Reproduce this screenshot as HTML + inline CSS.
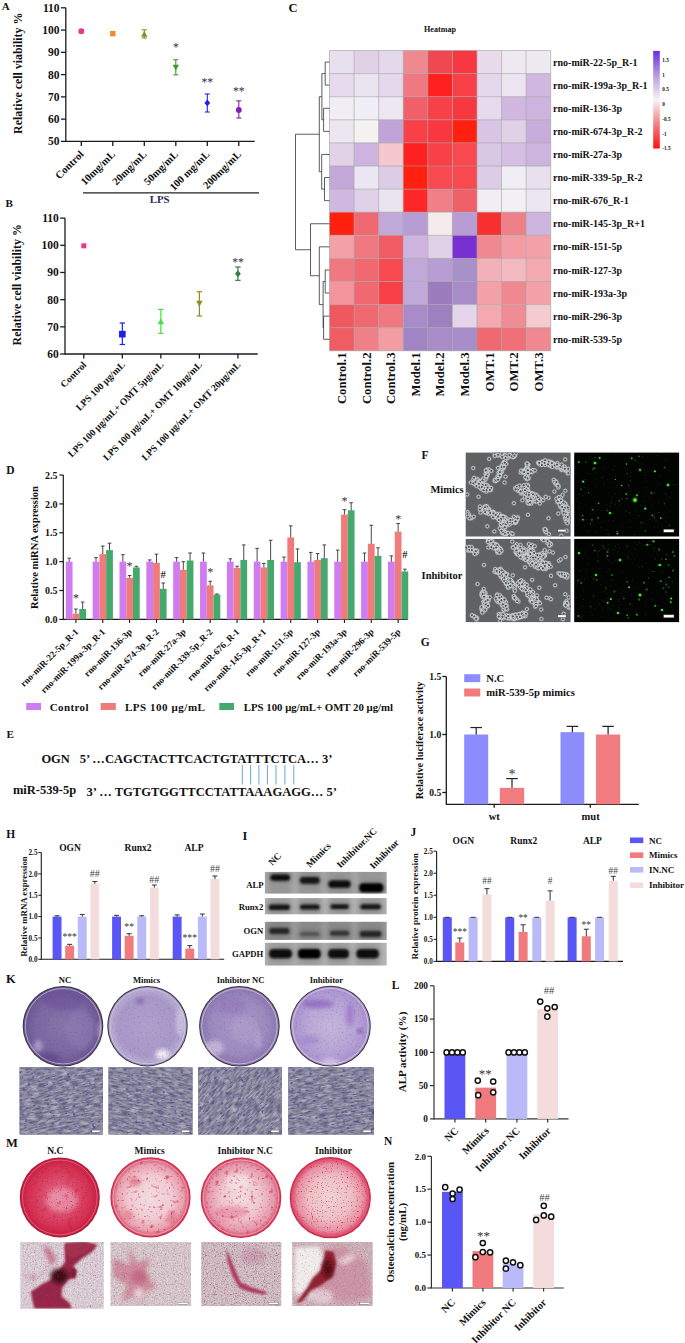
<!DOCTYPE html>
<html><head><meta charset="utf-8"><style>
html,body{margin:0;padding:0;background:#fff;}
body{width:685px;height:1343px;overflow:hidden;position:relative;font-family:"Liberation Serif", serif;}
svg{position:absolute;left:0;top:0;}
</style></head><body>
<svg width="685" height="1343" viewBox="0 0 685 1343" font-family='"Liberation Serif", serif'>
<text x="1.80" y="10.40" font-size="11" text-anchor="start" font-weight="bold" fill="#111" >A</text>
<line x1="65.80" y1="7.80" x2="65.80" y2="142.00" stroke="#1a1a1a" stroke-width="1.3"/>
<line x1="61.00" y1="141.40" x2="65.80" y2="141.40" stroke="#1a1a1a" stroke-width="1.3"/>
<text x="59.60" y="145.40" font-size="11.5" text-anchor="end" font-weight="bold" fill="#111" >50</text>
<line x1="61.00" y1="119.13" x2="65.80" y2="119.13" stroke="#1a1a1a" stroke-width="1.3"/>
<text x="59.60" y="123.13" font-size="11.5" text-anchor="end" font-weight="bold" fill="#111" >60</text>
<line x1="61.00" y1="96.87" x2="65.80" y2="96.87" stroke="#1a1a1a" stroke-width="1.3"/>
<text x="59.60" y="100.87" font-size="11.5" text-anchor="end" font-weight="bold" fill="#111" >70</text>
<line x1="61.00" y1="74.60" x2="65.80" y2="74.60" stroke="#1a1a1a" stroke-width="1.3"/>
<text x="59.60" y="78.60" font-size="11.5" text-anchor="end" font-weight="bold" fill="#111" >80</text>
<line x1="61.00" y1="52.33" x2="65.80" y2="52.33" stroke="#1a1a1a" stroke-width="1.3"/>
<text x="59.60" y="56.33" font-size="11.5" text-anchor="end" font-weight="bold" fill="#111" >90</text>
<line x1="61.00" y1="30.07" x2="65.80" y2="30.07" stroke="#1a1a1a" stroke-width="1.3"/>
<text x="59.60" y="34.07" font-size="11.5" text-anchor="end" font-weight="bold" fill="#111" >100</text>
<line x1="61.00" y1="7.80" x2="65.80" y2="7.80" stroke="#1a1a1a" stroke-width="1.3"/>
<text x="59.60" y="11.80" font-size="11.5" text-anchor="end" font-weight="bold" fill="#111" >110</text>
<line x1="65.80" y1="141.40" x2="254.70" y2="141.40" stroke="#1a1a1a" stroke-width="1.3"/>
<line x1="81.30" y1="141.40" x2="81.30" y2="145.90" stroke="#1a1a1a" stroke-width="1.3"/>
<line x1="112.80" y1="141.40" x2="112.80" y2="145.90" stroke="#1a1a1a" stroke-width="1.3"/>
<line x1="144.30" y1="141.40" x2="144.30" y2="145.90" stroke="#1a1a1a" stroke-width="1.3"/>
<line x1="175.80" y1="141.40" x2="175.80" y2="145.90" stroke="#1a1a1a" stroke-width="1.3"/>
<line x1="207.30" y1="141.40" x2="207.30" y2="145.90" stroke="#1a1a1a" stroke-width="1.3"/>
<line x1="238.80" y1="141.40" x2="238.80" y2="145.90" stroke="#1a1a1a" stroke-width="1.3"/>
<text x="84.30" y="154.90" font-size="10.6" text-anchor="end" font-weight="bold" fill="#111" transform="rotate(-45 84.30 154.90)" >Control</text>
<text x="115.80" y="154.90" font-size="10.6" text-anchor="end" font-weight="bold" fill="#111" transform="rotate(-45 115.80 154.90)" >10mg/mL</text>
<text x="147.30" y="154.90" font-size="10.6" text-anchor="end" font-weight="bold" fill="#111" transform="rotate(-45 147.30 154.90)" >20mg/mL</text>
<text x="178.80" y="154.90" font-size="10.6" text-anchor="end" font-weight="bold" fill="#111" transform="rotate(-45 178.80 154.90)" >50mg/mL</text>
<text x="210.30" y="154.90" font-size="10.6" text-anchor="end" font-weight="bold" fill="#111" transform="rotate(-45 210.30 154.90)" >100 mg/mL</text>
<text x="241.80" y="154.90" font-size="10.6" text-anchor="end" font-weight="bold" fill="#111" transform="rotate(-45 241.80 154.90)" >200mg/mL</text>
<text x="21.80" y="73.30" font-size="11.9" text-anchor="middle" font-weight="bold" fill="#111" transform="rotate(-90 21.80 73.30)" >Relative cell viability %</text>
<line x1="83.00" y1="192.80" x2="259.00" y2="192.80" stroke="#222" stroke-width="1.2"/>
<text x="159.60" y="203.20" font-size="10.8" text-anchor="middle" font-weight="bold" fill="#2b2b55" >LPS</text>
<line x1="81.30" y1="32.74" x2="81.30" y2="29.62" stroke="#e8378c" stroke-width="1.1"/>
<line x1="78.80" y1="32.74" x2="83.80" y2="32.74" stroke="#e8378c" stroke-width="1.1"/>
<line x1="78.80" y1="29.62" x2="83.80" y2="29.62" stroke="#e8378c" stroke-width="1.1"/>
<circle cx="81.3" cy="31.2" r="2.90" fill="#e8378c" />
<rect x="110.10" y="30.93" width="5.40" height="5.40" fill="#f08a2a" />
<line x1="144.30" y1="38.08" x2="144.30" y2="29.84" stroke="#8c8c26" stroke-width="1.1"/>
<line x1="141.80" y1="38.08" x2="146.80" y2="38.08" stroke="#8c8c26" stroke-width="1.1"/>
<line x1="141.80" y1="29.84" x2="146.80" y2="29.84" stroke="#8c8c26" stroke-width="1.1"/>
<path d="M141.11,36.68 L147.49,36.68 L144.30,30.88 Z" fill="#8c8c26" stroke="none" stroke-width="1" />
<line x1="175.80" y1="74.82" x2="175.80" y2="59.68" stroke="#3e9a2a" stroke-width="1.1"/>
<line x1="173.30" y1="74.82" x2="178.30" y2="74.82" stroke="#3e9a2a" stroke-width="1.1"/>
<line x1="173.30" y1="59.68" x2="178.30" y2="59.68" stroke="#3e9a2a" stroke-width="1.1"/>
<path d="M172.61,64.64 L178.99,64.64 L175.80,70.44 Z" fill="#3e9a2a" stroke="none" stroke-width="1" />
<line x1="207.30" y1="112.01" x2="207.30" y2="93.97" stroke="#2222f0" stroke-width="1.1"/>
<line x1="204.80" y1="112.01" x2="209.80" y2="112.01" stroke="#2222f0" stroke-width="1.1"/>
<line x1="204.80" y1="93.97" x2="209.80" y2="93.97" stroke="#2222f0" stroke-width="1.1"/>
<path d="M207.30,99.40 L210.20,102.88 L207.30,106.36 L204.40,102.88 Z" fill="#2222f0" stroke="none" stroke-width="1" />
<line x1="238.80" y1="118.02" x2="238.80" y2="100.87" stroke="#7d22b4" stroke-width="1.1"/>
<line x1="236.30" y1="118.02" x2="241.30" y2="118.02" stroke="#7d22b4" stroke-width="1.1"/>
<line x1="236.30" y1="100.87" x2="241.30" y2="100.87" stroke="#7d22b4" stroke-width="1.1"/>
<circle cx="238.8" cy="110.0" r="2.90" fill="#7d22b4" />
<text x="175.80" y="51.00" font-size="11.5" text-anchor="middle" font-weight="normal" fill="#2a2a50" >*</text>
<text x="207.30" y="86.00" font-size="11.5" text-anchor="middle" font-weight="normal" fill="#2a2a50" >**</text>
<text x="238.80" y="95.00" font-size="11.5" text-anchor="middle" font-weight="normal" fill="#2a2a50" >**</text>
<text x="5.50" y="206.80" font-size="11" text-anchor="start" font-weight="bold" fill="#111" >B</text>
<line x1="65.00" y1="218.10" x2="65.00" y2="354.60" stroke="#1a1a1a" stroke-width="1.3"/>
<line x1="60.20" y1="354.00" x2="65.00" y2="354.00" stroke="#1a1a1a" stroke-width="1.3"/>
<text x="58.80" y="358.00" font-size="11.5" text-anchor="end" font-weight="bold" fill="#111" >60</text>
<line x1="60.20" y1="326.82" x2="65.00" y2="326.82" stroke="#1a1a1a" stroke-width="1.3"/>
<text x="58.80" y="330.82" font-size="11.5" text-anchor="end" font-weight="bold" fill="#111" >70</text>
<line x1="60.20" y1="299.64" x2="65.00" y2="299.64" stroke="#1a1a1a" stroke-width="1.3"/>
<text x="58.80" y="303.64" font-size="11.5" text-anchor="end" font-weight="bold" fill="#111" >80</text>
<line x1="60.20" y1="272.46" x2="65.00" y2="272.46" stroke="#1a1a1a" stroke-width="1.3"/>
<text x="58.80" y="276.46" font-size="11.5" text-anchor="end" font-weight="bold" fill="#111" >90</text>
<line x1="60.20" y1="245.28" x2="65.00" y2="245.28" stroke="#1a1a1a" stroke-width="1.3"/>
<text x="58.80" y="249.28" font-size="11.5" text-anchor="end" font-weight="bold" fill="#111" >100</text>
<line x1="60.20" y1="218.10" x2="65.00" y2="218.10" stroke="#1a1a1a" stroke-width="1.3"/>
<text x="58.80" y="222.10" font-size="11.5" text-anchor="end" font-weight="bold" fill="#111" >110</text>
<line x1="65.00" y1="354.00" x2="257.70" y2="354.00" stroke="#1a1a1a" stroke-width="1.3"/>
<line x1="83.80" y1="354.00" x2="83.80" y2="358.50" stroke="#1a1a1a" stroke-width="1.3"/>
<line x1="122.33" y1="354.00" x2="122.33" y2="358.50" stroke="#1a1a1a" stroke-width="1.3"/>
<line x1="160.86" y1="354.00" x2="160.86" y2="358.50" stroke="#1a1a1a" stroke-width="1.3"/>
<line x1="199.39" y1="354.00" x2="199.39" y2="358.50" stroke="#1a1a1a" stroke-width="1.3"/>
<line x1="237.92" y1="354.00" x2="237.92" y2="358.50" stroke="#1a1a1a" stroke-width="1.3"/>
<text x="87.00" y="365.50" font-size="9.7" text-anchor="end" font-weight="bold" fill="#111" transform="rotate(-45 87.00 365.50)" >Control</text>
<text x="125.53" y="365.50" font-size="9.7" text-anchor="end" font-weight="bold" fill="#111" transform="rotate(-45 125.53 365.50)" >LPS 100 μg/mL</text>
<text x="164.06" y="365.50" font-size="9.7" text-anchor="end" font-weight="bold" fill="#111" transform="rotate(-45 164.06 365.50)" >LPS 100 μg/mL+ OMT 5μg/mL</text>
<text x="202.59" y="365.50" font-size="9.7" text-anchor="end" font-weight="bold" fill="#111" transform="rotate(-45 202.59 365.50)" >LPS 100 μg/mL+ OMT 10μg/mL</text>
<text x="241.12" y="365.50" font-size="9.7" text-anchor="end" font-weight="bold" fill="#111" transform="rotate(-45 241.12 365.50)" >LPS 100 μg/mL+ OMT 20μg/mL</text>
<text x="20.80" y="284.80" font-size="11.9" text-anchor="middle" font-weight="bold" fill="#111" transform="rotate(-90 20.80 284.80)" >Relative cell viability %</text>
<rect x="81.30" y="243.32" width="5.00" height="5.00" fill="#e8378c" />
<line x1="122.33" y1="344.49" x2="122.33" y2="323.01" stroke="#1e1ef0" stroke-width="1.2"/>
<line x1="119.63" y1="344.49" x2="125.03" y2="344.49" stroke="#1e1ef0" stroke-width="1.2"/>
<line x1="119.63" y1="323.01" x2="125.03" y2="323.01" stroke="#1e1ef0" stroke-width="1.2"/>
<rect x="119.03" y="330.86" width="6.60" height="6.60" fill="#1e1ef0" />
<line x1="160.86" y1="333.34" x2="160.86" y2="309.42" stroke="#40e040" stroke-width="1.2"/>
<line x1="158.16" y1="333.34" x2="163.56" y2="333.34" stroke="#40e040" stroke-width="1.2"/>
<line x1="158.16" y1="309.42" x2="163.56" y2="309.42" stroke="#40e040" stroke-width="1.2"/>
<path d="M157.67,324.27 L164.05,324.27 L160.86,318.47 Z" fill="#40e040" stroke="none" stroke-width="1" />
<line x1="199.39" y1="315.95" x2="199.39" y2="291.76" stroke="#8c8c26" stroke-width="1.2"/>
<line x1="196.69" y1="315.95" x2="202.09" y2="315.95" stroke="#8c8c26" stroke-width="1.2"/>
<line x1="196.69" y1="291.76" x2="202.09" y2="291.76" stroke="#8c8c26" stroke-width="1.2"/>
<path d="M196.20,300.84 L202.58,300.84 L199.39,306.64 Z" fill="#8c8c26" stroke="none" stroke-width="1" />
<line x1="237.92" y1="280.34" x2="237.92" y2="267.02" stroke="#2e7d4a" stroke-width="1.2"/>
<line x1="235.22" y1="280.34" x2="240.62" y2="280.34" stroke="#2e7d4a" stroke-width="1.2"/>
<line x1="235.22" y1="267.02" x2="240.62" y2="267.02" stroke="#2e7d4a" stroke-width="1.2"/>
<path d="M237.92,270.34 L240.82,273.82 L237.92,277.30 L235.02,273.82 Z" fill="#2e7d4a" stroke="none" stroke-width="1" />
<text x="237.92" y="266.00" font-size="11.5" text-anchor="middle" font-weight="normal" fill="#2a2a50" >**</text>
<text x="288.60" y="12.40" font-size="12.5" text-anchor="start" font-weight="bold" fill="#111" >C</text>
<text x="440.00" y="31.80" font-size="8.1" text-anchor="middle" font-weight="bold" fill="#111" >Heatmap</text>
<rect x="329.50" y="50.50" width="24.58" height="23.10" fill="#E8E0EE" />
<rect x="354.08" y="50.50" width="24.58" height="23.10" fill="#E0D0E8" />
<rect x="378.66" y="50.50" width="24.58" height="23.10" fill="#E4D8EC" />
<rect x="403.23" y="50.50" width="24.58" height="23.10" fill="#F08890" />
<rect x="427.81" y="50.50" width="24.58" height="23.10" fill="#F04850" />
<rect x="452.39" y="50.50" width="24.58" height="23.10" fill="#F83840" />
<rect x="476.97" y="50.50" width="24.58" height="23.10" fill="#E8DCEC" />
<rect x="501.54" y="50.50" width="24.58" height="23.10" fill="#EEE8F0" />
<rect x="526.12" y="50.50" width="24.58" height="23.10" fill="#EEEAF2" />
<rect x="329.50" y="73.60" width="24.58" height="23.10" fill="#E6DAEC" />
<rect x="354.08" y="73.60" width="24.58" height="23.10" fill="#EAE4F0" />
<rect x="378.66" y="73.60" width="24.58" height="23.10" fill="#E4D8EC" />
<rect x="403.23" y="73.60" width="24.58" height="23.10" fill="#F07880" />
<rect x="427.81" y="73.60" width="24.58" height="23.10" fill="#FF2020" />
<rect x="452.39" y="73.60" width="24.58" height="23.10" fill="#F84048" />
<rect x="476.97" y="73.60" width="24.58" height="23.10" fill="#E4D8EC" />
<rect x="501.54" y="73.60" width="24.58" height="23.10" fill="#ECE4F0" />
<rect x="526.12" y="73.60" width="24.58" height="23.10" fill="#D0B8E0" />
<rect x="329.50" y="96.70" width="24.58" height="23.10" fill="#F0EEF4" />
<rect x="354.08" y="96.70" width="24.58" height="23.10" fill="#F0EEF6" />
<rect x="378.66" y="96.70" width="24.58" height="23.10" fill="#ECE8F2" />
<rect x="403.23" y="96.70" width="24.58" height="23.10" fill="#F06068" />
<rect x="427.81" y="96.70" width="24.58" height="23.10" fill="#F84048" />
<rect x="452.39" y="96.70" width="24.58" height="23.10" fill="#F83840" />
<rect x="476.97" y="96.70" width="24.58" height="23.10" fill="#E6DAEC" />
<rect x="501.54" y="96.70" width="24.58" height="23.10" fill="#D0B8E0" />
<rect x="526.12" y="96.70" width="24.58" height="23.10" fill="#CCB4DE" />
<rect x="329.50" y="119.80" width="24.58" height="23.10" fill="#ECE6F0" />
<rect x="354.08" y="119.80" width="24.58" height="23.10" fill="#F4F2F0" />
<rect x="378.66" y="119.80" width="24.58" height="23.10" fill="#C0A4D8" />
<rect x="403.23" y="119.80" width="24.58" height="23.10" fill="#F84048" />
<rect x="427.81" y="119.80" width="24.58" height="23.10" fill="#F83840" />
<rect x="452.39" y="119.80" width="24.58" height="23.10" fill="#FF2010" />
<rect x="476.97" y="119.80" width="24.58" height="23.10" fill="#D8C4E4" />
<rect x="501.54" y="119.80" width="24.58" height="23.10" fill="#E0D0E8" />
<rect x="526.12" y="119.80" width="24.58" height="23.10" fill="#C8ACDC" />
<rect x="329.50" y="142.90" width="24.58" height="23.10" fill="#E2D2E8" />
<rect x="354.08" y="142.90" width="24.58" height="23.10" fill="#CCB4DE" />
<rect x="378.66" y="142.90" width="24.58" height="23.10" fill="#F4C8CC" />
<rect x="403.23" y="142.90" width="24.58" height="23.10" fill="#FF2020" />
<rect x="427.81" y="142.90" width="24.58" height="23.10" fill="#F84048" />
<rect x="452.39" y="142.90" width="24.58" height="23.10" fill="#F84850" />
<rect x="476.97" y="142.90" width="24.58" height="23.10" fill="#D8C8E4" />
<rect x="501.54" y="142.90" width="24.58" height="23.10" fill="#D4C0E2" />
<rect x="526.12" y="142.90" width="24.58" height="23.10" fill="#CCB4DE" />
<rect x="329.50" y="166.00" width="24.58" height="23.10" fill="#C4A8DA" />
<rect x="354.08" y="166.00" width="24.58" height="23.10" fill="#ECE6F2" />
<rect x="378.66" y="166.00" width="24.58" height="23.10" fill="#DCCCE6" />
<rect x="403.23" y="166.00" width="24.58" height="23.10" fill="#FF2010" />
<rect x="427.81" y="166.00" width="24.58" height="23.10" fill="#F84850" />
<rect x="452.39" y="166.00" width="24.58" height="23.10" fill="#F84850" />
<rect x="476.97" y="166.00" width="24.58" height="23.10" fill="#DCCCE6" />
<rect x="501.54" y="166.00" width="24.58" height="23.10" fill="#F0EEF4" />
<rect x="526.12" y="166.00" width="24.58" height="23.10" fill="#E8E0EE" />
<rect x="329.50" y="189.10" width="24.58" height="23.10" fill="#D0B8E0" />
<rect x="354.08" y="189.10" width="24.58" height="23.10" fill="#E0D0E8" />
<rect x="378.66" y="189.10" width="24.58" height="23.10" fill="#EAE4F0" />
<rect x="403.23" y="189.10" width="24.58" height="23.10" fill="#FF2828" />
<rect x="427.81" y="189.10" width="24.58" height="23.10" fill="#F08088" />
<rect x="452.39" y="189.10" width="24.58" height="23.10" fill="#F06068" />
<rect x="476.97" y="189.10" width="24.58" height="23.10" fill="#F0EEF4" />
<rect x="501.54" y="189.10" width="24.58" height="23.10" fill="#F2F0F4" />
<rect x="526.12" y="189.10" width="24.58" height="23.10" fill="#ECE6F2" />
<rect x="329.50" y="212.20" width="24.58" height="23.10" fill="#FF2010" />
<rect x="354.08" y="212.20" width="24.58" height="23.10" fill="#F06870" />
<rect x="378.66" y="212.20" width="24.58" height="23.10" fill="#C0A8D8" />
<rect x="403.23" y="212.20" width="24.58" height="23.10" fill="#B89CD4" />
<rect x="427.81" y="212.20" width="24.58" height="23.10" fill="#F4ECEC" />
<rect x="452.39" y="212.20" width="24.58" height="23.10" fill="#B89CD4" />
<rect x="476.97" y="212.20" width="24.58" height="23.10" fill="#F83030" />
<rect x="501.54" y="212.20" width="24.58" height="23.10" fill="#F08088" />
<rect x="526.12" y="212.20" width="24.58" height="23.10" fill="#CCB4DE" />
<rect x="329.50" y="235.30" width="24.58" height="23.10" fill="#F4A0A8" />
<rect x="354.08" y="235.30" width="24.58" height="23.10" fill="#F07880" />
<rect x="378.66" y="235.30" width="24.58" height="23.10" fill="#F05C64" />
<rect x="403.23" y="235.30" width="24.58" height="23.10" fill="#CCB4DE" />
<rect x="427.81" y="235.30" width="24.58" height="23.10" fill="#E0D0E8" />
<rect x="452.39" y="235.30" width="24.58" height="23.10" fill="#7830D0" />
<rect x="476.97" y="235.30" width="24.58" height="23.10" fill="#F08890" />
<rect x="501.54" y="235.30" width="24.58" height="23.10" fill="#F49CA4" />
<rect x="526.12" y="235.30" width="24.58" height="23.10" fill="#F4A0A8" />
<rect x="329.50" y="258.40" width="24.58" height="23.10" fill="#F07880" />
<rect x="354.08" y="258.40" width="24.58" height="23.10" fill="#F06870" />
<rect x="378.66" y="258.40" width="24.58" height="23.10" fill="#F84850" />
<rect x="403.23" y="258.40" width="24.58" height="23.10" fill="#C0A8D8" />
<rect x="427.81" y="258.40" width="24.58" height="23.10" fill="#B89CD4" />
<rect x="452.39" y="258.40" width="24.58" height="23.10" fill="#A890C8" />
<rect x="476.97" y="258.40" width="24.58" height="23.10" fill="#F4B0B8" />
<rect x="501.54" y="258.40" width="24.58" height="23.10" fill="#F4B8C0" />
<rect x="526.12" y="258.40" width="24.58" height="23.10" fill="#F4A8B0" />
<rect x="329.50" y="281.50" width="24.58" height="23.10" fill="#F4949C" />
<rect x="354.08" y="281.50" width="24.58" height="23.10" fill="#F06870" />
<rect x="378.66" y="281.50" width="24.58" height="23.10" fill="#F84048" />
<rect x="403.23" y="281.50" width="24.58" height="23.10" fill="#C0A8D8" />
<rect x="427.81" y="281.50" width="24.58" height="23.10" fill="#9C7CBC" />
<rect x="452.39" y="281.50" width="24.58" height="23.10" fill="#A88CC8" />
<rect x="476.97" y="281.50" width="24.58" height="23.10" fill="#F4A0A8" />
<rect x="501.54" y="281.50" width="24.58" height="23.10" fill="#F08890" />
<rect x="526.12" y="281.50" width="24.58" height="23.10" fill="#F4A0A8" />
<rect x="329.50" y="304.60" width="24.58" height="23.10" fill="#F05860" />
<rect x="354.08" y="304.60" width="24.58" height="23.10" fill="#F06870" />
<rect x="378.66" y="304.60" width="24.58" height="23.10" fill="#F07880" />
<rect x="403.23" y="304.60" width="24.58" height="23.10" fill="#A88CC8" />
<rect x="427.81" y="304.60" width="24.58" height="23.10" fill="#9C80C0" />
<rect x="452.39" y="304.60" width="24.58" height="23.10" fill="#E4D4EC" />
<rect x="476.97" y="304.60" width="24.58" height="23.10" fill="#F4A8B0" />
<rect x="501.54" y="304.60" width="24.58" height="23.10" fill="#F08C94" />
<rect x="526.12" y="304.60" width="24.58" height="23.10" fill="#F4CCD0" />
<rect x="329.50" y="327.70" width="24.58" height="23.10" fill="#F05C64" />
<rect x="354.08" y="327.70" width="24.58" height="23.10" fill="#F08088" />
<rect x="378.66" y="327.70" width="24.58" height="23.10" fill="#F49CA4" />
<rect x="403.23" y="327.70" width="24.58" height="23.10" fill="#A084C4" />
<rect x="427.81" y="327.70" width="24.58" height="23.10" fill="#A88CC8" />
<rect x="452.39" y="327.70" width="24.58" height="23.10" fill="#A88CC8" />
<rect x="476.97" y="327.70" width="24.58" height="23.10" fill="#F06870" />
<rect x="501.54" y="327.70" width="24.58" height="23.10" fill="#F07078" />
<rect x="526.12" y="327.70" width="24.58" height="23.10" fill="#F08890" />
<line x1="329.50" y1="50.50" x2="329.50" y2="350.80" stroke="#a0a0a0" stroke-width="0.6"/>
<line x1="354.08" y1="50.50" x2="354.08" y2="350.80" stroke="#a0a0a0" stroke-width="0.6"/>
<line x1="378.66" y1="50.50" x2="378.66" y2="350.80" stroke="#a0a0a0" stroke-width="0.6"/>
<line x1="403.23" y1="50.50" x2="403.23" y2="350.80" stroke="#a0a0a0" stroke-width="0.6"/>
<line x1="427.81" y1="50.50" x2="427.81" y2="350.80" stroke="#a0a0a0" stroke-width="0.6"/>
<line x1="452.39" y1="50.50" x2="452.39" y2="350.80" stroke="#a0a0a0" stroke-width="0.6"/>
<line x1="476.97" y1="50.50" x2="476.97" y2="350.80" stroke="#a0a0a0" stroke-width="0.6"/>
<line x1="501.54" y1="50.50" x2="501.54" y2="350.80" stroke="#a0a0a0" stroke-width="0.6"/>
<line x1="526.12" y1="50.50" x2="526.12" y2="350.80" stroke="#a0a0a0" stroke-width="0.6"/>
<line x1="550.70" y1="50.50" x2="550.70" y2="350.80" stroke="#a0a0a0" stroke-width="0.6"/>
<line x1="329.50" y1="50.50" x2="550.70" y2="50.50" stroke="#a0a0a0" stroke-width="0.6"/>
<line x1="329.50" y1="73.60" x2="550.70" y2="73.60" stroke="#a0a0a0" stroke-width="0.6"/>
<line x1="329.50" y1="96.70" x2="550.70" y2="96.70" stroke="#a0a0a0" stroke-width="0.6"/>
<line x1="329.50" y1="119.80" x2="550.70" y2="119.80" stroke="#a0a0a0" stroke-width="0.6"/>
<line x1="329.50" y1="142.90" x2="550.70" y2="142.90" stroke="#a0a0a0" stroke-width="0.6"/>
<line x1="329.50" y1="166.00" x2="550.70" y2="166.00" stroke="#a0a0a0" stroke-width="0.6"/>
<line x1="329.50" y1="189.10" x2="550.70" y2="189.10" stroke="#a0a0a0" stroke-width="0.6"/>
<line x1="329.50" y1="212.20" x2="550.70" y2="212.20" stroke="#a0a0a0" stroke-width="0.6"/>
<line x1="329.50" y1="235.30" x2="550.70" y2="235.30" stroke="#a0a0a0" stroke-width="0.6"/>
<line x1="329.50" y1="258.40" x2="550.70" y2="258.40" stroke="#a0a0a0" stroke-width="0.6"/>
<line x1="329.50" y1="281.50" x2="550.70" y2="281.50" stroke="#a0a0a0" stroke-width="0.6"/>
<line x1="329.50" y1="304.60" x2="550.70" y2="304.60" stroke="#a0a0a0" stroke-width="0.6"/>
<line x1="329.50" y1="327.70" x2="550.70" y2="327.70" stroke="#a0a0a0" stroke-width="0.6"/>
<line x1="329.50" y1="350.80" x2="550.70" y2="350.80" stroke="#a0a0a0" stroke-width="0.6"/>
<text x="553.10" y="65.65" font-size="10" text-anchor="start" font-weight="bold" fill="#111" >rno-miR-22-5p_R-1</text>
<text x="553.10" y="88.75" font-size="10" text-anchor="start" font-weight="bold" fill="#111" >rno-miR-199a-3p_R-1</text>
<text x="553.10" y="111.85" font-size="10" text-anchor="start" font-weight="bold" fill="#111" >rno-miR-136-3p</text>
<text x="553.10" y="134.95" font-size="10" text-anchor="start" font-weight="bold" fill="#111" >rno-miR-674-3p_R-2</text>
<text x="553.10" y="158.05" font-size="10" text-anchor="start" font-weight="bold" fill="#111" >rno-miR-27a-3p</text>
<text x="553.10" y="181.15" font-size="10" text-anchor="start" font-weight="bold" fill="#111" >rno-miR-339-5p_R-2</text>
<text x="553.10" y="204.25" font-size="10" text-anchor="start" font-weight="bold" fill="#111" >rno-miR-676_R-1</text>
<text x="553.10" y="227.35" font-size="10" text-anchor="start" font-weight="bold" fill="#111" >rno-miR-145-3p_R+1</text>
<text x="553.10" y="250.45" font-size="10" text-anchor="start" font-weight="bold" fill="#111" >rno-miR-151-5p</text>
<text x="553.10" y="273.55" font-size="10" text-anchor="start" font-weight="bold" fill="#111" >rno-miR-127-3p</text>
<text x="553.10" y="296.65" font-size="10" text-anchor="start" font-weight="bold" fill="#111" >rno-miR-193a-3p</text>
<text x="553.10" y="319.75" font-size="10" text-anchor="start" font-weight="bold" fill="#111" >rno-miR-296-3p</text>
<text x="553.10" y="342.85" font-size="10" text-anchor="start" font-weight="bold" fill="#111" >rno-miR-539-5p</text>
<text x="346.09" y="352.50" font-size="12.7" text-anchor="end" font-weight="bold" fill="#111" transform="rotate(-90 346.09 352.50)" >Control.1</text>
<text x="370.67" y="352.50" font-size="12.7" text-anchor="end" font-weight="bold" fill="#111" transform="rotate(-90 370.67 352.50)" >Control.2</text>
<text x="395.24" y="352.50" font-size="12.7" text-anchor="end" font-weight="bold" fill="#111" transform="rotate(-90 395.24 352.50)" >Control.3</text>
<text x="419.82" y="352.50" font-size="12.7" text-anchor="end" font-weight="bold" fill="#111" transform="rotate(-90 419.82 352.50)" >Model.1</text>
<text x="444.40" y="352.50" font-size="12.7" text-anchor="end" font-weight="bold" fill="#111" transform="rotate(-90 444.40 352.50)" >Model.2</text>
<text x="468.98" y="352.50" font-size="12.7" text-anchor="end" font-weight="bold" fill="#111" transform="rotate(-90 468.98 352.50)" >Model.3</text>
<text x="493.56" y="352.50" font-size="12.7" text-anchor="end" font-weight="bold" fill="#111" transform="rotate(-90 493.56 352.50)" >OMT.1</text>
<text x="518.13" y="352.50" font-size="12.7" text-anchor="end" font-weight="bold" fill="#111" transform="rotate(-90 518.13 352.50)" >OMT.2</text>
<text x="542.71" y="352.50" font-size="12.7" text-anchor="end" font-weight="bold" fill="#111" transform="rotate(-90 542.71 352.50)" >OMT.3</text>
<path d="M329.50,62.05 L325.20,62.05 L325.20,85.15 L329.50,85.15" fill="none" stroke="#333" stroke-width="0.8" />
<path d="M329.50,108.25 L323.60,108.25 L323.60,131.35 L329.50,131.35" fill="none" stroke="#333" stroke-width="0.8" />
<path d="M325.20,73.60 L321.90,73.60 L321.90,119.80 L323.60,119.80" fill="none" stroke="#333" stroke-width="0.8" />
<path d="M329.50,177.55 L324.50,177.55 L324.50,200.65 L329.50,200.65" fill="none" stroke="#333" stroke-width="0.8" />
<path d="M329.50,154.45 L321.70,154.45 L321.70,189.10 L324.50,189.10" fill="none" stroke="#333" stroke-width="0.8" />
<path d="M321.90,96.70 L319.30,96.70 L319.30,171.78 L321.70,171.78" fill="none" stroke="#333" stroke-width="0.8" />
<path d="M329.50,269.95 L325.20,269.95 L325.20,293.05 L329.50,293.05" fill="none" stroke="#333" stroke-width="0.8" />
<path d="M329.50,316.15 L323.60,316.15 L323.60,339.25 L329.50,339.25" fill="none" stroke="#333" stroke-width="0.8" />
<path d="M325.20,281.50 L323.10,281.50 L323.10,327.70 L323.60,327.70" fill="none" stroke="#333" stroke-width="0.8" />
<path d="M329.50,246.85 L319.30,246.85 L319.30,304.60 L323.10,304.60" fill="none" stroke="#333" stroke-width="0.8" />
<path d="M329.50,223.75 L310.50,223.75 L310.50,275.73 L319.30,275.73" fill="none" stroke="#333" stroke-width="0.8" />
<path d="M319.30,134.24 L295.50,134.24 L295.50,249.74 L310.50,249.74" fill="none" stroke="#333" stroke-width="0.8" />
<defs><linearGradient id="cb" x1="0" y1="0" x2="0" y2="1"><stop offset="0" stop-color="#6a2ee0"/><stop offset="0.25" stop-color="#b89ce0"/><stop offset="0.5" stop-color="#f6f4f6"/><stop offset="0.75" stop-color="#f48080"/><stop offset="1" stop-color="#ff1010"/></linearGradient></defs>
<rect x="653.20" y="50.90" width="6.60" height="97.60" fill="url(#cb)" />
<text x="662.30" y="61.80" font-size="5.2" text-anchor="start" font-weight="bold" fill="#111" >1.5</text>
<text x="662.30" y="76.58" font-size="5.2" text-anchor="start" font-weight="bold" fill="#111" >1</text>
<text x="662.30" y="91.36" font-size="5.2" text-anchor="start" font-weight="bold" fill="#111" >0.5</text>
<text x="662.30" y="106.14" font-size="5.2" text-anchor="start" font-weight="bold" fill="#111" >0</text>
<text x="662.30" y="120.92" font-size="5.2" text-anchor="start" font-weight="bold" fill="#111" >-0.5</text>
<text x="662.30" y="135.70" font-size="5.2" text-anchor="start" font-weight="bold" fill="#111" >-1</text>
<text x="662.30" y="150.48" font-size="5.2" text-anchor="start" font-weight="bold" fill="#111" >-1.5</text>
<text x="6.20" y="473.80" font-size="11.5" text-anchor="start" font-weight="bold" fill="#111" >D</text>
<line x1="63.30" y1="475.02" x2="63.30" y2="620.00" stroke="#1a1a1a" stroke-width="1.2"/>
<line x1="59.30" y1="619.40" x2="63.30" y2="619.40" stroke="#1a1a1a" stroke-width="1.2"/>
<text x="57.60" y="623.00" font-size="10" text-anchor="end" font-weight="bold" fill="#111" >0.0</text>
<line x1="59.30" y1="590.52" x2="63.30" y2="590.52" stroke="#1a1a1a" stroke-width="1.2"/>
<text x="57.60" y="594.12" font-size="10" text-anchor="end" font-weight="bold" fill="#111" >0.5</text>
<line x1="59.30" y1="561.65" x2="63.30" y2="561.65" stroke="#1a1a1a" stroke-width="1.2"/>
<text x="57.60" y="565.25" font-size="10" text-anchor="end" font-weight="bold" fill="#111" >1.0</text>
<line x1="59.30" y1="532.77" x2="63.30" y2="532.77" stroke="#1a1a1a" stroke-width="1.2"/>
<text x="57.60" y="536.38" font-size="10" text-anchor="end" font-weight="bold" fill="#111" >1.5</text>
<line x1="59.30" y1="503.90" x2="63.30" y2="503.90" stroke="#1a1a1a" stroke-width="1.2"/>
<text x="57.60" y="507.50" font-size="10" text-anchor="end" font-weight="bold" fill="#111" >2.0</text>
<line x1="59.30" y1="475.02" x2="63.30" y2="475.02" stroke="#1a1a1a" stroke-width="1.2"/>
<text x="57.60" y="478.62" font-size="10" text-anchor="end" font-weight="bold" fill="#111" >2.5</text>
<text x="38.30" y="547.50" font-size="10.5" text-anchor="middle" font-weight="bold" fill="#111" transform="rotate(-90 38.30 547.50)" >Relative miRNA expression</text>
<line x1="63.30" y1="619.40" x2="407.80" y2="619.40" stroke="#1a1a1a" stroke-width="1.2"/>
<rect x="65.80" y="561.65" width="6.75" height="57.75" fill="#cf7bf2" />
<line x1="69.17" y1="561.65" x2="69.17" y2="558.18" stroke="#333" stroke-width="0.9"/>
<line x1="67.38" y1="558.18" x2="70.97" y2="558.18" stroke="#333" stroke-width="0.9"/>
<rect x="72.55" y="613.62" width="6.75" height="5.77" fill="#f07b7b" />
<line x1="75.92" y1="613.62" x2="75.92" y2="609.00" stroke="#333" stroke-width="0.9"/>
<line x1="74.12" y1="609.00" x2="77.72" y2="609.00" stroke="#333" stroke-width="0.9"/>
<rect x="79.30" y="609.00" width="6.75" height="10.39" fill="#45a86c" />
<line x1="82.67" y1="609.00" x2="82.67" y2="602.07" stroke="#333" stroke-width="0.9"/>
<line x1="80.88" y1="602.07" x2="84.47" y2="602.07" stroke="#333" stroke-width="0.9"/>
<line x1="75.92" y1="619.40" x2="75.92" y2="622.90" stroke="#1a1a1a" stroke-width="1.1"/>
<rect x="92.65" y="561.65" width="6.75" height="57.75" fill="#cf7bf2" />
<line x1="96.03" y1="561.65" x2="96.03" y2="557.61" stroke="#333" stroke-width="0.9"/>
<line x1="94.23" y1="557.61" x2="97.83" y2="557.61" stroke="#333" stroke-width="0.9"/>
<rect x="99.40" y="554.14" width="6.75" height="65.26" fill="#f07b7b" />
<line x1="102.78" y1="554.14" x2="102.78" y2="546.06" stroke="#333" stroke-width="0.9"/>
<line x1="100.98" y1="546.06" x2="104.58" y2="546.06" stroke="#333" stroke-width="0.9"/>
<rect x="106.15" y="550.10" width="6.75" height="69.30" fill="#45a86c" />
<line x1="109.53" y1="550.10" x2="109.53" y2="543.17" stroke="#333" stroke-width="0.9"/>
<line x1="107.73" y1="543.17" x2="111.33" y2="543.17" stroke="#333" stroke-width="0.9"/>
<line x1="102.78" y1="619.40" x2="102.78" y2="622.90" stroke="#1a1a1a" stroke-width="1.1"/>
<rect x="119.50" y="561.65" width="6.75" height="57.75" fill="#cf7bf2" />
<line x1="122.88" y1="561.65" x2="122.88" y2="554.72" stroke="#333" stroke-width="0.9"/>
<line x1="121.08" y1="554.72" x2="124.67" y2="554.72" stroke="#333" stroke-width="0.9"/>
<rect x="126.25" y="577.82" width="6.75" height="41.58" fill="#f07b7b" />
<line x1="129.62" y1="577.82" x2="129.62" y2="575.51" stroke="#333" stroke-width="0.9"/>
<line x1="127.83" y1="575.51" x2="131.43" y2="575.51" stroke="#333" stroke-width="0.9"/>
<rect x="133.00" y="567.42" width="6.75" height="51.98" fill="#45a86c" />
<line x1="136.38" y1="567.42" x2="136.38" y2="566.27" stroke="#333" stroke-width="0.9"/>
<line x1="134.57" y1="566.27" x2="138.18" y2="566.27" stroke="#333" stroke-width="0.9"/>
<line x1="129.62" y1="619.40" x2="129.62" y2="622.90" stroke="#1a1a1a" stroke-width="1.1"/>
<rect x="146.35" y="561.65" width="6.75" height="57.75" fill="#cf7bf2" />
<line x1="149.73" y1="561.65" x2="149.73" y2="559.92" stroke="#333" stroke-width="0.9"/>
<line x1="147.93" y1="559.92" x2="151.53" y2="559.92" stroke="#333" stroke-width="0.9"/>
<rect x="153.10" y="562.80" width="6.75" height="56.60" fill="#f07b7b" />
<line x1="156.48" y1="562.80" x2="156.48" y2="554.14" stroke="#333" stroke-width="0.9"/>
<line x1="154.68" y1="554.14" x2="158.28" y2="554.14" stroke="#333" stroke-width="0.9"/>
<rect x="159.85" y="588.79" width="6.75" height="30.61" fill="#45a86c" />
<line x1="163.23" y1="588.79" x2="163.23" y2="583.02" stroke="#333" stroke-width="0.9"/>
<line x1="161.43" y1="583.02" x2="165.03" y2="583.02" stroke="#333" stroke-width="0.9"/>
<line x1="156.48" y1="619.40" x2="156.48" y2="622.90" stroke="#1a1a1a" stroke-width="1.1"/>
<rect x="173.20" y="561.65" width="6.75" height="57.75" fill="#cf7bf2" />
<line x1="176.57" y1="561.65" x2="176.57" y2="557.61" stroke="#333" stroke-width="0.9"/>
<line x1="174.77" y1="557.61" x2="178.38" y2="557.61" stroke="#333" stroke-width="0.9"/>
<rect x="179.95" y="569.74" width="6.75" height="49.66" fill="#f07b7b" />
<line x1="183.32" y1="569.74" x2="183.32" y2="561.65" stroke="#333" stroke-width="0.9"/>
<line x1="181.52" y1="561.65" x2="185.12" y2="561.65" stroke="#333" stroke-width="0.9"/>
<rect x="186.70" y="560.50" width="6.75" height="58.90" fill="#45a86c" />
<line x1="190.07" y1="560.50" x2="190.07" y2="552.99" stroke="#333" stroke-width="0.9"/>
<line x1="188.27" y1="552.99" x2="191.88" y2="552.99" stroke="#333" stroke-width="0.9"/>
<line x1="183.32" y1="619.40" x2="183.32" y2="622.90" stroke="#1a1a1a" stroke-width="1.1"/>
<rect x="200.05" y="561.65" width="6.75" height="57.75" fill="#cf7bf2" />
<line x1="203.43" y1="561.65" x2="203.43" y2="552.99" stroke="#333" stroke-width="0.9"/>
<line x1="201.62" y1="552.99" x2="205.23" y2="552.99" stroke="#333" stroke-width="0.9"/>
<rect x="206.80" y="585.33" width="6.75" height="34.07" fill="#f07b7b" />
<line x1="210.18" y1="585.33" x2="210.18" y2="581.28" stroke="#333" stroke-width="0.9"/>
<line x1="208.38" y1="581.28" x2="211.98" y2="581.28" stroke="#333" stroke-width="0.9"/>
<rect x="213.55" y="594.57" width="6.75" height="24.83" fill="#45a86c" />
<line x1="216.93" y1="594.57" x2="216.93" y2="593.99" stroke="#333" stroke-width="0.9"/>
<line x1="215.12" y1="593.99" x2="218.73" y2="593.99" stroke="#333" stroke-width="0.9"/>
<line x1="210.18" y1="619.40" x2="210.18" y2="622.90" stroke="#1a1a1a" stroke-width="1.1"/>
<rect x="226.90" y="561.65" width="6.75" height="57.75" fill="#cf7bf2" />
<line x1="230.28" y1="561.65" x2="230.28" y2="558.76" stroke="#333" stroke-width="0.9"/>
<line x1="228.48" y1="558.76" x2="232.08" y2="558.76" stroke="#333" stroke-width="0.9"/>
<rect x="233.65" y="568.00" width="6.75" height="51.40" fill="#f07b7b" />
<line x1="237.03" y1="568.00" x2="237.03" y2="566.27" stroke="#333" stroke-width="0.9"/>
<line x1="235.23" y1="566.27" x2="238.83" y2="566.27" stroke="#333" stroke-width="0.9"/>
<rect x="240.40" y="559.92" width="6.75" height="59.48" fill="#45a86c" />
<line x1="243.78" y1="559.92" x2="243.78" y2="544.90" stroke="#333" stroke-width="0.9"/>
<line x1="241.98" y1="544.90" x2="245.58" y2="544.90" stroke="#333" stroke-width="0.9"/>
<line x1="237.03" y1="619.40" x2="237.03" y2="622.90" stroke="#1a1a1a" stroke-width="1.1"/>
<rect x="253.75" y="561.65" width="6.75" height="57.75" fill="#cf7bf2" />
<line x1="257.12" y1="561.65" x2="257.12" y2="548.37" stroke="#333" stroke-width="0.9"/>
<line x1="255.32" y1="548.37" x2="258.93" y2="548.37" stroke="#333" stroke-width="0.9"/>
<rect x="260.50" y="567.42" width="6.75" height="51.98" fill="#f07b7b" />
<line x1="263.88" y1="567.42" x2="263.88" y2="563.38" stroke="#333" stroke-width="0.9"/>
<line x1="262.07" y1="563.38" x2="265.68" y2="563.38" stroke="#333" stroke-width="0.9"/>
<rect x="267.25" y="559.92" width="6.75" height="59.48" fill="#45a86c" />
<line x1="270.62" y1="559.92" x2="270.62" y2="540.28" stroke="#333" stroke-width="0.9"/>
<line x1="268.82" y1="540.28" x2="272.43" y2="540.28" stroke="#333" stroke-width="0.9"/>
<line x1="263.88" y1="619.40" x2="263.88" y2="622.90" stroke="#1a1a1a" stroke-width="1.1"/>
<rect x="280.60" y="561.65" width="6.75" height="57.75" fill="#cf7bf2" />
<line x1="283.98" y1="561.65" x2="283.98" y2="557.03" stroke="#333" stroke-width="0.9"/>
<line x1="282.18" y1="557.03" x2="285.78" y2="557.03" stroke="#333" stroke-width="0.9"/>
<rect x="287.35" y="537.39" width="6.75" height="82.00" fill="#f07b7b" />
<line x1="290.73" y1="537.39" x2="290.73" y2="525.85" stroke="#333" stroke-width="0.9"/>
<line x1="288.93" y1="525.85" x2="292.53" y2="525.85" stroke="#333" stroke-width="0.9"/>
<rect x="294.10" y="562.23" width="6.75" height="57.17" fill="#45a86c" />
<line x1="297.48" y1="562.23" x2="297.48" y2="548.94" stroke="#333" stroke-width="0.9"/>
<line x1="295.68" y1="548.94" x2="299.28" y2="548.94" stroke="#333" stroke-width="0.9"/>
<line x1="290.73" y1="619.40" x2="290.73" y2="622.90" stroke="#1a1a1a" stroke-width="1.1"/>
<rect x="307.45" y="561.65" width="6.75" height="57.75" fill="#cf7bf2" />
<line x1="310.82" y1="561.65" x2="310.82" y2="552.41" stroke="#333" stroke-width="0.9"/>
<line x1="309.02" y1="552.41" x2="312.62" y2="552.41" stroke="#333" stroke-width="0.9"/>
<rect x="314.20" y="559.92" width="6.75" height="59.48" fill="#f07b7b" />
<line x1="317.57" y1="559.92" x2="317.57" y2="553.56" stroke="#333" stroke-width="0.9"/>
<line x1="315.77" y1="553.56" x2="319.38" y2="553.56" stroke="#333" stroke-width="0.9"/>
<rect x="320.95" y="558.18" width="6.75" height="61.22" fill="#45a86c" />
<line x1="324.32" y1="558.18" x2="324.32" y2="544.90" stroke="#333" stroke-width="0.9"/>
<line x1="322.52" y1="544.90" x2="326.12" y2="544.90" stroke="#333" stroke-width="0.9"/>
<line x1="317.57" y1="619.40" x2="317.57" y2="622.90" stroke="#1a1a1a" stroke-width="1.1"/>
<rect x="334.30" y="561.65" width="6.75" height="57.75" fill="#cf7bf2" />
<line x1="337.68" y1="561.65" x2="337.68" y2="550.10" stroke="#333" stroke-width="0.9"/>
<line x1="335.88" y1="550.10" x2="339.48" y2="550.10" stroke="#333" stroke-width="0.9"/>
<rect x="341.05" y="514.58" width="6.75" height="104.82" fill="#f07b7b" />
<line x1="344.43" y1="514.58" x2="344.43" y2="509.67" stroke="#333" stroke-width="0.9"/>
<line x1="342.62" y1="509.67" x2="346.23" y2="509.67" stroke="#333" stroke-width="0.9"/>
<rect x="347.80" y="510.25" width="6.75" height="109.15" fill="#45a86c" />
<line x1="351.18" y1="510.25" x2="351.18" y2="502.75" stroke="#333" stroke-width="0.9"/>
<line x1="349.38" y1="502.75" x2="352.98" y2="502.75" stroke="#333" stroke-width="0.9"/>
<line x1="344.43" y1="619.40" x2="344.43" y2="622.90" stroke="#1a1a1a" stroke-width="1.1"/>
<rect x="361.15" y="561.65" width="6.75" height="57.75" fill="#cf7bf2" />
<line x1="364.53" y1="561.65" x2="364.53" y2="552.99" stroke="#333" stroke-width="0.9"/>
<line x1="362.73" y1="552.99" x2="366.33" y2="552.99" stroke="#333" stroke-width="0.9"/>
<rect x="367.90" y="543.75" width="6.75" height="75.65" fill="#f07b7b" />
<line x1="371.28" y1="543.75" x2="371.28" y2="525.27" stroke="#333" stroke-width="0.9"/>
<line x1="369.48" y1="525.27" x2="373.08" y2="525.27" stroke="#333" stroke-width="0.9"/>
<rect x="374.65" y="555.88" width="6.75" height="63.52" fill="#45a86c" />
<line x1="378.03" y1="555.88" x2="378.03" y2="547.79" stroke="#333" stroke-width="0.9"/>
<line x1="376.23" y1="547.79" x2="379.83" y2="547.79" stroke="#333" stroke-width="0.9"/>
<line x1="371.28" y1="619.40" x2="371.28" y2="622.90" stroke="#1a1a1a" stroke-width="1.1"/>
<rect x="388.00" y="561.65" width="6.75" height="57.75" fill="#cf7bf2" />
<line x1="391.38" y1="561.65" x2="391.38" y2="555.88" stroke="#333" stroke-width="0.9"/>
<line x1="389.58" y1="555.88" x2="393.18" y2="555.88" stroke="#333" stroke-width="0.9"/>
<rect x="394.75" y="531.62" width="6.75" height="87.78" fill="#f07b7b" />
<line x1="398.13" y1="531.62" x2="398.13" y2="523.53" stroke="#333" stroke-width="0.9"/>
<line x1="396.33" y1="523.53" x2="399.93" y2="523.53" stroke="#333" stroke-width="0.9"/>
<rect x="401.50" y="571.47" width="6.75" height="47.93" fill="#45a86c" />
<line x1="404.88" y1="571.47" x2="404.88" y2="569.16" stroke="#333" stroke-width="0.9"/>
<line x1="403.08" y1="569.16" x2="406.68" y2="569.16" stroke="#333" stroke-width="0.9"/>
<line x1="398.13" y1="619.40" x2="398.13" y2="622.90" stroke="#1a1a1a" stroke-width="1.1"/>
<text x="78.92" y="632.40" font-size="9.2" text-anchor="end" font-weight="bold" fill="#111" transform="rotate(-45 78.92 632.40)" >rno-miR-22-5p_R-1</text>
<text x="105.78" y="632.40" font-size="9.2" text-anchor="end" font-weight="bold" fill="#111" transform="rotate(-45 105.78 632.40)" >rno-miR-199a-3p_R-1</text>
<text x="132.62" y="632.40" font-size="9.2" text-anchor="end" font-weight="bold" fill="#111" transform="rotate(-45 132.62 632.40)" >rno-miR-136-3p</text>
<text x="159.48" y="632.40" font-size="9.2" text-anchor="end" font-weight="bold" fill="#111" transform="rotate(-45 159.48 632.40)" >rno-miR-674-3p_R-2</text>
<text x="186.32" y="632.40" font-size="9.2" text-anchor="end" font-weight="bold" fill="#111" transform="rotate(-45 186.32 632.40)" >rno-miR-27a-3p</text>
<text x="213.18" y="632.40" font-size="9.2" text-anchor="end" font-weight="bold" fill="#111" transform="rotate(-45 213.18 632.40)" >rno-miR-339-5p_R-2</text>
<text x="240.03" y="632.40" font-size="9.2" text-anchor="end" font-weight="bold" fill="#111" transform="rotate(-45 240.03 632.40)" >rno-miR-676_R-1</text>
<text x="266.88" y="632.40" font-size="9.2" text-anchor="end" font-weight="bold" fill="#111" transform="rotate(-45 266.88 632.40)" >rno-miR-145-3p_R+1</text>
<text x="293.73" y="632.40" font-size="9.2" text-anchor="end" font-weight="bold" fill="#111" transform="rotate(-45 293.73 632.40)" >rno-miR-151-5p</text>
<text x="320.57" y="632.40" font-size="9.2" text-anchor="end" font-weight="bold" fill="#111" transform="rotate(-45 320.57 632.40)" >rno-miR-127-3p</text>
<text x="347.43" y="632.40" font-size="9.2" text-anchor="end" font-weight="bold" fill="#111" transform="rotate(-45 347.43 632.40)" >rno-miR-193a-3p</text>
<text x="374.28" y="632.40" font-size="9.2" text-anchor="end" font-weight="bold" fill="#111" transform="rotate(-45 374.28 632.40)" >rno-miR-296-3p</text>
<text x="401.13" y="632.40" font-size="9.2" text-anchor="end" font-weight="bold" fill="#111" transform="rotate(-45 401.13 632.40)" >rno-miR-539-5p</text>
<text x="75.92" y="601.50" font-size="12" text-anchor="middle" font-weight="normal" fill="#333" >*</text>
<text x="129.62" y="569.50" font-size="12" text-anchor="middle" font-weight="normal" fill="#333" >*</text>
<text x="163.23" y="577.50" font-size="10.5" text-anchor="middle" font-weight="bold" fill="#333" >#</text>
<text x="210.18" y="575.50" font-size="12" text-anchor="middle" font-weight="normal" fill="#333" >*</text>
<text x="344.43" y="505.00" font-size="12" text-anchor="middle" font-weight="normal" fill="#333" >*</text>
<text x="398.13" y="522.50" font-size="12" text-anchor="middle" font-weight="normal" fill="#333" >*</text>
<text x="404.88" y="557.50" font-size="10.5" text-anchor="middle" font-weight="bold" fill="#333" >#</text>
<rect x="26.20" y="703.00" width="14.80" height="7.00" fill="#cf7bf2" />
<text x="49.70" y="710.80" font-size="11" text-anchor="start" font-weight="bold" fill="#111" letter-spacing="0.4">Control</text>
<rect x="100.70" y="703.00" width="15.10" height="7.00" fill="#f07b7b" />
<text x="124.90" y="710.80" font-size="11" text-anchor="start" font-weight="bold" fill="#111" letter-spacing="0.55">LPS 100 μg/mL</text>
<rect x="219.30" y="703.00" width="14.70" height="7.00" fill="#45a86c" />
<text x="243.80" y="710.80" font-size="10.8" text-anchor="start" font-weight="bold" fill="#111" >LPS 100 μg/mL+ OMT 20 μg/ml</text>
<text x="6.50" y="738.00" font-size="11" text-anchor="start" font-weight="bold" fill="#111" >E</text>
<text x="41.40" y="762.80" font-size="12.5" text-anchor="start" font-weight="bold" fill="#111" >OGN</text>
<text x="79.70" y="762.80" font-size="12.5" text-anchor="start" font-weight="bold" fill="#111" textLength="252.7" lengthAdjust="spacingAndGlyphs">5’ …CAGCTACTTCACTGTATTTCTCA… 3’</text>
<text x="12.90" y="793.60" font-size="12.5" text-anchor="start" font-weight="bold" fill="#111" >miR-539-5p</text>
<text x="86.50" y="796.20" font-size="12.5" text-anchor="start" font-weight="bold" fill="#111" textLength="250.5" lengthAdjust="spacingAndGlyphs">3’ … TGTGTGGTTCCTATTAAAGAGG… 5’</text>
<line x1="242.30" y1="765.10" x2="242.30" y2="784.50" stroke="#5b9bd5" stroke-width="0.9"/>
<line x1="250.60" y1="765.10" x2="250.60" y2="784.50" stroke="#5b9bd5" stroke-width="0.9"/>
<line x1="258.90" y1="765.10" x2="258.90" y2="784.50" stroke="#5b9bd5" stroke-width="0.9"/>
<line x1="267.40" y1="765.10" x2="267.40" y2="784.50" stroke="#5b9bd5" stroke-width="0.9"/>
<line x1="276.00" y1="765.10" x2="276.00" y2="784.50" stroke="#5b9bd5" stroke-width="0.9"/>
<line x1="284.90" y1="765.10" x2="284.90" y2="784.50" stroke="#5b9bd5" stroke-width="0.9"/>
<line x1="293.80" y1="765.10" x2="293.80" y2="784.50" stroke="#5b9bd5" stroke-width="0.9"/>
<text x="421.60" y="458.70" font-size="11.5" text-anchor="start" font-weight="bold" fill="#111" >F</text>
<text x="430.40" y="492.60" font-size="10.5" text-anchor="start" font-weight="bold" fill="#111" >Mimics</text>
<text x="421.60" y="578.80" font-size="10.5" text-anchor="start" font-weight="bold" fill="#111" >Inhibitor</text>
<g><clipPath id="cp11"><rect x="465.7" y="452.6" width="104.9" height="83.9"/></clipPath>
<rect x="465.70" y="452.60" width="104.90" height="83.90" fill="#5f6162" />
<g clip-path="url(#cp11)">
<g fill="#7a8486"><circle cx="497.6" cy="453.8" r="2.5"/><circle cx="498.1" cy="454.6" r="2.5"/><circle cx="495.0" cy="454.0" r="2.5"/><circle cx="504.5" cy="456.2" r="2.5"/><circle cx="496.7" cy="452.0" r="2.5"/><circle cx="497.9" cy="453.6" r="2.5"/><circle cx="501.2" cy="454.5" r="2.5"/><circle cx="494.6" cy="453.7" r="2.5"/><circle cx="497.1" cy="454.6" r="2.5"/><circle cx="497.8" cy="455.6" r="2.5"/><circle cx="499.4" cy="453.5" r="2.5"/><circle cx="500.8" cy="455.5" r="2.5"/><circle cx="507.8" cy="455.8" r="2.5"/><circle cx="502.0" cy="456.3" r="2.5"/><circle cx="500.0" cy="455.3" r="2.5"/><circle cx="500.1" cy="453.3" r="2.5"/><circle cx="505.1" cy="455.7" r="2.5"/><circle cx="498.7" cy="453.3" r="2.5"/><circle cx="504.8" cy="456.2" r="2.5"/><circle cx="501.9" cy="453.8" r="2.5"/><circle cx="494.8" cy="456.0" r="2.5"/><circle cx="503.9" cy="456.2" r="2.5"/><circle cx="498.1" cy="454.8" r="2.5"/><circle cx="505.9" cy="455.0" r="2.5"/><circle cx="507.5" cy="454.7" r="2.5"/><circle cx="513.5" cy="456.1" r="2.5"/><circle cx="507.5" cy="458.0" r="2.5"/><circle cx="513.2" cy="457.1" r="2.5"/><circle cx="506.0" cy="457.0" r="2.5"/><circle cx="514.3" cy="456.5" r="2.5"/><circle cx="507.7" cy="457.8" r="2.5"/><circle cx="508.8" cy="456.1" r="2.5"/><circle cx="505.4" cy="455.2" r="2.5"/><circle cx="510.7" cy="456.3" r="2.5"/><circle cx="513.8" cy="454.9" r="2.5"/><circle cx="515.1" cy="455.7" r="2.5"/><circle cx="515.6" cy="453.6" r="2.5"/><circle cx="507.4" cy="453.3" r="2.5"/><circle cx="509.8" cy="454.9" r="2.5"/><circle cx="511.2" cy="455.5" r="2.5"/><circle cx="507.1" cy="455.5" r="2.5"/><circle cx="512.9" cy="457.2" r="2.5"/><circle cx="511.5" cy="456.1" r="2.5"/><circle cx="514.2" cy="455.5" r="2.5"/><circle cx="512.6" cy="453.6" r="2.5"/><circle cx="509.5" cy="455.0" r="2.5"/><circle cx="503.6" cy="462.1" r="2.5"/><circle cx="504.2" cy="462.2" r="2.5"/><circle cx="503.5" cy="466.6" r="2.5"/><circle cx="503.6" cy="468.4" r="2.5"/><circle cx="502.0" cy="466.5" r="2.5"/><circle cx="505.4" cy="461.3" r="2.5"/><circle cx="502.8" cy="466.8" r="2.5"/><circle cx="501.2" cy="466.5" r="2.5"/><circle cx="503.7" cy="463.6" r="2.5"/><circle cx="502.7" cy="463.9" r="2.5"/><circle cx="502.1" cy="465.7" r="2.5"/><circle cx="501.3" cy="469.9" r="2.5"/><circle cx="503.0" cy="467.8" r="2.5"/><circle cx="503.3" cy="466.7" r="2.5"/><circle cx="501.7" cy="467.1" r="2.5"/><circle cx="504.0" cy="466.8" r="2.5"/><circle cx="498.8" cy="477.2" r="2.5"/><circle cx="500.2" cy="471.6" r="2.5"/><circle cx="500.4" cy="473.0" r="2.5"/><circle cx="500.1" cy="476.4" r="2.5"/><circle cx="500.1" cy="475.2" r="2.5"/><circle cx="498.6" cy="472.8" r="2.5"/><circle cx="501.9" cy="471.8" r="2.5"/><circle cx="499.3" cy="476.2" r="2.5"/><circle cx="497.5" cy="476.5" r="2.5"/><circle cx="497.5" cy="478.6" r="2.5"/><circle cx="499.7" cy="471.9" r="2.5"/><circle cx="498.8" cy="476.8" r="2.5"/><circle cx="499.2" cy="475.2" r="2.5"/><circle cx="500.7" cy="472.5" r="2.5"/><circle cx="499.8" cy="475.5" r="2.5"/><circle cx="500.4" cy="471.3" r="2.5"/><circle cx="499.9" cy="472.1" r="2.5"/><circle cx="495.7" cy="481.1" r="2.5"/><circle cx="494.6" cy="481.0" r="2.5"/><circle cx="497.8" cy="478.1" r="2.5"/><circle cx="494.9" cy="479.7" r="2.5"/><circle cx="496.2" cy="480.4" r="2.5"/><circle cx="498.0" cy="479.7" r="2.5"/><circle cx="487.9" cy="470.1" r="2.5"/><circle cx="485.6" cy="473.7" r="2.5"/><circle cx="487.5" cy="471.9" r="2.5"/><circle cx="487.2" cy="474.9" r="2.5"/><circle cx="488.9" cy="469.4" r="2.5"/><circle cx="487.2" cy="474.9" r="2.5"/><circle cx="487.0" cy="469.6" r="2.5"/><circle cx="487.0" cy="472.1" r="2.5"/><circle cx="487.1" cy="474.4" r="2.5"/><circle cx="486.3" cy="475.3" r="2.5"/><circle cx="486.1" cy="470.6" r="2.5"/><circle cx="485.9" cy="470.4" r="2.5"/><circle cx="487.8" cy="474.3" r="2.5"/><circle cx="487.3" cy="474.9" r="2.5"/><circle cx="481.0" cy="481.1" r="2.5"/><circle cx="486.6" cy="477.0" r="2.5"/><circle cx="479.6" cy="483.0" r="2.5"/><circle cx="486.0" cy="477.9" r="2.5"/><circle cx="485.5" cy="479.6" r="2.5"/><circle cx="483.5" cy="479.2" r="2.5"/><circle cx="486.3" cy="476.3" r="2.5"/><circle cx="482.5" cy="483.0" r="2.5"/><circle cx="482.6" cy="482.6" r="2.5"/><circle cx="483.3" cy="478.6" r="2.5"/><circle cx="483.8" cy="481.0" r="2.5"/><circle cx="482.0" cy="483.6" r="2.5"/><circle cx="483.1" cy="481.7" r="2.5"/><circle cx="481.3" cy="480.8" r="2.5"/><circle cx="476.3" cy="485.2" r="2.5"/><circle cx="481.1" cy="483.5" r="2.5"/><circle cx="482.5" cy="484.0" r="2.5"/><circle cx="478.1" cy="485.7" r="2.5"/><circle cx="476.2" cy="482.3" r="2.5"/><circle cx="478.3" cy="484.9" r="2.5"/><circle cx="476.8" cy="483.2" r="2.5"/><circle cx="480.9" cy="484.8" r="2.5"/><circle cx="479.5" cy="481.2" r="2.5"/><circle cx="473.3" cy="481.7" r="2.5"/><circle cx="477.5" cy="479.0" r="2.5"/><circle cx="475.7" cy="484.1" r="2.5"/><circle cx="478.9" cy="482.7" r="2.5"/><circle cx="480.8" cy="484.4" r="2.5"/><circle cx="473.4" cy="479.2" r="2.5"/><circle cx="474.5" cy="481.1" r="2.5"/><circle cx="480.6" cy="485.8" r="2.5"/><circle cx="475.4" cy="484.0" r="2.5"/><circle cx="474.3" cy="484.1" r="2.5"/><circle cx="477.8" cy="484.3" r="2.5"/><circle cx="476.0" cy="481.2" r="2.5"/><circle cx="477.0" cy="482.2" r="2.5"/><circle cx="474.1" cy="477.8" r="2.5"/><circle cx="479.3" cy="486.8" r="2.5"/><circle cx="481.1" cy="488.7" r="2.5"/><circle cx="481.3" cy="486.1" r="2.5"/><circle cx="478.6" cy="485.1" r="2.5"/><circle cx="476.5" cy="486.0" r="2.5"/><circle cx="470.8" cy="482.5" r="2.5"/><circle cx="473.4" cy="483.2" r="2.5"/><circle cx="481.5" cy="484.6" r="2.5"/><circle cx="476.8" cy="480.0" r="2.5"/><circle cx="478.7" cy="484.6" r="2.5"/><circle cx="476.0" cy="481.3" r="2.5"/><circle cx="475.4" cy="482.1" r="2.5"/><circle cx="483.6" cy="489.7" r="2.5"/><circle cx="490.8" cy="490.0" r="2.5"/><circle cx="484.1" cy="484.8" r="2.5"/><circle cx="486.5" cy="491.6" r="2.5"/><circle cx="482.8" cy="489.3" r="2.5"/><circle cx="480.1" cy="482.0" r="2.5"/><circle cx="479.4" cy="487.2" r="2.5"/><circle cx="485.1" cy="488.9" r="2.5"/><circle cx="489.1" cy="488.3" r="2.5"/><circle cx="487.0" cy="486.1" r="2.5"/><circle cx="484.1" cy="490.3" r="2.5"/><circle cx="488.9" cy="487.6" r="2.5"/><circle cx="486.1" cy="484.9" r="2.5"/><circle cx="488.8" cy="487.1" r="2.5"/><circle cx="491.2" cy="487.8" r="2.5"/><circle cx="488.0" cy="486.9" r="2.5"/><circle cx="489.4" cy="490.1" r="2.5"/><circle cx="487.4" cy="487.9" r="2.5"/><circle cx="485.3" cy="487.3" r="2.5"/><circle cx="488.2" cy="488.3" r="2.5"/><circle cx="484.3" cy="487.6" r="2.5"/><circle cx="487.5" cy="487.3" r="2.5"/><circle cx="487.4" cy="485.2" r="2.5"/><circle cx="478.7" cy="483.2" r="2.5"/><circle cx="482.6" cy="487.1" r="2.5"/><circle cx="481.9" cy="487.2" r="2.5"/><circle cx="485.6" cy="485.0" r="2.5"/><circle cx="488.3" cy="487.4" r="2.5"/><circle cx="487.5" cy="487.9" r="2.5"/><circle cx="478.9" cy="483.8" r="2.5"/><circle cx="482.8" cy="484.9" r="2.5"/><circle cx="486.5" cy="490.1" r="2.5"/><circle cx="489.9" cy="489.9" r="2.5"/><circle cx="481.8" cy="487.0" r="2.5"/><circle cx="483.5" cy="490.3" r="2.5"/><circle cx="523.2" cy="472.7" r="2.5"/><circle cx="522.5" cy="471.4" r="2.5"/><circle cx="520.7" cy="472.5" r="2.5"/><circle cx="523.5" cy="470.4" r="2.5"/><circle cx="521.6" cy="471.2" r="2.5"/><circle cx="521.0" cy="470.6" r="2.5"/><circle cx="523.8" cy="471.1" r="2.5"/><circle cx="524.6" cy="470.7" r="2.5"/><circle cx="524.4" cy="471.1" r="2.5"/><circle cx="524.8" cy="472.2" r="2.5"/><circle cx="522.9" cy="471.7" r="2.5"/><circle cx="524.1" cy="472.1" r="2.5"/><circle cx="530.4" cy="471.5" r="2.5"/><circle cx="529.3" cy="472.0" r="2.5"/><circle cx="532.0" cy="471.3" r="2.5"/><circle cx="531.8" cy="471.9" r="2.5"/><circle cx="533.1" cy="469.9" r="2.5"/><circle cx="528.9" cy="472.7" r="2.5"/><circle cx="529.4" cy="470.5" r="2.5"/><circle cx="532.2" cy="472.1" r="2.5"/><circle cx="534.9" cy="470.4" r="2.5"/><circle cx="527.7" cy="471.6" r="2.5"/><circle cx="529.2" cy="470.9" r="2.5"/><circle cx="530.8" cy="471.5" r="2.5"/><circle cx="526.4" cy="474.0" r="2.5"/><circle cx="526.8" cy="469.1" r="2.5"/><circle cx="527.4" cy="467.3" r="2.5"/><circle cx="528.4" cy="464.7" r="2.5"/><circle cx="527.5" cy="472.8" r="2.5"/><circle cx="527.4" cy="471.2" r="2.5"/><circle cx="526.7" cy="467.8" r="2.5"/><circle cx="526.3" cy="467.9" r="2.5"/><circle cx="526.7" cy="479.0" r="2.5"/><circle cx="527.7" cy="463.9" r="2.5"/><circle cx="526.6" cy="463.6" r="2.5"/><circle cx="527.1" cy="475.7" r="2.5"/><circle cx="527.7" cy="465.0" r="2.5"/><circle cx="527.1" cy="465.1" r="2.5"/><circle cx="527.3" cy="475.2" r="2.5"/><circle cx="527.3" cy="467.9" r="2.5"/><circle cx="527.2" cy="463.6" r="2.5"/><circle cx="528.7" cy="478.1" r="2.5"/><circle cx="527.7" cy="469.5" r="2.5"/><circle cx="526.4" cy="468.9" r="2.5"/><circle cx="527.5" cy="479.0" r="2.5"/><circle cx="526.9" cy="469.6" r="2.5"/><circle cx="527.8" cy="470.3" r="2.5"/><circle cx="526.2" cy="476.2" r="2.5"/><circle cx="528.0" cy="473.5" r="2.5"/><circle cx="527.4" cy="478.2" r="2.5"/><circle cx="520.4" cy="490.7" r="2.5"/><circle cx="526.0" cy="491.1" r="2.5"/><circle cx="515.2" cy="488.1" r="2.5"/><circle cx="521.6" cy="490.9" r="2.5"/><circle cx="529.9" cy="495.1" r="2.5"/><circle cx="519.2" cy="486.5" r="2.5"/><circle cx="521.0" cy="493.4" r="2.5"/><circle cx="523.5" cy="489.1" r="2.5"/><circle cx="524.5" cy="489.9" r="2.5"/><circle cx="519.8" cy="490.6" r="2.5"/><circle cx="527.4" cy="491.3" r="2.5"/><circle cx="524.7" cy="490.1" r="2.5"/><circle cx="528.1" cy="489.9" r="2.5"/><circle cx="526.1" cy="491.7" r="2.5"/><circle cx="526.1" cy="490.2" r="2.5"/><circle cx="524.2" cy="493.6" r="2.5"/><circle cx="527.1" cy="495.1" r="2.5"/><circle cx="518.1" cy="490.8" r="2.5"/><circle cx="530.0" cy="494.7" r="2.5"/><circle cx="517.0" cy="486.7" r="2.5"/><circle cx="522.1" cy="490.7" r="2.5"/><circle cx="524.6" cy="491.5" r="2.5"/><circle cx="519.7" cy="491.0" r="2.5"/><circle cx="519.7" cy="487.1" r="2.5"/><circle cx="521.0" cy="491.9" r="2.5"/><circle cx="519.7" cy="487.6" r="2.5"/><circle cx="524.7" cy="489.2" r="2.5"/><circle cx="523.4" cy="487.8" r="2.5"/><circle cx="517.8" cy="489.5" r="2.5"/><circle cx="523.0" cy="492.2" r="2.5"/><circle cx="528.5" cy="491.5" r="2.5"/><circle cx="521.3" cy="491.4" r="2.5"/><circle cx="527.2" cy="492.4" r="2.5"/><circle cx="515.6" cy="489.3" r="2.5"/><circle cx="525.5" cy="490.1" r="2.5"/><circle cx="520.7" cy="491.4" r="2.5"/><circle cx="522.4" cy="488.1" r="2.5"/><circle cx="526.5" cy="492.1" r="2.5"/><circle cx="525.4" cy="494.4" r="2.5"/><circle cx="519.4" cy="485.6" r="2.5"/><circle cx="528.2" cy="494.1" r="2.5"/><circle cx="527.5" cy="494.1" r="2.5"/><circle cx="525.6" cy="490.4" r="2.5"/><circle cx="525.7" cy="496.5" r="2.5"/><circle cx="523.2" cy="490.4" r="2.5"/><circle cx="527.2" cy="495.9" r="2.5"/><circle cx="525.3" cy="494.5" r="2.5"/><circle cx="531.7" cy="497.2" r="2.5"/><circle cx="528.9" cy="496.9" r="2.5"/><circle cx="532.3" cy="495.4" r="2.5"/><circle cx="529.5" cy="497.7" r="2.5"/><circle cx="538.3" cy="499.5" r="2.5"/><circle cx="532.5" cy="494.9" r="2.5"/><circle cx="534.9" cy="498.1" r="2.5"/><circle cx="541.0" cy="499.3" r="2.5"/><circle cx="535.3" cy="500.7" r="2.5"/><circle cx="534.3" cy="500.0" r="2.5"/><circle cx="532.2" cy="495.1" r="2.5"/><circle cx="530.5" cy="493.3" r="2.5"/><circle cx="536.9" cy="499.4" r="2.5"/><circle cx="532.9" cy="495.3" r="2.5"/><circle cx="532.7" cy="496.8" r="2.5"/><circle cx="538.1" cy="501.2" r="2.5"/><circle cx="537.6" cy="499.3" r="2.5"/><circle cx="531.9" cy="496.8" r="2.5"/><circle cx="536.6" cy="498.5" r="2.5"/><circle cx="530.5" cy="496.8" r="2.5"/><circle cx="538.8" cy="497.3" r="2.5"/><circle cx="532.0" cy="496.6" r="2.5"/><circle cx="532.1" cy="493.2" r="2.5"/><circle cx="536.4" cy="497.0" r="2.5"/><circle cx="527.5" cy="496.2" r="2.5"/><circle cx="538.2" cy="500.1" r="2.5"/><circle cx="535.4" cy="494.2" r="2.5"/><circle cx="537.7" cy="501.2" r="2.5"/><circle cx="537.2" cy="499.7" r="2.5"/><circle cx="536.5" cy="500.1" r="2.5"/><circle cx="537.2" cy="500.6" r="2.5"/><circle cx="539.8" cy="503.5" r="2.5"/><circle cx="536.4" cy="499.5" r="2.5"/><circle cx="528.5" cy="494.3" r="2.5"/><circle cx="534.5" cy="495.4" r="2.5"/><circle cx="536.7" cy="500.0" r="2.5"/><circle cx="532.3" cy="493.4" r="2.5"/><circle cx="533.4" cy="497.2" r="2.5"/><circle cx="543.0" cy="500.3" r="2.5"/><circle cx="538.2" cy="500.7" r="2.5"/><circle cx="533.4" cy="494.9" r="2.5"/><circle cx="536.2" cy="496.6" r="2.5"/><circle cx="535.7" cy="498.2" r="2.5"/><circle cx="534.3" cy="495.0" r="2.5"/><circle cx="535.3" cy="501.6" r="2.5"/><circle cx="535.2" cy="501.2" r="2.5"/><circle cx="539.9" cy="499.9" r="2.5"/><circle cx="535.6" cy="499.2" r="2.5"/><circle cx="536.6" cy="500.5" r="2.5"/><circle cx="529.5" cy="495.0" r="2.5"/><circle cx="539.3" cy="499.3" r="2.5"/><circle cx="533.0" cy="494.3" r="2.5"/><circle cx="531.5" cy="499.0" r="2.5"/><circle cx="536.9" cy="495.5" r="2.5"/><circle cx="537.8" cy="497.3" r="2.5"/><circle cx="536.7" cy="501.4" r="2.5"/><circle cx="529.7" cy="494.9" r="2.5"/><circle cx="524.8" cy="496.7" r="2.5"/><circle cx="529.0" cy="492.4" r="2.5"/><circle cx="529.3" cy="500.2" r="2.5"/><circle cx="528.0" cy="502.1" r="2.5"/><circle cx="526.7" cy="488.1" r="2.5"/><circle cx="526.9" cy="495.4" r="2.5"/><circle cx="527.0" cy="498.4" r="2.5"/><circle cx="525.2" cy="492.1" r="2.5"/><circle cx="527.8" cy="485.0" r="2.5"/><circle cx="529.7" cy="496.6" r="2.5"/><circle cx="529.5" cy="503.5" r="2.5"/><circle cx="528.6" cy="495.7" r="2.5"/><circle cx="530.6" cy="502.2" r="2.5"/><circle cx="531.4" cy="503.6" r="2.5"/><circle cx="526.0" cy="491.8" r="2.5"/><circle cx="530.3" cy="500.7" r="2.5"/><circle cx="526.1" cy="491.8" r="2.5"/><circle cx="526.4" cy="484.9" r="2.5"/><circle cx="530.3" cy="493.6" r="2.5"/><circle cx="527.8" cy="496.1" r="2.5"/><circle cx="530.8" cy="502.2" r="2.5"/><circle cx="527.9" cy="503.2" r="2.5"/><circle cx="528.0" cy="486.4" r="2.5"/><circle cx="525.0" cy="488.2" r="2.5"/><circle cx="530.4" cy="502.6" r="2.5"/><circle cx="527.5" cy="502.0" r="2.5"/><circle cx="529.1" cy="500.9" r="2.5"/><circle cx="530.4" cy="497.9" r="2.5"/><circle cx="525.5" cy="488.5" r="2.5"/><circle cx="529.0" cy="500.3" r="2.5"/><circle cx="524.6" cy="487.4" r="2.5"/><circle cx="525.2" cy="489.9" r="2.5"/><circle cx="528.1" cy="498.4" r="2.5"/><circle cx="528.9" cy="501.7" r="2.5"/><circle cx="530.8" cy="499.3" r="2.5"/><circle cx="524.9" cy="493.4" r="2.5"/><circle cx="523.7" cy="485.2" r="2.5"/><circle cx="526.4" cy="489.3" r="2.5"/><circle cx="526.4" cy="489.2" r="2.5"/><circle cx="525.0" cy="490.3" r="2.5"/><circle cx="530.1" cy="502.5" r="2.5"/><circle cx="527.3" cy="492.2" r="2.5"/><circle cx="528.4" cy="503.2" r="2.5"/><circle cx="526.6" cy="494.5" r="2.5"/><circle cx="528.7" cy="495.8" r="2.5"/><circle cx="529.0" cy="492.9" r="2.5"/><circle cx="528.8" cy="494.9" r="2.5"/><circle cx="530.2" cy="502.4" r="2.5"/><circle cx="539.4" cy="463.2" r="2.5"/><circle cx="548.8" cy="462.4" r="2.5"/><circle cx="545.2" cy="465.0" r="2.5"/><circle cx="547.1" cy="463.4" r="2.5"/><circle cx="545.3" cy="462.4" r="2.5"/><circle cx="541.3" cy="462.4" r="2.5"/><circle cx="543.2" cy="463.7" r="2.5"/><circle cx="542.3" cy="461.6" r="2.5"/><circle cx="548.1" cy="463.2" r="2.5"/><circle cx="548.6" cy="464.8" r="2.5"/><circle cx="544.2" cy="462.9" r="2.5"/><circle cx="545.0" cy="463.0" r="2.5"/><circle cx="548.2" cy="464.5" r="2.5"/><circle cx="540.9" cy="463.2" r="2.5"/><circle cx="548.5" cy="461.3" r="2.5"/><circle cx="538.2" cy="462.7" r="2.5"/><circle cx="542.1" cy="462.1" r="2.5"/><circle cx="545.0" cy="460.2" r="2.5"/><circle cx="538.3" cy="462.7" r="2.5"/><circle cx="539.5" cy="464.4" r="2.5"/><circle cx="539.4" cy="463.0" r="2.5"/><circle cx="544.5" cy="463.0" r="2.5"/><circle cx="551.3" cy="461.9" r="2.5"/><circle cx="541.6" cy="464.3" r="2.5"/><circle cx="539.2" cy="462.9" r="2.5"/><circle cx="541.9" cy="465.0" r="2.5"/><circle cx="548.1" cy="463.7" r="2.5"/><circle cx="548.3" cy="463.9" r="2.5"/><circle cx="548.8" cy="461.8" r="2.5"/><circle cx="548.0" cy="464.4" r="2.5"/><circle cx="556.7" cy="467.4" r="2.5"/><circle cx="552.3" cy="465.6" r="2.5"/><circle cx="556.6" cy="466.3" r="2.5"/><circle cx="551.5" cy="465.0" r="2.5"/><circle cx="557.3" cy="465.0" r="2.5"/><circle cx="559.1" cy="467.4" r="2.5"/><circle cx="551.1" cy="462.8" r="2.5"/><circle cx="554.7" cy="464.9" r="2.5"/><circle cx="551.3" cy="466.4" r="2.5"/><circle cx="557.2" cy="467.2" r="2.5"/><circle cx="554.0" cy="463.9" r="2.5"/><circle cx="557.4" cy="463.0" r="2.5"/><circle cx="550.5" cy="465.9" r="2.5"/><circle cx="553.0" cy="463.3" r="2.5"/><circle cx="557.2" cy="465.5" r="2.5"/><circle cx="554.6" cy="465.5" r="2.5"/><circle cx="552.0" cy="464.3" r="2.5"/><circle cx="552.0" cy="465.8" r="2.5"/><circle cx="551.9" cy="463.1" r="2.5"/><circle cx="556.9" cy="464.6" r="2.5"/><circle cx="552.4" cy="467.0" r="2.5"/><circle cx="561.4" cy="469.9" r="2.5"/><circle cx="561.4" cy="468.8" r="2.5"/><circle cx="562.2" cy="467.3" r="2.5"/><circle cx="563.1" cy="468.3" r="2.5"/><circle cx="567.7" cy="473.3" r="2.5"/><circle cx="568.4" cy="473.1" r="2.5"/><circle cx="568.2" cy="468.8" r="2.5"/><circle cx="561.3" cy="466.6" r="2.5"/><circle cx="563.1" cy="468.7" r="2.5"/><circle cx="562.3" cy="469.8" r="2.5"/><circle cx="563.3" cy="469.0" r="2.5"/><circle cx="565.2" cy="470.5" r="2.5"/><circle cx="563.3" cy="468.2" r="2.5"/><circle cx="564.8" cy="470.0" r="2.5"/><circle cx="563.8" cy="468.9" r="2.5"/><circle cx="558.7" cy="467.2" r="2.5"/><circle cx="559.9" cy="466.7" r="2.5"/><circle cx="562.6" cy="467.6" r="2.5"/><circle cx="562.7" cy="468.2" r="2.5"/><circle cx="564.5" cy="466.5" r="2.5"/><circle cx="561.6" cy="466.3" r="2.5"/><circle cx="561.9" cy="466.7" r="2.5"/><circle cx="560.6" cy="466.7" r="2.5"/><circle cx="565.1" cy="468.5" r="2.5"/><circle cx="555.4" cy="483.3" r="2.5"/><circle cx="558.1" cy="485.3" r="2.5"/><circle cx="558.3" cy="486.5" r="2.5"/><circle cx="556.1" cy="484.4" r="2.5"/><circle cx="558.4" cy="487.4" r="2.5"/><circle cx="555.1" cy="481.0" r="2.5"/><circle cx="553.8" cy="479.8" r="2.5"/><circle cx="554.3" cy="481.8" r="2.5"/><circle cx="555.8" cy="483.1" r="2.5"/><circle cx="558.3" cy="485.7" r="2.5"/><circle cx="556.4" cy="482.0" r="2.5"/><circle cx="489.3" cy="509.1" r="2.5"/><circle cx="493.5" cy="511.9" r="2.5"/><circle cx="486.7" cy="511.5" r="2.5"/><circle cx="486.0" cy="513.0" r="2.5"/><circle cx="488.5" cy="512.6" r="2.5"/><circle cx="487.3" cy="512.0" r="2.5"/><circle cx="484.9" cy="509.1" r="2.5"/><circle cx="483.5" cy="507.5" r="2.5"/><circle cx="487.9" cy="508.0" r="2.5"/><circle cx="486.7" cy="506.5" r="2.5"/><circle cx="483.3" cy="510.8" r="2.5"/><circle cx="488.8" cy="514.1" r="2.5"/><circle cx="485.0" cy="507.4" r="2.5"/><circle cx="486.5" cy="506.6" r="2.5"/><circle cx="489.4" cy="511.5" r="2.5"/><circle cx="487.9" cy="509.6" r="2.5"/><circle cx="492.7" cy="513.8" r="2.5"/><circle cx="490.0" cy="513.1" r="2.5"/><circle cx="480.0" cy="506.4" r="2.5"/><circle cx="494.9" cy="515.3" r="2.5"/><circle cx="485.7" cy="508.7" r="2.5"/><circle cx="493.4" cy="512.9" r="2.5"/><circle cx="490.8" cy="512.3" r="2.5"/><circle cx="485.4" cy="506.1" r="2.5"/><circle cx="483.8" cy="509.2" r="2.5"/><circle cx="486.3" cy="511.1" r="2.5"/><circle cx="487.0" cy="506.6" r="2.5"/><circle cx="483.6" cy="511.3" r="2.5"/><circle cx="493.0" cy="511.8" r="2.5"/><circle cx="487.1" cy="510.8" r="2.5"/><circle cx="484.8" cy="509.9" r="2.5"/><circle cx="492.6" cy="515.4" r="2.5"/><circle cx="483.8" cy="509.1" r="2.5"/><circle cx="490.4" cy="513.2" r="2.5"/><circle cx="486.0" cy="511.9" r="2.5"/><circle cx="486.6" cy="510.8" r="2.5"/><circle cx="485.0" cy="507.2" r="2.5"/><circle cx="484.6" cy="510.7" r="2.5"/><circle cx="494.2" cy="516.4" r="2.5"/><circle cx="485.2" cy="512.2" r="2.5"/><circle cx="489.4" cy="511.1" r="2.5"/><circle cx="498.9" cy="516.6" r="2.5"/><circle cx="505.5" cy="517.3" r="2.5"/><circle cx="499.4" cy="513.9" r="2.5"/><circle cx="496.6" cy="514.8" r="2.5"/><circle cx="496.4" cy="515.1" r="2.5"/><circle cx="500.3" cy="520.9" r="2.5"/><circle cx="494.2" cy="516.7" r="2.5"/><circle cx="490.3" cy="512.9" r="2.5"/><circle cx="501.4" cy="516.7" r="2.5"/><circle cx="503.2" cy="516.2" r="2.5"/><circle cx="506.4" cy="522.3" r="2.5"/><circle cx="497.0" cy="514.5" r="2.5"/><circle cx="505.5" cy="520.1" r="2.5"/><circle cx="494.0" cy="516.3" r="2.5"/><circle cx="501.0" cy="516.0" r="2.5"/><circle cx="498.9" cy="519.3" r="2.5"/><circle cx="502.3" cy="520.6" r="2.5"/><circle cx="496.7" cy="514.1" r="2.5"/><circle cx="498.3" cy="517.7" r="2.5"/><circle cx="496.2" cy="515.4" r="2.5"/><circle cx="496.7" cy="515.9" r="2.5"/><circle cx="496.9" cy="518.0" r="2.5"/><circle cx="500.4" cy="516.6" r="2.5"/><circle cx="501.2" cy="522.2" r="2.5"/><circle cx="496.7" cy="513.9" r="2.5"/><circle cx="503.8" cy="522.3" r="2.5"/><circle cx="501.5" cy="519.9" r="2.5"/><circle cx="502.3" cy="517.4" r="2.5"/><circle cx="493.0" cy="517.3" r="2.5"/><circle cx="493.4" cy="512.7" r="2.5"/><circle cx="500.7" cy="520.5" r="2.5"/><circle cx="504.3" cy="517.4" r="2.5"/><circle cx="497.5" cy="516.4" r="2.5"/><circle cx="501.2" cy="517.0" r="2.5"/><circle cx="498.4" cy="519.0" r="2.5"/><circle cx="493.6" cy="513.4" r="2.5"/><circle cx="501.4" cy="517.5" r="2.5"/><circle cx="495.7" cy="515.0" r="2.5"/><circle cx="504.5" cy="521.8" r="2.5"/><circle cx="503.6" cy="518.3" r="2.5"/><circle cx="503.2" cy="518.3" r="2.5"/><circle cx="504.8" cy="521.9" r="2.5"/><circle cx="498.8" cy="520.0" r="2.5"/><circle cx="503.1" cy="516.7" r="2.5"/><circle cx="504.1" cy="522.9" r="2.5"/><circle cx="502.7" cy="525.1" r="2.5"/><circle cx="503.2" cy="524.0" r="2.5"/><circle cx="505.9" cy="523.5" r="2.5"/><circle cx="502.2" cy="525.2" r="2.5"/><circle cx="505.7" cy="522.3" r="2.5"/><circle cx="503.3" cy="523.3" r="2.5"/><circle cx="504.2" cy="522.4" r="2.5"/><circle cx="508.4" cy="524.7" r="2.5"/><circle cx="503.0" cy="527.2" r="2.5"/><circle cx="508.4" cy="521.9" r="2.5"/><circle cx="499.7" cy="528.3" r="2.5"/><circle cx="506.4" cy="523.6" r="2.5"/><circle cx="509.6" cy="524.6" r="2.5"/><circle cx="507.8" cy="521.3" r="2.5"/><circle cx="505.8" cy="524.0" r="2.5"/><circle cx="502.3" cy="527.9" r="2.5"/><circle cx="500.6" cy="524.3" r="2.5"/><circle cx="503.7" cy="528.3" r="2.5"/><circle cx="505.1" cy="525.7" r="2.5"/><circle cx="507.1" cy="521.2" r="2.5"/><circle cx="504.6" cy="526.2" r="2.5"/><circle cx="505.6" cy="524.8" r="2.5"/><circle cx="505.4" cy="527.2" r="2.5"/><circle cx="504.9" cy="523.3" r="2.5"/><circle cx="501.2" cy="524.8" r="2.5"/><circle cx="502.9" cy="524.1" r="2.5"/><circle cx="504.7" cy="527.2" r="2.5"/><circle cx="504.4" cy="523.8" r="2.5"/><circle cx="506.1" cy="524.2" r="2.5"/><circle cx="513.9" cy="518.2" r="2.5"/><circle cx="508.2" cy="522.7" r="2.5"/><circle cx="514.6" cy="520.1" r="2.5"/><circle cx="514.4" cy="518.3" r="2.5"/><circle cx="514.7" cy="522.8" r="2.5"/><circle cx="509.6" cy="522.1" r="2.5"/><circle cx="517.7" cy="517.3" r="2.5"/><circle cx="516.3" cy="521.9" r="2.5"/><circle cx="508.6" cy="523.2" r="2.5"/><circle cx="514.5" cy="517.9" r="2.5"/><circle cx="517.4" cy="518.8" r="2.5"/><circle cx="512.7" cy="520.2" r="2.5"/><circle cx="512.1" cy="522.8" r="2.5"/><circle cx="517.4" cy="519.4" r="2.5"/><circle cx="515.5" cy="520.4" r="2.5"/><circle cx="513.8" cy="516.8" r="2.5"/><circle cx="507.7" cy="522.3" r="2.5"/><circle cx="515.4" cy="522.9" r="2.5"/><circle cx="510.1" cy="522.2" r="2.5"/><circle cx="512.5" cy="519.8" r="2.5"/><circle cx="509.0" cy="519.5" r="2.5"/><circle cx="515.5" cy="522.3" r="2.5"/><circle cx="515.6" cy="518.4" r="2.5"/><circle cx="516.1" cy="520.7" r="2.5"/><circle cx="517.7" cy="518.5" r="2.5"/><circle cx="509.9" cy="520.3" r="2.5"/><circle cx="510.5" cy="520.0" r="2.5"/><circle cx="515.2" cy="522.0" r="2.5"/><circle cx="504.5" cy="533.5" r="2.5"/><circle cx="505.3" cy="532.3" r="2.5"/><circle cx="507.2" cy="533.6" r="2.5"/><circle cx="505.7" cy="533.0" r="2.5"/><circle cx="512.3" cy="535.1" r="2.5"/><circle cx="504.9" cy="532.6" r="2.5"/><circle cx="505.1" cy="532.3" r="2.5"/><circle cx="512.0" cy="534.4" r="2.5"/><circle cx="504.3" cy="531.5" r="2.5"/><circle cx="510.2" cy="534.9" r="2.5"/><circle cx="503.1" cy="533.3" r="2.5"/><circle cx="511.2" cy="533.0" r="2.5"/><circle cx="502.1" cy="532.9" r="2.5"/><circle cx="506.1" cy="534.1" r="2.5"/><circle cx="504.1" cy="533.3" r="2.5"/><circle cx="512.6" cy="533.7" r="2.5"/><circle cx="508.2" cy="532.8" r="2.5"/><circle cx="505.1" cy="532.2" r="2.5"/><circle cx="504.8" cy="533.8" r="2.5"/><circle cx="504.7" cy="533.7" r="2.5"/><circle cx="502.8" cy="532.3" r="2.5"/><circle cx="559.7" cy="502.5" r="2.5"/><circle cx="561.4" cy="501.1" r="2.5"/><circle cx="558.6" cy="501.0" r="2.5"/><circle cx="563.0" cy="505.5" r="2.5"/><circle cx="561.2" cy="501.8" r="2.5"/><circle cx="564.3" cy="503.3" r="2.5"/><circle cx="561.0" cy="505.3" r="2.5"/><circle cx="560.7" cy="502.9" r="2.5"/><circle cx="558.6" cy="502.5" r="2.5"/><circle cx="559.9" cy="499.1" r="2.5"/><circle cx="560.6" cy="498.2" r="2.5"/><circle cx="562.6" cy="507.7" r="2.5"/><circle cx="565.9" cy="506.5" r="2.5"/><circle cx="563.0" cy="508.0" r="2.5"/><circle cx="564.5" cy="503.4" r="2.5"/><circle cx="558.6" cy="497.4" r="2.5"/><circle cx="559.3" cy="503.0" r="2.5"/><circle cx="565.9" cy="504.7" r="2.5"/><circle cx="563.2" cy="505.3" r="2.5"/><circle cx="560.8" cy="506.7" r="2.5"/><circle cx="565.8" cy="507.4" r="2.5"/><circle cx="560.8" cy="506.9" r="2.5"/><circle cx="558.6" cy="502.3" r="2.5"/><circle cx="557.7" cy="501.5" r="2.5"/><circle cx="561.0" cy="500.4" r="2.5"/><circle cx="561.7" cy="504.2" r="2.5"/><circle cx="557.7" cy="502.0" r="2.5"/><circle cx="563.5" cy="502.7" r="2.5"/><circle cx="557.9" cy="501.2" r="2.5"/><circle cx="560.7" cy="497.1" r="2.5"/><circle cx="556.4" cy="498.8" r="2.5"/><circle cx="565.0" cy="503.6" r="2.5"/><circle cx="560.6" cy="506.8" r="2.5"/><circle cx="558.8" cy="497.2" r="2.5"/><circle cx="562.8" cy="505.7" r="2.5"/><circle cx="557.7" cy="501.5" r="2.5"/><circle cx="559.7" cy="504.7" r="2.5"/><circle cx="562.3" cy="508.5" r="2.5"/><circle cx="563.5" cy="502.4" r="2.5"/><circle cx="563.2" cy="506.7" r="2.5"/><circle cx="566.1" cy="516.2" r="2.5"/><circle cx="566.3" cy="506.9" r="2.5"/><circle cx="565.1" cy="518.0" r="2.5"/><circle cx="570.4" cy="514.4" r="2.5"/><circle cx="565.0" cy="513.8" r="2.5"/><circle cx="569.3" cy="518.5" r="2.5"/><circle cx="570.9" cy="519.1" r="2.5"/><circle cx="565.2" cy="514.4" r="2.5"/><circle cx="568.6" cy="509.0" r="2.5"/><circle cx="570.5" cy="519.7" r="2.5"/><circle cx="566.7" cy="513.2" r="2.5"/><circle cx="569.5" cy="517.7" r="2.5"/><circle cx="569.9" cy="513.2" r="2.5"/><circle cx="565.3" cy="519.1" r="2.5"/><circle cx="566.8" cy="520.0" r="2.5"/><circle cx="567.5" cy="518.7" r="2.5"/><circle cx="563.5" cy="507.9" r="2.5"/><circle cx="566.1" cy="512.9" r="2.5"/><circle cx="566.5" cy="515.9" r="2.5"/><circle cx="562.8" cy="511.3" r="2.5"/><circle cx="567.7" cy="507.5" r="2.5"/><circle cx="564.4" cy="514.7" r="2.5"/><circle cx="565.2" cy="511.8" r="2.5"/><circle cx="567.8" cy="518.4" r="2.5"/><circle cx="566.4" cy="521.9" r="2.5"/><circle cx="563.9" cy="511.6" r="2.5"/><circle cx="570.0" cy="516.1" r="2.5"/><circle cx="566.1" cy="516.4" r="2.5"/><circle cx="571.1" cy="521.9" r="2.5"/><circle cx="570.4" cy="517.6" r="2.5"/><circle cx="564.4" cy="508.8" r="2.5"/><circle cx="567.4" cy="523.2" r="2.5"/><circle cx="564.9" cy="508.0" r="2.5"/><circle cx="562.1" cy="506.9" r="2.5"/><circle cx="569.4" cy="514.0" r="2.5"/><circle cx="569.2" cy="515.6" r="2.5"/><circle cx="563.7" cy="510.0" r="2.5"/><circle cx="567.8" cy="517.0" r="2.5"/><circle cx="565.6" cy="513.3" r="2.5"/><circle cx="563.6" cy="512.8" r="2.5"/><circle cx="469.2" cy="516.2" r="2.5"/><circle cx="467.1" cy="512.3" r="2.5"/><circle cx="472.0" cy="517.9" r="2.5"/><circle cx="470.1" cy="517.5" r="2.5"/><circle cx="467.1" cy="514.2" r="2.5"/><circle cx="467.5" cy="514.8" r="2.5"/><circle cx="464.8" cy="512.0" r="2.5"/><circle cx="467.5" cy="512.9" r="2.5"/><circle cx="470.6" cy="518.3" r="2.5"/><circle cx="469.3" cy="516.2" r="2.5"/><circle cx="468.7" cy="514.1" r="2.5"/><circle cx="467.6" cy="512.2" r="2.5"/><circle cx="471.0" cy="517.4" r="2.5"/><circle cx="467.5" cy="514.1" r="2.5"/><circle cx="469.4" cy="518.3" r="2.5"/><circle cx="467.7" cy="516.5" r="2.5"/><circle cx="545.8" cy="532.0" r="2.5"/><circle cx="545.1" cy="530.3" r="2.5"/><circle cx="545.9" cy="530.0" r="2.5"/><circle cx="544.5" cy="529.3" r="2.5"/><circle cx="545.9" cy="532.2" r="2.5"/><circle cx="544.8" cy="530.5" r="2.5"/><circle cx="545.1" cy="529.1" r="2.5"/><circle cx="548.6" cy="497.9" r="2.5"/><circle cx="473.9" cy="516.7" r="2.5"/><circle cx="491.3" cy="470.9" r="2.5"/><circle cx="509.2" cy="535.6" r="2.5"/><circle cx="504.6" cy="482.5" r="2.5"/><circle cx="561.3" cy="535.7" r="2.5"/><circle cx="506.3" cy="464.0" r="2.5"/><circle cx="548.5" cy="518.2" r="2.5"/><circle cx="501.2" cy="518.9" r="2.5"/><circle cx="505.5" cy="476.7" r="2.5"/><circle cx="527.9" cy="514.8" r="2.5"/><circle cx="515.6" cy="521.3" r="2.5"/><circle cx="467.2" cy="494.5" r="2.5"/><circle cx="505.6" cy="458.1" r="2.5"/><circle cx="561.6" cy="464.6" r="2.5"/><circle cx="487.3" cy="526.3" r="2.5"/><circle cx="566.5" cy="530.8" r="2.5"/><circle cx="501.6" cy="530.7" r="2.5"/><circle cx="480.6" cy="512.5" r="2.5"/><circle cx="564.9" cy="468.8" r="2.5"/><circle cx="479.9" cy="509.5" r="2.5"/><circle cx="558.3" cy="513.6" r="2.5"/><circle cx="565.3" cy="490.7" r="2.5"/><circle cx="504.8" cy="462.7" r="2.5"/><circle cx="494.3" cy="531.4" r="2.5"/><circle cx="473.2" cy="468.1" r="2.5"/><circle cx="502.2" cy="456.7" r="2.5"/><circle cx="497.9" cy="467.9" r="2.5"/><circle cx="478.6" cy="496.8" r="2.5"/><circle cx="522.4" cy="500.2" r="2.5"/><circle cx="545.7" cy="496.8" r="2.5"/><circle cx="565.1" cy="459.4" r="2.5"/><circle cx="489.1" cy="459.0" r="2.5"/><circle cx="498.2" cy="516.4" r="2.5"/><circle cx="562.6" cy="494.9" r="2.5"/><circle cx="482.5" cy="480.3" r="2.5"/><circle cx="525.3" cy="477.3" r="2.5"/><circle cx="548.9" cy="534.2" r="2.5"/><circle cx="513.9" cy="503.2" r="2.5"/><circle cx="554.4" cy="491.6" r="2.5"/></g>
<g fill="#4c5456" stroke="#e2e2e2" stroke-width="0.75"><circle cx="497.6" cy="453.8" r="1.55"/><circle cx="498.1" cy="454.6" r="1.55"/><circle cx="495.0" cy="454.0" r="1.55"/><circle cx="504.5" cy="456.2" r="1.55"/><circle cx="496.7" cy="452.0" r="1.55"/><circle cx="497.9" cy="453.6" r="1.55"/><circle cx="501.2" cy="454.5" r="1.55"/><circle cx="494.6" cy="453.7" r="1.55"/><circle cx="497.1" cy="454.6" r="1.55"/><circle cx="497.8" cy="455.6" r="1.55"/><circle cx="499.4" cy="453.5" r="1.55"/><circle cx="500.8" cy="455.5" r="1.55"/><circle cx="507.8" cy="455.8" r="1.55"/><circle cx="502.0" cy="456.3" r="1.55"/><circle cx="500.0" cy="455.3" r="1.55"/><circle cx="500.1" cy="453.3" r="1.55"/><circle cx="505.1" cy="455.7" r="1.55"/><circle cx="498.7" cy="453.3" r="1.55"/><circle cx="504.8" cy="456.2" r="1.55"/><circle cx="501.9" cy="453.8" r="1.55"/><circle cx="494.8" cy="456.0" r="1.55"/><circle cx="503.9" cy="456.2" r="1.55"/><circle cx="498.1" cy="454.8" r="1.55"/><circle cx="505.9" cy="455.0" r="1.55"/><circle cx="507.5" cy="454.7" r="1.55"/><circle cx="513.5" cy="456.1" r="1.55"/><circle cx="507.5" cy="458.0" r="1.55"/><circle cx="513.2" cy="457.1" r="1.55"/><circle cx="506.0" cy="457.0" r="1.55"/><circle cx="514.3" cy="456.5" r="1.55"/><circle cx="507.7" cy="457.8" r="1.55"/><circle cx="508.8" cy="456.1" r="1.55"/><circle cx="505.4" cy="455.2" r="1.55"/><circle cx="510.7" cy="456.3" r="1.55"/><circle cx="513.8" cy="454.9" r="1.55"/><circle cx="515.1" cy="455.7" r="1.55"/><circle cx="515.6" cy="453.6" r="1.55"/><circle cx="507.4" cy="453.3" r="1.55"/><circle cx="509.8" cy="454.9" r="1.55"/><circle cx="511.2" cy="455.5" r="1.55"/><circle cx="507.1" cy="455.5" r="1.55"/><circle cx="512.9" cy="457.2" r="1.55"/><circle cx="511.5" cy="456.1" r="1.55"/><circle cx="514.2" cy="455.5" r="1.55"/><circle cx="512.6" cy="453.6" r="1.55"/><circle cx="509.5" cy="455.0" r="1.55"/><circle cx="503.6" cy="462.1" r="1.55"/><circle cx="504.2" cy="462.2" r="1.55"/><circle cx="503.5" cy="466.6" r="1.55"/><circle cx="503.6" cy="468.4" r="1.55"/><circle cx="502.0" cy="466.5" r="1.55"/><circle cx="505.4" cy="461.3" r="1.55"/><circle cx="502.8" cy="466.8" r="1.55"/><circle cx="501.2" cy="466.5" r="1.55"/><circle cx="503.7" cy="463.6" r="1.55"/><circle cx="502.7" cy="463.9" r="1.55"/><circle cx="502.1" cy="465.7" r="1.55"/><circle cx="501.3" cy="469.9" r="1.55"/><circle cx="503.0" cy="467.8" r="1.55"/><circle cx="503.3" cy="466.7" r="1.55"/><circle cx="501.7" cy="467.1" r="1.55"/><circle cx="504.0" cy="466.8" r="1.55"/><circle cx="498.8" cy="477.2" r="1.55"/><circle cx="500.2" cy="471.6" r="1.55"/><circle cx="500.4" cy="473.0" r="1.55"/><circle cx="500.1" cy="476.4" r="1.55"/><circle cx="500.1" cy="475.2" r="1.55"/><circle cx="498.6" cy="472.8" r="1.55"/><circle cx="501.9" cy="471.8" r="1.55"/><circle cx="499.3" cy="476.2" r="1.55"/><circle cx="497.5" cy="476.5" r="1.55"/><circle cx="497.5" cy="478.6" r="1.55"/><circle cx="499.7" cy="471.9" r="1.55"/><circle cx="498.8" cy="476.8" r="1.55"/><circle cx="499.2" cy="475.2" r="1.55"/><circle cx="500.7" cy="472.5" r="1.55"/><circle cx="499.8" cy="475.5" r="1.55"/><circle cx="500.4" cy="471.3" r="1.55"/><circle cx="499.9" cy="472.1" r="1.55"/><circle cx="495.7" cy="481.1" r="1.55"/><circle cx="494.6" cy="481.0" r="1.55"/><circle cx="497.8" cy="478.1" r="1.55"/><circle cx="494.9" cy="479.7" r="1.55"/><circle cx="496.2" cy="480.4" r="1.55"/><circle cx="498.0" cy="479.7" r="1.55"/><circle cx="487.9" cy="470.1" r="1.55"/><circle cx="485.6" cy="473.7" r="1.55"/><circle cx="487.5" cy="471.9" r="1.55"/><circle cx="487.2" cy="474.9" r="1.55"/><circle cx="488.9" cy="469.4" r="1.55"/><circle cx="487.2" cy="474.9" r="1.55"/><circle cx="487.0" cy="469.6" r="1.55"/><circle cx="487.0" cy="472.1" r="1.55"/><circle cx="487.1" cy="474.4" r="1.55"/><circle cx="486.3" cy="475.3" r="1.55"/><circle cx="486.1" cy="470.6" r="1.55"/><circle cx="485.9" cy="470.4" r="1.55"/><circle cx="487.8" cy="474.3" r="1.55"/><circle cx="487.3" cy="474.9" r="1.55"/><circle cx="481.0" cy="481.1" r="1.55"/><circle cx="486.6" cy="477.0" r="1.55"/><circle cx="479.6" cy="483.0" r="1.55"/><circle cx="486.0" cy="477.9" r="1.55"/><circle cx="485.5" cy="479.6" r="1.55"/><circle cx="483.5" cy="479.2" r="1.55"/><circle cx="486.3" cy="476.3" r="1.55"/><circle cx="482.5" cy="483.0" r="1.55"/><circle cx="482.6" cy="482.6" r="1.55"/><circle cx="483.3" cy="478.6" r="1.55"/><circle cx="483.8" cy="481.0" r="1.55"/><circle cx="482.0" cy="483.6" r="1.55"/><circle cx="483.1" cy="481.7" r="1.55"/><circle cx="481.3" cy="480.8" r="1.55"/><circle cx="476.3" cy="485.2" r="1.55"/><circle cx="481.1" cy="483.5" r="1.55"/><circle cx="482.5" cy="484.0" r="1.55"/><circle cx="478.1" cy="485.7" r="1.55"/><circle cx="476.2" cy="482.3" r="1.55"/><circle cx="478.3" cy="484.9" r="1.55"/><circle cx="476.8" cy="483.2" r="1.55"/><circle cx="480.9" cy="484.8" r="1.55"/><circle cx="479.5" cy="481.2" r="1.55"/><circle cx="473.3" cy="481.7" r="1.55"/><circle cx="477.5" cy="479.0" r="1.55"/><circle cx="475.7" cy="484.1" r="1.55"/><circle cx="478.9" cy="482.7" r="1.55"/><circle cx="480.8" cy="484.4" r="1.55"/><circle cx="473.4" cy="479.2" r="1.55"/><circle cx="474.5" cy="481.1" r="1.55"/><circle cx="480.6" cy="485.8" r="1.55"/><circle cx="475.4" cy="484.0" r="1.55"/><circle cx="474.3" cy="484.1" r="1.55"/><circle cx="477.8" cy="484.3" r="1.55"/><circle cx="476.0" cy="481.2" r="1.55"/><circle cx="477.0" cy="482.2" r="1.55"/><circle cx="474.1" cy="477.8" r="1.55"/><circle cx="479.3" cy="486.8" r="1.55"/><circle cx="481.1" cy="488.7" r="1.55"/><circle cx="481.3" cy="486.1" r="1.55"/><circle cx="478.6" cy="485.1" r="1.55"/><circle cx="476.5" cy="486.0" r="1.55"/><circle cx="470.8" cy="482.5" r="1.55"/><circle cx="473.4" cy="483.2" r="1.55"/><circle cx="481.5" cy="484.6" r="1.55"/><circle cx="476.8" cy="480.0" r="1.55"/><circle cx="478.7" cy="484.6" r="1.55"/><circle cx="476.0" cy="481.3" r="1.55"/><circle cx="475.4" cy="482.1" r="1.55"/><circle cx="483.6" cy="489.7" r="1.55"/><circle cx="490.8" cy="490.0" r="1.55"/><circle cx="484.1" cy="484.8" r="1.55"/><circle cx="486.5" cy="491.6" r="1.55"/><circle cx="482.8" cy="489.3" r="1.55"/><circle cx="480.1" cy="482.0" r="1.55"/><circle cx="479.4" cy="487.2" r="1.55"/><circle cx="485.1" cy="488.9" r="1.55"/><circle cx="489.1" cy="488.3" r="1.55"/><circle cx="487.0" cy="486.1" r="1.55"/><circle cx="484.1" cy="490.3" r="1.55"/><circle cx="488.9" cy="487.6" r="1.55"/><circle cx="486.1" cy="484.9" r="1.55"/><circle cx="488.8" cy="487.1" r="1.55"/><circle cx="491.2" cy="487.8" r="1.55"/><circle cx="488.0" cy="486.9" r="1.55"/><circle cx="489.4" cy="490.1" r="1.55"/><circle cx="487.4" cy="487.9" r="1.55"/><circle cx="485.3" cy="487.3" r="1.55"/><circle cx="488.2" cy="488.3" r="1.55"/><circle cx="484.3" cy="487.6" r="1.55"/><circle cx="487.5" cy="487.3" r="1.55"/><circle cx="487.4" cy="485.2" r="1.55"/><circle cx="478.7" cy="483.2" r="1.55"/><circle cx="482.6" cy="487.1" r="1.55"/><circle cx="481.9" cy="487.2" r="1.55"/><circle cx="485.6" cy="485.0" r="1.55"/><circle cx="488.3" cy="487.4" r="1.55"/><circle cx="487.5" cy="487.9" r="1.55"/><circle cx="478.9" cy="483.8" r="1.55"/><circle cx="482.8" cy="484.9" r="1.55"/><circle cx="486.5" cy="490.1" r="1.55"/><circle cx="489.9" cy="489.9" r="1.55"/><circle cx="481.8" cy="487.0" r="1.55"/><circle cx="483.5" cy="490.3" r="1.55"/><circle cx="523.2" cy="472.7" r="1.55"/><circle cx="522.5" cy="471.4" r="1.55"/><circle cx="520.7" cy="472.5" r="1.55"/><circle cx="523.5" cy="470.4" r="1.55"/><circle cx="521.6" cy="471.2" r="1.55"/><circle cx="521.0" cy="470.6" r="1.55"/><circle cx="523.8" cy="471.1" r="1.55"/><circle cx="524.6" cy="470.7" r="1.55"/><circle cx="524.4" cy="471.1" r="1.55"/><circle cx="524.8" cy="472.2" r="1.55"/><circle cx="522.9" cy="471.7" r="1.55"/><circle cx="524.1" cy="472.1" r="1.55"/><circle cx="530.4" cy="471.5" r="1.55"/><circle cx="529.3" cy="472.0" r="1.55"/><circle cx="532.0" cy="471.3" r="1.55"/><circle cx="531.8" cy="471.9" r="1.55"/><circle cx="533.1" cy="469.9" r="1.55"/><circle cx="528.9" cy="472.7" r="1.55"/><circle cx="529.4" cy="470.5" r="1.55"/><circle cx="532.2" cy="472.1" r="1.55"/><circle cx="534.9" cy="470.4" r="1.55"/><circle cx="527.7" cy="471.6" r="1.55"/><circle cx="529.2" cy="470.9" r="1.55"/><circle cx="530.8" cy="471.5" r="1.55"/><circle cx="526.4" cy="474.0" r="1.55"/><circle cx="526.8" cy="469.1" r="1.55"/><circle cx="527.4" cy="467.3" r="1.55"/><circle cx="528.4" cy="464.7" r="1.55"/><circle cx="527.5" cy="472.8" r="1.55"/><circle cx="527.4" cy="471.2" r="1.55"/><circle cx="526.7" cy="467.8" r="1.55"/><circle cx="526.3" cy="467.9" r="1.55"/><circle cx="526.7" cy="479.0" r="1.55"/><circle cx="527.7" cy="463.9" r="1.55"/><circle cx="526.6" cy="463.6" r="1.55"/><circle cx="527.1" cy="475.7" r="1.55"/><circle cx="527.7" cy="465.0" r="1.55"/><circle cx="527.1" cy="465.1" r="1.55"/><circle cx="527.3" cy="475.2" r="1.55"/><circle cx="527.3" cy="467.9" r="1.55"/><circle cx="527.2" cy="463.6" r="1.55"/><circle cx="528.7" cy="478.1" r="1.55"/><circle cx="527.7" cy="469.5" r="1.55"/><circle cx="526.4" cy="468.9" r="1.55"/><circle cx="527.5" cy="479.0" r="1.55"/><circle cx="526.9" cy="469.6" r="1.55"/><circle cx="527.8" cy="470.3" r="1.55"/><circle cx="526.2" cy="476.2" r="1.55"/><circle cx="528.0" cy="473.5" r="1.55"/><circle cx="527.4" cy="478.2" r="1.55"/><circle cx="520.4" cy="490.7" r="1.55"/><circle cx="526.0" cy="491.1" r="1.55"/><circle cx="515.2" cy="488.1" r="1.55"/><circle cx="521.6" cy="490.9" r="1.55"/><circle cx="529.9" cy="495.1" r="1.55"/><circle cx="519.2" cy="486.5" r="1.55"/><circle cx="521.0" cy="493.4" r="1.55"/><circle cx="523.5" cy="489.1" r="1.55"/><circle cx="524.5" cy="489.9" r="1.55"/><circle cx="519.8" cy="490.6" r="1.55"/><circle cx="527.4" cy="491.3" r="1.55"/><circle cx="524.7" cy="490.1" r="1.55"/><circle cx="528.1" cy="489.9" r="1.55"/><circle cx="526.1" cy="491.7" r="1.55"/><circle cx="526.1" cy="490.2" r="1.55"/><circle cx="524.2" cy="493.6" r="1.55"/><circle cx="527.1" cy="495.1" r="1.55"/><circle cx="518.1" cy="490.8" r="1.55"/><circle cx="530.0" cy="494.7" r="1.55"/><circle cx="517.0" cy="486.7" r="1.55"/><circle cx="522.1" cy="490.7" r="1.55"/><circle cx="524.6" cy="491.5" r="1.55"/><circle cx="519.7" cy="491.0" r="1.55"/><circle cx="519.7" cy="487.1" r="1.55"/><circle cx="521.0" cy="491.9" r="1.55"/><circle cx="519.7" cy="487.6" r="1.55"/><circle cx="524.7" cy="489.2" r="1.55"/><circle cx="523.4" cy="487.8" r="1.55"/><circle cx="517.8" cy="489.5" r="1.55"/><circle cx="523.0" cy="492.2" r="1.55"/><circle cx="528.5" cy="491.5" r="1.55"/><circle cx="521.3" cy="491.4" r="1.55"/><circle cx="527.2" cy="492.4" r="1.55"/><circle cx="515.6" cy="489.3" r="1.55"/><circle cx="525.5" cy="490.1" r="1.55"/><circle cx="520.7" cy="491.4" r="1.55"/><circle cx="522.4" cy="488.1" r="1.55"/><circle cx="526.5" cy="492.1" r="1.55"/><circle cx="525.4" cy="494.4" r="1.55"/><circle cx="519.4" cy="485.6" r="1.55"/><circle cx="528.2" cy="494.1" r="1.55"/><circle cx="527.5" cy="494.1" r="1.55"/><circle cx="525.6" cy="490.4" r="1.55"/><circle cx="525.7" cy="496.5" r="1.55"/><circle cx="523.2" cy="490.4" r="1.55"/><circle cx="527.2" cy="495.9" r="1.55"/><circle cx="525.3" cy="494.5" r="1.55"/><circle cx="531.7" cy="497.2" r="1.55"/><circle cx="528.9" cy="496.9" r="1.55"/><circle cx="532.3" cy="495.4" r="1.55"/><circle cx="529.5" cy="497.7" r="1.55"/><circle cx="538.3" cy="499.5" r="1.55"/><circle cx="532.5" cy="494.9" r="1.55"/><circle cx="534.9" cy="498.1" r="1.55"/><circle cx="541.0" cy="499.3" r="1.55"/><circle cx="535.3" cy="500.7" r="1.55"/><circle cx="534.3" cy="500.0" r="1.55"/><circle cx="532.2" cy="495.1" r="1.55"/><circle cx="530.5" cy="493.3" r="1.55"/><circle cx="536.9" cy="499.4" r="1.55"/><circle cx="532.9" cy="495.3" r="1.55"/><circle cx="532.7" cy="496.8" r="1.55"/><circle cx="538.1" cy="501.2" r="1.55"/><circle cx="537.6" cy="499.3" r="1.55"/><circle cx="531.9" cy="496.8" r="1.55"/><circle cx="536.6" cy="498.5" r="1.55"/><circle cx="530.5" cy="496.8" r="1.55"/><circle cx="538.8" cy="497.3" r="1.55"/><circle cx="532.0" cy="496.6" r="1.55"/><circle cx="532.1" cy="493.2" r="1.55"/><circle cx="536.4" cy="497.0" r="1.55"/><circle cx="527.5" cy="496.2" r="1.55"/><circle cx="538.2" cy="500.1" r="1.55"/><circle cx="535.4" cy="494.2" r="1.55"/><circle cx="537.7" cy="501.2" r="1.55"/><circle cx="537.2" cy="499.7" r="1.55"/><circle cx="536.5" cy="500.1" r="1.55"/><circle cx="537.2" cy="500.6" r="1.55"/><circle cx="539.8" cy="503.5" r="1.55"/><circle cx="536.4" cy="499.5" r="1.55"/><circle cx="528.5" cy="494.3" r="1.55"/><circle cx="534.5" cy="495.4" r="1.55"/><circle cx="536.7" cy="500.0" r="1.55"/><circle cx="532.3" cy="493.4" r="1.55"/><circle cx="533.4" cy="497.2" r="1.55"/><circle cx="543.0" cy="500.3" r="1.55"/><circle cx="538.2" cy="500.7" r="1.55"/><circle cx="533.4" cy="494.9" r="1.55"/><circle cx="536.2" cy="496.6" r="1.55"/><circle cx="535.7" cy="498.2" r="1.55"/><circle cx="534.3" cy="495.0" r="1.55"/><circle cx="535.3" cy="501.6" r="1.55"/><circle cx="535.2" cy="501.2" r="1.55"/><circle cx="539.9" cy="499.9" r="1.55"/><circle cx="535.6" cy="499.2" r="1.55"/><circle cx="536.6" cy="500.5" r="1.55"/><circle cx="529.5" cy="495.0" r="1.55"/><circle cx="539.3" cy="499.3" r="1.55"/><circle cx="533.0" cy="494.3" r="1.55"/><circle cx="531.5" cy="499.0" r="1.55"/><circle cx="536.9" cy="495.5" r="1.55"/><circle cx="537.8" cy="497.3" r="1.55"/><circle cx="536.7" cy="501.4" r="1.55"/><circle cx="529.7" cy="494.9" r="1.55"/><circle cx="524.8" cy="496.7" r="1.55"/><circle cx="529.0" cy="492.4" r="1.55"/><circle cx="529.3" cy="500.2" r="1.55"/><circle cx="528.0" cy="502.1" r="1.55"/><circle cx="526.7" cy="488.1" r="1.55"/><circle cx="526.9" cy="495.4" r="1.55"/><circle cx="527.0" cy="498.4" r="1.55"/><circle cx="525.2" cy="492.1" r="1.55"/><circle cx="527.8" cy="485.0" r="1.55"/><circle cx="529.7" cy="496.6" r="1.55"/><circle cx="529.5" cy="503.5" r="1.55"/><circle cx="528.6" cy="495.7" r="1.55"/><circle cx="530.6" cy="502.2" r="1.55"/><circle cx="531.4" cy="503.6" r="1.55"/><circle cx="526.0" cy="491.8" r="1.55"/><circle cx="530.3" cy="500.7" r="1.55"/><circle cx="526.1" cy="491.8" r="1.55"/><circle cx="526.4" cy="484.9" r="1.55"/><circle cx="530.3" cy="493.6" r="1.55"/><circle cx="527.8" cy="496.1" r="1.55"/><circle cx="530.8" cy="502.2" r="1.55"/><circle cx="527.9" cy="503.2" r="1.55"/><circle cx="528.0" cy="486.4" r="1.55"/><circle cx="525.0" cy="488.2" r="1.55"/><circle cx="530.4" cy="502.6" r="1.55"/><circle cx="527.5" cy="502.0" r="1.55"/><circle cx="529.1" cy="500.9" r="1.55"/><circle cx="530.4" cy="497.9" r="1.55"/><circle cx="525.5" cy="488.5" r="1.55"/><circle cx="529.0" cy="500.3" r="1.55"/><circle cx="524.6" cy="487.4" r="1.55"/><circle cx="525.2" cy="489.9" r="1.55"/><circle cx="528.1" cy="498.4" r="1.55"/><circle cx="528.9" cy="501.7" r="1.55"/><circle cx="530.8" cy="499.3" r="1.55"/><circle cx="524.9" cy="493.4" r="1.55"/><circle cx="523.7" cy="485.2" r="1.55"/><circle cx="526.4" cy="489.3" r="1.55"/><circle cx="526.4" cy="489.2" r="1.55"/><circle cx="525.0" cy="490.3" r="1.55"/><circle cx="530.1" cy="502.5" r="1.55"/><circle cx="527.3" cy="492.2" r="1.55"/><circle cx="528.4" cy="503.2" r="1.55"/><circle cx="526.6" cy="494.5" r="1.55"/><circle cx="528.7" cy="495.8" r="1.55"/><circle cx="529.0" cy="492.9" r="1.55"/><circle cx="528.8" cy="494.9" r="1.55"/><circle cx="530.2" cy="502.4" r="1.55"/><circle cx="539.4" cy="463.2" r="1.55"/><circle cx="548.8" cy="462.4" r="1.55"/><circle cx="545.2" cy="465.0" r="1.55"/><circle cx="547.1" cy="463.4" r="1.55"/><circle cx="545.3" cy="462.4" r="1.55"/><circle cx="541.3" cy="462.4" r="1.55"/><circle cx="543.2" cy="463.7" r="1.55"/><circle cx="542.3" cy="461.6" r="1.55"/><circle cx="548.1" cy="463.2" r="1.55"/><circle cx="548.6" cy="464.8" r="1.55"/><circle cx="544.2" cy="462.9" r="1.55"/><circle cx="545.0" cy="463.0" r="1.55"/><circle cx="548.2" cy="464.5" r="1.55"/><circle cx="540.9" cy="463.2" r="1.55"/><circle cx="548.5" cy="461.3" r="1.55"/><circle cx="538.2" cy="462.7" r="1.55"/><circle cx="542.1" cy="462.1" r="1.55"/><circle cx="545.0" cy="460.2" r="1.55"/><circle cx="538.3" cy="462.7" r="1.55"/><circle cx="539.5" cy="464.4" r="1.55"/><circle cx="539.4" cy="463.0" r="1.55"/><circle cx="544.5" cy="463.0" r="1.55"/><circle cx="551.3" cy="461.9" r="1.55"/><circle cx="541.6" cy="464.3" r="1.55"/><circle cx="539.2" cy="462.9" r="1.55"/><circle cx="541.9" cy="465.0" r="1.55"/><circle cx="548.1" cy="463.7" r="1.55"/><circle cx="548.3" cy="463.9" r="1.55"/><circle cx="548.8" cy="461.8" r="1.55"/><circle cx="548.0" cy="464.4" r="1.55"/><circle cx="556.7" cy="467.4" r="1.55"/><circle cx="552.3" cy="465.6" r="1.55"/><circle cx="556.6" cy="466.3" r="1.55"/><circle cx="551.5" cy="465.0" r="1.55"/><circle cx="557.3" cy="465.0" r="1.55"/><circle cx="559.1" cy="467.4" r="1.55"/><circle cx="551.1" cy="462.8" r="1.55"/><circle cx="554.7" cy="464.9" r="1.55"/><circle cx="551.3" cy="466.4" r="1.55"/><circle cx="557.2" cy="467.2" r="1.55"/><circle cx="554.0" cy="463.9" r="1.55"/><circle cx="557.4" cy="463.0" r="1.55"/><circle cx="550.5" cy="465.9" r="1.55"/><circle cx="553.0" cy="463.3" r="1.55"/><circle cx="557.2" cy="465.5" r="1.55"/><circle cx="554.6" cy="465.5" r="1.55"/><circle cx="552.0" cy="464.3" r="1.55"/><circle cx="552.0" cy="465.8" r="1.55"/><circle cx="551.9" cy="463.1" r="1.55"/><circle cx="556.9" cy="464.6" r="1.55"/><circle cx="552.4" cy="467.0" r="1.55"/><circle cx="561.4" cy="469.9" r="1.55"/><circle cx="561.4" cy="468.8" r="1.55"/><circle cx="562.2" cy="467.3" r="1.55"/><circle cx="563.1" cy="468.3" r="1.55"/><circle cx="567.7" cy="473.3" r="1.55"/><circle cx="568.4" cy="473.1" r="1.55"/><circle cx="568.2" cy="468.8" r="1.55"/><circle cx="561.3" cy="466.6" r="1.55"/><circle cx="563.1" cy="468.7" r="1.55"/><circle cx="562.3" cy="469.8" r="1.55"/><circle cx="563.3" cy="469.0" r="1.55"/><circle cx="565.2" cy="470.5" r="1.55"/><circle cx="563.3" cy="468.2" r="1.55"/><circle cx="564.8" cy="470.0" r="1.55"/><circle cx="563.8" cy="468.9" r="1.55"/><circle cx="558.7" cy="467.2" r="1.55"/><circle cx="559.9" cy="466.7" r="1.55"/><circle cx="562.6" cy="467.6" r="1.55"/><circle cx="562.7" cy="468.2" r="1.55"/><circle cx="564.5" cy="466.5" r="1.55"/><circle cx="561.6" cy="466.3" r="1.55"/><circle cx="561.9" cy="466.7" r="1.55"/><circle cx="560.6" cy="466.7" r="1.55"/><circle cx="565.1" cy="468.5" r="1.55"/><circle cx="555.4" cy="483.3" r="1.55"/><circle cx="558.1" cy="485.3" r="1.55"/><circle cx="558.3" cy="486.5" r="1.55"/><circle cx="556.1" cy="484.4" r="1.55"/><circle cx="558.4" cy="487.4" r="1.55"/><circle cx="555.1" cy="481.0" r="1.55"/><circle cx="553.8" cy="479.8" r="1.55"/><circle cx="554.3" cy="481.8" r="1.55"/><circle cx="555.8" cy="483.1" r="1.55"/><circle cx="558.3" cy="485.7" r="1.55"/><circle cx="556.4" cy="482.0" r="1.55"/><circle cx="489.3" cy="509.1" r="1.55"/><circle cx="493.5" cy="511.9" r="1.55"/><circle cx="486.7" cy="511.5" r="1.55"/><circle cx="486.0" cy="513.0" r="1.55"/><circle cx="488.5" cy="512.6" r="1.55"/><circle cx="487.3" cy="512.0" r="1.55"/><circle cx="484.9" cy="509.1" r="1.55"/><circle cx="483.5" cy="507.5" r="1.55"/><circle cx="487.9" cy="508.0" r="1.55"/><circle cx="486.7" cy="506.5" r="1.55"/><circle cx="483.3" cy="510.8" r="1.55"/><circle cx="488.8" cy="514.1" r="1.55"/><circle cx="485.0" cy="507.4" r="1.55"/><circle cx="486.5" cy="506.6" r="1.55"/><circle cx="489.4" cy="511.5" r="1.55"/><circle cx="487.9" cy="509.6" r="1.55"/><circle cx="492.7" cy="513.8" r="1.55"/><circle cx="490.0" cy="513.1" r="1.55"/><circle cx="480.0" cy="506.4" r="1.55"/><circle cx="494.9" cy="515.3" r="1.55"/><circle cx="485.7" cy="508.7" r="1.55"/><circle cx="493.4" cy="512.9" r="1.55"/><circle cx="490.8" cy="512.3" r="1.55"/><circle cx="485.4" cy="506.1" r="1.55"/><circle cx="483.8" cy="509.2" r="1.55"/><circle cx="486.3" cy="511.1" r="1.55"/><circle cx="487.0" cy="506.6" r="1.55"/><circle cx="483.6" cy="511.3" r="1.55"/><circle cx="493.0" cy="511.8" r="1.55"/><circle cx="487.1" cy="510.8" r="1.55"/><circle cx="484.8" cy="509.9" r="1.55"/><circle cx="492.6" cy="515.4" r="1.55"/><circle cx="483.8" cy="509.1" r="1.55"/><circle cx="490.4" cy="513.2" r="1.55"/><circle cx="486.0" cy="511.9" r="1.55"/><circle cx="486.6" cy="510.8" r="1.55"/><circle cx="485.0" cy="507.2" r="1.55"/><circle cx="484.6" cy="510.7" r="1.55"/><circle cx="494.2" cy="516.4" r="1.55"/><circle cx="485.2" cy="512.2" r="1.55"/><circle cx="489.4" cy="511.1" r="1.55"/><circle cx="498.9" cy="516.6" r="1.55"/><circle cx="505.5" cy="517.3" r="1.55"/><circle cx="499.4" cy="513.9" r="1.55"/><circle cx="496.6" cy="514.8" r="1.55"/><circle cx="496.4" cy="515.1" r="1.55"/><circle cx="500.3" cy="520.9" r="1.55"/><circle cx="494.2" cy="516.7" r="1.55"/><circle cx="490.3" cy="512.9" r="1.55"/><circle cx="501.4" cy="516.7" r="1.55"/><circle cx="503.2" cy="516.2" r="1.55"/><circle cx="506.4" cy="522.3" r="1.55"/><circle cx="497.0" cy="514.5" r="1.55"/><circle cx="505.5" cy="520.1" r="1.55"/><circle cx="494.0" cy="516.3" r="1.55"/><circle cx="501.0" cy="516.0" r="1.55"/><circle cx="498.9" cy="519.3" r="1.55"/><circle cx="502.3" cy="520.6" r="1.55"/><circle cx="496.7" cy="514.1" r="1.55"/><circle cx="498.3" cy="517.7" r="1.55"/><circle cx="496.2" cy="515.4" r="1.55"/><circle cx="496.7" cy="515.9" r="1.55"/><circle cx="496.9" cy="518.0" r="1.55"/><circle cx="500.4" cy="516.6" r="1.55"/><circle cx="501.2" cy="522.2" r="1.55"/><circle cx="496.7" cy="513.9" r="1.55"/><circle cx="503.8" cy="522.3" r="1.55"/><circle cx="501.5" cy="519.9" r="1.55"/><circle cx="502.3" cy="517.4" r="1.55"/><circle cx="493.0" cy="517.3" r="1.55"/><circle cx="493.4" cy="512.7" r="1.55"/><circle cx="500.7" cy="520.5" r="1.55"/><circle cx="504.3" cy="517.4" r="1.55"/><circle cx="497.5" cy="516.4" r="1.55"/><circle cx="501.2" cy="517.0" r="1.55"/><circle cx="498.4" cy="519.0" r="1.55"/><circle cx="493.6" cy="513.4" r="1.55"/><circle cx="501.4" cy="517.5" r="1.55"/><circle cx="495.7" cy="515.0" r="1.55"/><circle cx="504.5" cy="521.8" r="1.55"/><circle cx="503.6" cy="518.3" r="1.55"/><circle cx="503.2" cy="518.3" r="1.55"/><circle cx="504.8" cy="521.9" r="1.55"/><circle cx="498.8" cy="520.0" r="1.55"/><circle cx="503.1" cy="516.7" r="1.55"/><circle cx="504.1" cy="522.9" r="1.55"/><circle cx="502.7" cy="525.1" r="1.55"/><circle cx="503.2" cy="524.0" r="1.55"/><circle cx="505.9" cy="523.5" r="1.55"/><circle cx="502.2" cy="525.2" r="1.55"/><circle cx="505.7" cy="522.3" r="1.55"/><circle cx="503.3" cy="523.3" r="1.55"/><circle cx="504.2" cy="522.4" r="1.55"/><circle cx="508.4" cy="524.7" r="1.55"/><circle cx="503.0" cy="527.2" r="1.55"/><circle cx="508.4" cy="521.9" r="1.55"/><circle cx="499.7" cy="528.3" r="1.55"/><circle cx="506.4" cy="523.6" r="1.55"/><circle cx="509.6" cy="524.6" r="1.55"/><circle cx="507.8" cy="521.3" r="1.55"/><circle cx="505.8" cy="524.0" r="1.55"/><circle cx="502.3" cy="527.9" r="1.55"/><circle cx="500.6" cy="524.3" r="1.55"/><circle cx="503.7" cy="528.3" r="1.55"/><circle cx="505.1" cy="525.7" r="1.55"/><circle cx="507.1" cy="521.2" r="1.55"/><circle cx="504.6" cy="526.2" r="1.55"/><circle cx="505.6" cy="524.8" r="1.55"/><circle cx="505.4" cy="527.2" r="1.55"/><circle cx="504.9" cy="523.3" r="1.55"/><circle cx="501.2" cy="524.8" r="1.55"/><circle cx="502.9" cy="524.1" r="1.55"/><circle cx="504.7" cy="527.2" r="1.55"/><circle cx="504.4" cy="523.8" r="1.55"/><circle cx="506.1" cy="524.2" r="1.55"/><circle cx="513.9" cy="518.2" r="1.55"/><circle cx="508.2" cy="522.7" r="1.55"/><circle cx="514.6" cy="520.1" r="1.55"/><circle cx="514.4" cy="518.3" r="1.55"/><circle cx="514.7" cy="522.8" r="1.55"/><circle cx="509.6" cy="522.1" r="1.55"/><circle cx="517.7" cy="517.3" r="1.55"/><circle cx="516.3" cy="521.9" r="1.55"/><circle cx="508.6" cy="523.2" r="1.55"/><circle cx="514.5" cy="517.9" r="1.55"/><circle cx="517.4" cy="518.8" r="1.55"/><circle cx="512.7" cy="520.2" r="1.55"/><circle cx="512.1" cy="522.8" r="1.55"/><circle cx="517.4" cy="519.4" r="1.55"/><circle cx="515.5" cy="520.4" r="1.55"/><circle cx="513.8" cy="516.8" r="1.55"/><circle cx="507.7" cy="522.3" r="1.55"/><circle cx="515.4" cy="522.9" r="1.55"/><circle cx="510.1" cy="522.2" r="1.55"/><circle cx="512.5" cy="519.8" r="1.55"/><circle cx="509.0" cy="519.5" r="1.55"/><circle cx="515.5" cy="522.3" r="1.55"/><circle cx="515.6" cy="518.4" r="1.55"/><circle cx="516.1" cy="520.7" r="1.55"/><circle cx="517.7" cy="518.5" r="1.55"/><circle cx="509.9" cy="520.3" r="1.55"/><circle cx="510.5" cy="520.0" r="1.55"/><circle cx="515.2" cy="522.0" r="1.55"/><circle cx="504.5" cy="533.5" r="1.55"/><circle cx="505.3" cy="532.3" r="1.55"/><circle cx="507.2" cy="533.6" r="1.55"/><circle cx="505.7" cy="533.0" r="1.55"/><circle cx="512.3" cy="535.1" r="1.55"/><circle cx="504.9" cy="532.6" r="1.55"/><circle cx="505.1" cy="532.3" r="1.55"/><circle cx="512.0" cy="534.4" r="1.55"/><circle cx="504.3" cy="531.5" r="1.55"/><circle cx="510.2" cy="534.9" r="1.55"/><circle cx="503.1" cy="533.3" r="1.55"/><circle cx="511.2" cy="533.0" r="1.55"/><circle cx="502.1" cy="532.9" r="1.55"/><circle cx="506.1" cy="534.1" r="1.55"/><circle cx="504.1" cy="533.3" r="1.55"/><circle cx="512.6" cy="533.7" r="1.55"/><circle cx="508.2" cy="532.8" r="1.55"/><circle cx="505.1" cy="532.2" r="1.55"/><circle cx="504.8" cy="533.8" r="1.55"/><circle cx="504.7" cy="533.7" r="1.55"/><circle cx="502.8" cy="532.3" r="1.55"/><circle cx="559.7" cy="502.5" r="1.55"/><circle cx="561.4" cy="501.1" r="1.55"/><circle cx="558.6" cy="501.0" r="1.55"/><circle cx="563.0" cy="505.5" r="1.55"/><circle cx="561.2" cy="501.8" r="1.55"/><circle cx="564.3" cy="503.3" r="1.55"/><circle cx="561.0" cy="505.3" r="1.55"/><circle cx="560.7" cy="502.9" r="1.55"/><circle cx="558.6" cy="502.5" r="1.55"/><circle cx="559.9" cy="499.1" r="1.55"/><circle cx="560.6" cy="498.2" r="1.55"/><circle cx="562.6" cy="507.7" r="1.55"/><circle cx="565.9" cy="506.5" r="1.55"/><circle cx="563.0" cy="508.0" r="1.55"/><circle cx="564.5" cy="503.4" r="1.55"/><circle cx="558.6" cy="497.4" r="1.55"/><circle cx="559.3" cy="503.0" r="1.55"/><circle cx="565.9" cy="504.7" r="1.55"/><circle cx="563.2" cy="505.3" r="1.55"/><circle cx="560.8" cy="506.7" r="1.55"/><circle cx="565.8" cy="507.4" r="1.55"/><circle cx="560.8" cy="506.9" r="1.55"/><circle cx="558.6" cy="502.3" r="1.55"/><circle cx="557.7" cy="501.5" r="1.55"/><circle cx="561.0" cy="500.4" r="1.55"/><circle cx="561.7" cy="504.2" r="1.55"/><circle cx="557.7" cy="502.0" r="1.55"/><circle cx="563.5" cy="502.7" r="1.55"/><circle cx="557.9" cy="501.2" r="1.55"/><circle cx="560.7" cy="497.1" r="1.55"/><circle cx="556.4" cy="498.8" r="1.55"/><circle cx="565.0" cy="503.6" r="1.55"/><circle cx="560.6" cy="506.8" r="1.55"/><circle cx="558.8" cy="497.2" r="1.55"/><circle cx="562.8" cy="505.7" r="1.55"/><circle cx="557.7" cy="501.5" r="1.55"/><circle cx="559.7" cy="504.7" r="1.55"/><circle cx="562.3" cy="508.5" r="1.55"/><circle cx="563.5" cy="502.4" r="1.55"/><circle cx="563.2" cy="506.7" r="1.55"/><circle cx="566.1" cy="516.2" r="1.55"/><circle cx="566.3" cy="506.9" r="1.55"/><circle cx="565.1" cy="518.0" r="1.55"/><circle cx="570.4" cy="514.4" r="1.55"/><circle cx="565.0" cy="513.8" r="1.55"/><circle cx="569.3" cy="518.5" r="1.55"/><circle cx="570.9" cy="519.1" r="1.55"/><circle cx="565.2" cy="514.4" r="1.55"/><circle cx="568.6" cy="509.0" r="1.55"/><circle cx="570.5" cy="519.7" r="1.55"/><circle cx="566.7" cy="513.2" r="1.55"/><circle cx="569.5" cy="517.7" r="1.55"/><circle cx="569.9" cy="513.2" r="1.55"/><circle cx="565.3" cy="519.1" r="1.55"/><circle cx="566.8" cy="520.0" r="1.55"/><circle cx="567.5" cy="518.7" r="1.55"/><circle cx="563.5" cy="507.9" r="1.55"/><circle cx="566.1" cy="512.9" r="1.55"/><circle cx="566.5" cy="515.9" r="1.55"/><circle cx="562.8" cy="511.3" r="1.55"/><circle cx="567.7" cy="507.5" r="1.55"/><circle cx="564.4" cy="514.7" r="1.55"/><circle cx="565.2" cy="511.8" r="1.55"/><circle cx="567.8" cy="518.4" r="1.55"/><circle cx="566.4" cy="521.9" r="1.55"/><circle cx="563.9" cy="511.6" r="1.55"/><circle cx="570.0" cy="516.1" r="1.55"/><circle cx="566.1" cy="516.4" r="1.55"/><circle cx="571.1" cy="521.9" r="1.55"/><circle cx="570.4" cy="517.6" r="1.55"/><circle cx="564.4" cy="508.8" r="1.55"/><circle cx="567.4" cy="523.2" r="1.55"/><circle cx="564.9" cy="508.0" r="1.55"/><circle cx="562.1" cy="506.9" r="1.55"/><circle cx="569.4" cy="514.0" r="1.55"/><circle cx="569.2" cy="515.6" r="1.55"/><circle cx="563.7" cy="510.0" r="1.55"/><circle cx="567.8" cy="517.0" r="1.55"/><circle cx="565.6" cy="513.3" r="1.55"/><circle cx="563.6" cy="512.8" r="1.55"/><circle cx="469.2" cy="516.2" r="1.55"/><circle cx="467.1" cy="512.3" r="1.55"/><circle cx="472.0" cy="517.9" r="1.55"/><circle cx="470.1" cy="517.5" r="1.55"/><circle cx="467.1" cy="514.2" r="1.55"/><circle cx="467.5" cy="514.8" r="1.55"/><circle cx="464.8" cy="512.0" r="1.55"/><circle cx="467.5" cy="512.9" r="1.55"/><circle cx="470.6" cy="518.3" r="1.55"/><circle cx="469.3" cy="516.2" r="1.55"/><circle cx="468.7" cy="514.1" r="1.55"/><circle cx="467.6" cy="512.2" r="1.55"/><circle cx="471.0" cy="517.4" r="1.55"/><circle cx="467.5" cy="514.1" r="1.55"/><circle cx="469.4" cy="518.3" r="1.55"/><circle cx="467.7" cy="516.5" r="1.55"/><circle cx="545.8" cy="532.0" r="1.55"/><circle cx="545.1" cy="530.3" r="1.55"/><circle cx="545.9" cy="530.0" r="1.55"/><circle cx="544.5" cy="529.3" r="1.55"/><circle cx="545.9" cy="532.2" r="1.55"/><circle cx="544.8" cy="530.5" r="1.55"/><circle cx="545.1" cy="529.1" r="1.55"/><circle cx="548.6" cy="497.9" r="1.55"/><circle cx="473.9" cy="516.7" r="1.55"/><circle cx="491.3" cy="470.9" r="1.55"/><circle cx="509.2" cy="535.6" r="1.55"/><circle cx="504.6" cy="482.5" r="1.55"/><circle cx="561.3" cy="535.7" r="1.55"/><circle cx="506.3" cy="464.0" r="1.55"/><circle cx="548.5" cy="518.2" r="1.55"/><circle cx="501.2" cy="518.9" r="1.55"/><circle cx="505.5" cy="476.7" r="1.55"/><circle cx="527.9" cy="514.8" r="1.55"/><circle cx="515.6" cy="521.3" r="1.55"/><circle cx="467.2" cy="494.5" r="1.55"/><circle cx="505.6" cy="458.1" r="1.55"/><circle cx="561.6" cy="464.6" r="1.55"/><circle cx="487.3" cy="526.3" r="1.55"/><circle cx="566.5" cy="530.8" r="1.55"/><circle cx="501.6" cy="530.7" r="1.55"/><circle cx="480.6" cy="512.5" r="1.55"/><circle cx="564.9" cy="468.8" r="1.55"/><circle cx="479.9" cy="509.5" r="1.55"/><circle cx="558.3" cy="513.6" r="1.55"/><circle cx="565.3" cy="490.7" r="1.55"/><circle cx="504.8" cy="462.7" r="1.55"/><circle cx="494.3" cy="531.4" r="1.55"/><circle cx="473.2" cy="468.1" r="1.55"/><circle cx="502.2" cy="456.7" r="1.55"/><circle cx="497.9" cy="467.9" r="1.55"/><circle cx="478.6" cy="496.8" r="1.55"/><circle cx="522.4" cy="500.2" r="1.55"/><circle cx="545.7" cy="496.8" r="1.55"/><circle cx="565.1" cy="459.4" r="1.55"/><circle cx="489.1" cy="459.0" r="1.55"/><circle cx="498.2" cy="516.4" r="1.55"/><circle cx="562.6" cy="494.9" r="1.55"/><circle cx="482.5" cy="480.3" r="1.55"/><circle cx="525.3" cy="477.3" r="1.55"/><circle cx="548.9" cy="534.2" r="1.55"/><circle cx="513.9" cy="503.2" r="1.55"/><circle cx="554.4" cy="491.6" r="1.55"/></g>
<rect x="557.60" y="529.30" width="8.50" height="2.60" fill="#fff" stroke="#222" stroke-width="0.4"/>
</g></g>
<g><clipPath id="cp12"><rect x="465.7" y="538.9" width="104.9" height="83.2"/></clipPath>
<rect x="465.70" y="538.90" width="104.90" height="83.20" fill="#5f6162" />
<g clip-path="url(#cp12)">
<g fill="#7a8486"><circle cx="490.1" cy="540.8" r="2.5"/><circle cx="490.7" cy="541.1" r="2.5"/><circle cx="490.8" cy="539.5" r="2.5"/><circle cx="490.1" cy="542.6" r="2.5"/><circle cx="488.0" cy="541.4" r="2.5"/><circle cx="496.7" cy="545.9" r="2.5"/><circle cx="487.9" cy="539.1" r="2.5"/><circle cx="491.1" cy="542.1" r="2.5"/><circle cx="490.2" cy="539.6" r="2.5"/><circle cx="491.4" cy="540.5" r="2.5"/><circle cx="487.9" cy="541.3" r="2.5"/><circle cx="489.4" cy="541.1" r="2.5"/><circle cx="494.0" cy="544.3" r="2.5"/><circle cx="492.3" cy="545.6" r="2.5"/><circle cx="490.5" cy="543.6" r="2.5"/><circle cx="487.8" cy="537.7" r="2.5"/><circle cx="494.0" cy="544.0" r="2.5"/><circle cx="489.7" cy="540.0" r="2.5"/><circle cx="489.0" cy="542.5" r="2.5"/><circle cx="492.3" cy="541.1" r="2.5"/><circle cx="489.0" cy="538.8" r="2.5"/><circle cx="492.0" cy="544.8" r="2.5"/><circle cx="490.9" cy="541.4" r="2.5"/><circle cx="492.9" cy="545.2" r="2.5"/><circle cx="488.0" cy="542.1" r="2.5"/><circle cx="494.3" cy="544.2" r="2.5"/><circle cx="495.8" cy="548.9" r="2.5"/><circle cx="497.4" cy="552.6" r="2.5"/><circle cx="497.4" cy="545.9" r="2.5"/><circle cx="496.0" cy="544.2" r="2.5"/><circle cx="494.8" cy="548.0" r="2.5"/><circle cx="496.8" cy="548.2" r="2.5"/><circle cx="493.2" cy="543.9" r="2.5"/><circle cx="499.9" cy="552.5" r="2.5"/><circle cx="497.3" cy="545.3" r="2.5"/><circle cx="498.7" cy="552.0" r="2.5"/><circle cx="496.5" cy="547.8" r="2.5"/><circle cx="500.9" cy="551.4" r="2.5"/><circle cx="497.6" cy="546.5" r="2.5"/><circle cx="497.7" cy="551.9" r="2.5"/><circle cx="499.1" cy="551.9" r="2.5"/><circle cx="495.4" cy="545.2" r="2.5"/><circle cx="497.1" cy="545.2" r="2.5"/><circle cx="493.8" cy="548.3" r="2.5"/><circle cx="496.1" cy="547.5" r="2.5"/><circle cx="500.2" cy="550.4" r="2.5"/><circle cx="500.2" cy="548.2" r="2.5"/><circle cx="497.1" cy="551.0" r="2.5"/><circle cx="498.6" cy="550.5" r="2.5"/><circle cx="500.8" cy="549.1" r="2.5"/><circle cx="501.5" cy="550.7" r="2.5"/><circle cx="498.5" cy="551.6" r="2.5"/><circle cx="468.6" cy="550.7" r="2.5"/><circle cx="470.0" cy="549.2" r="2.5"/><circle cx="465.9" cy="547.3" r="2.5"/><circle cx="469.8" cy="550.2" r="2.5"/><circle cx="468.9" cy="547.5" r="2.5"/><circle cx="466.9" cy="549.5" r="2.5"/><circle cx="471.1" cy="547.9" r="2.5"/><circle cx="471.3" cy="548.9" r="2.5"/><circle cx="471.0" cy="550.6" r="2.5"/><circle cx="469.5" cy="549.9" r="2.5"/><circle cx="475.1" cy="550.6" r="2.5"/><circle cx="469.5" cy="549.8" r="2.5"/><circle cx="470.1" cy="547.2" r="2.5"/><circle cx="472.8" cy="551.1" r="2.5"/><circle cx="471.9" cy="548.4" r="2.5"/><circle cx="471.6" cy="547.1" r="2.5"/><circle cx="466.5" cy="547.6" r="2.5"/><circle cx="468.9" cy="546.9" r="2.5"/><circle cx="471.9" cy="550.0" r="2.5"/><circle cx="475.1" cy="550.6" r="2.5"/><circle cx="474.9" cy="553.6" r="2.5"/><circle cx="474.8" cy="553.0" r="2.5"/><circle cx="477.0" cy="552.3" r="2.5"/><circle cx="476.8" cy="551.0" r="2.5"/><circle cx="477.0" cy="550.5" r="2.5"/><circle cx="476.5" cy="553.3" r="2.5"/><circle cx="475.3" cy="552.4" r="2.5"/><circle cx="474.5" cy="551.4" r="2.5"/><circle cx="474.3" cy="553.2" r="2.5"/><circle cx="475.8" cy="551.2" r="2.5"/><circle cx="474.7" cy="553.9" r="2.5"/><circle cx="525.8" cy="553.3" r="2.5"/><circle cx="526.5" cy="552.3" r="2.5"/><circle cx="523.2" cy="555.4" r="2.5"/><circle cx="526.3" cy="552.9" r="2.5"/><circle cx="528.0" cy="555.4" r="2.5"/><circle cx="517.1" cy="549.1" r="2.5"/><circle cx="523.0" cy="555.6" r="2.5"/><circle cx="516.3" cy="553.1" r="2.5"/><circle cx="525.7" cy="555.0" r="2.5"/><circle cx="518.3" cy="553.1" r="2.5"/><circle cx="524.0" cy="549.7" r="2.5"/><circle cx="518.9" cy="553.6" r="2.5"/><circle cx="517.1" cy="552.5" r="2.5"/><circle cx="522.7" cy="558.2" r="2.5"/><circle cx="523.7" cy="548.4" r="2.5"/><circle cx="524.8" cy="552.7" r="2.5"/><circle cx="517.0" cy="548.2" r="2.5"/><circle cx="525.7" cy="555.5" r="2.5"/><circle cx="518.2" cy="548.8" r="2.5"/><circle cx="516.2" cy="549.0" r="2.5"/><circle cx="519.7" cy="550.1" r="2.5"/><circle cx="526.1" cy="550.9" r="2.5"/><circle cx="517.0" cy="552.2" r="2.5"/><circle cx="522.2" cy="555.5" r="2.5"/><circle cx="517.9" cy="550.2" r="2.5"/><circle cx="521.9" cy="551.4" r="2.5"/><circle cx="530.4" cy="555.3" r="2.5"/><circle cx="524.1" cy="557.5" r="2.5"/><circle cx="522.5" cy="553.0" r="2.5"/><circle cx="516.7" cy="550.7" r="2.5"/><circle cx="525.7" cy="549.9" r="2.5"/><circle cx="516.3" cy="553.3" r="2.5"/><circle cx="524.3" cy="556.1" r="2.5"/><circle cx="519.8" cy="552.1" r="2.5"/><circle cx="515.6" cy="551.8" r="2.5"/><circle cx="512.8" cy="547.2" r="2.5"/><circle cx="523.8" cy="557.0" r="2.5"/><circle cx="516.8" cy="544.3" r="2.5"/><circle cx="514.3" cy="547.7" r="2.5"/><circle cx="520.2" cy="554.2" r="2.5"/><circle cx="522.6" cy="550.3" r="2.5"/><circle cx="519.4" cy="552.2" r="2.5"/><circle cx="521.0" cy="553.4" r="2.5"/><circle cx="517.1" cy="554.3" r="2.5"/><circle cx="517.2" cy="553.3" r="2.5"/><circle cx="516.3" cy="550.4" r="2.5"/><circle cx="516.1" cy="546.5" r="2.5"/><circle cx="520.5" cy="544.9" r="2.5"/><circle cx="524.7" cy="556.0" r="2.5"/><circle cx="520.3" cy="547.7" r="2.5"/><circle cx="515.6" cy="546.0" r="2.5"/><circle cx="517.5" cy="553.1" r="2.5"/><circle cx="523.7" cy="550.1" r="2.5"/><circle cx="518.3" cy="554.5" r="2.5"/><circle cx="524.2" cy="557.4" r="2.5"/><circle cx="519.7" cy="553.6" r="2.5"/><circle cx="521.9" cy="549.8" r="2.5"/><circle cx="523.9" cy="550.7" r="2.5"/><circle cx="520.6" cy="557.3" r="2.5"/><circle cx="528.2" cy="558.8" r="2.5"/><circle cx="519.5" cy="553.2" r="2.5"/><circle cx="532.0" cy="559.3" r="2.5"/><circle cx="527.1" cy="558.7" r="2.5"/><circle cx="529.3" cy="554.2" r="2.5"/><circle cx="527.9" cy="556.6" r="2.5"/><circle cx="528.7" cy="561.6" r="2.5"/><circle cx="539.4" cy="560.9" r="2.5"/><circle cx="532.2" cy="562.9" r="2.5"/><circle cx="530.5" cy="560.0" r="2.5"/><circle cx="524.7" cy="556.9" r="2.5"/><circle cx="526.2" cy="555.4" r="2.5"/><circle cx="537.5" cy="558.6" r="2.5"/><circle cx="534.6" cy="559.5" r="2.5"/><circle cx="529.2" cy="559.3" r="2.5"/><circle cx="532.6" cy="562.0" r="2.5"/><circle cx="538.3" cy="559.7" r="2.5"/><circle cx="534.0" cy="557.4" r="2.5"/><circle cx="540.4" cy="563.0" r="2.5"/><circle cx="528.6" cy="556.3" r="2.5"/><circle cx="525.2" cy="560.0" r="2.5"/><circle cx="530.1" cy="560.6" r="2.5"/><circle cx="536.4" cy="557.9" r="2.5"/><circle cx="530.1" cy="559.9" r="2.5"/><circle cx="532.5" cy="558.2" r="2.5"/><circle cx="526.6" cy="555.9" r="2.5"/><circle cx="534.7" cy="562.4" r="2.5"/><circle cx="538.4" cy="558.1" r="2.5"/><circle cx="525.7" cy="559.9" r="2.5"/><circle cx="525.8" cy="556.3" r="2.5"/><circle cx="536.4" cy="557.5" r="2.5"/><circle cx="529.7" cy="554.8" r="2.5"/><circle cx="532.2" cy="557.7" r="2.5"/><circle cx="533.2" cy="560.4" r="2.5"/><circle cx="529.3" cy="562.2" r="2.5"/><circle cx="527.4" cy="558.9" r="2.5"/><circle cx="534.7" cy="566.7" r="2.5"/><circle cx="531.0" cy="557.8" r="2.5"/><circle cx="533.5" cy="556.6" r="2.5"/><circle cx="534.5" cy="562.6" r="2.5"/><circle cx="538.5" cy="563.6" r="2.5"/><circle cx="532.8" cy="555.4" r="2.5"/><circle cx="537.7" cy="559.8" r="2.5"/><circle cx="535.7" cy="563.4" r="2.5"/><circle cx="539.6" cy="560.0" r="2.5"/><circle cx="532.3" cy="561.6" r="2.5"/><circle cx="530.1" cy="558.4" r="2.5"/><circle cx="539.2" cy="560.9" r="2.5"/><circle cx="529.4" cy="561.6" r="2.5"/><circle cx="538.5" cy="560.5" r="2.5"/><circle cx="532.0" cy="559.7" r="2.5"/><circle cx="529.7" cy="560.0" r="2.5"/><circle cx="526.9" cy="558.5" r="2.5"/><circle cx="530.8" cy="564.7" r="2.5"/><circle cx="530.6" cy="560.5" r="2.5"/><circle cx="532.2" cy="563.3" r="2.5"/><circle cx="533.9" cy="559.2" r="2.5"/><circle cx="526.2" cy="556.5" r="2.5"/><circle cx="538.8" cy="563.1" r="2.5"/><circle cx="539.1" cy="560.5" r="2.5"/><circle cx="547.2" cy="567.4" r="2.5"/><circle cx="543.8" cy="563.7" r="2.5"/><circle cx="545.8" cy="568.9" r="2.5"/><circle cx="543.9" cy="563.8" r="2.5"/><circle cx="537.7" cy="563.3" r="2.5"/><circle cx="546.0" cy="567.4" r="2.5"/><circle cx="538.1" cy="568.3" r="2.5"/><circle cx="544.8" cy="563.3" r="2.5"/><circle cx="538.4" cy="561.7" r="2.5"/><circle cx="535.0" cy="565.5" r="2.5"/><circle cx="543.3" cy="565.5" r="2.5"/><circle cx="537.0" cy="561.2" r="2.5"/><circle cx="541.1" cy="567.2" r="2.5"/><circle cx="548.7" cy="563.2" r="2.5"/><circle cx="539.2" cy="565.7" r="2.5"/><circle cx="546.1" cy="565.4" r="2.5"/><circle cx="542.4" cy="563.7" r="2.5"/><circle cx="537.5" cy="567.9" r="2.5"/><circle cx="539.5" cy="562.3" r="2.5"/><circle cx="545.8" cy="568.6" r="2.5"/><circle cx="547.2" cy="563.4" r="2.5"/><circle cx="543.5" cy="569.1" r="2.5"/><circle cx="548.3" cy="566.2" r="2.5"/><circle cx="538.4" cy="559.6" r="2.5"/><circle cx="540.2" cy="560.6" r="2.5"/><circle cx="537.5" cy="563.3" r="2.5"/><circle cx="543.2" cy="562.2" r="2.5"/><circle cx="548.8" cy="564.5" r="2.5"/><circle cx="542.1" cy="562.1" r="2.5"/><circle cx="539.5" cy="562.1" r="2.5"/><circle cx="540.1" cy="560.7" r="2.5"/><circle cx="544.7" cy="568.4" r="2.5"/><circle cx="549.1" cy="566.9" r="2.5"/><circle cx="538.3" cy="565.9" r="2.5"/><circle cx="545.4" cy="567.1" r="2.5"/><circle cx="540.4" cy="566.1" r="2.5"/><circle cx="550.8" cy="566.6" r="2.5"/><circle cx="539.8" cy="567.0" r="2.5"/><circle cx="536.0" cy="564.6" r="2.5"/><circle cx="540.8" cy="566.8" r="2.5"/><circle cx="549.0" cy="565.1" r="2.5"/><circle cx="545.1" cy="567.2" r="2.5"/><circle cx="545.8" cy="562.7" r="2.5"/><circle cx="539.5" cy="560.1" r="2.5"/><circle cx="539.2" cy="568.0" r="2.5"/><circle cx="544.8" cy="566.0" r="2.5"/><circle cx="542.9" cy="568.4" r="2.5"/><circle cx="531.3" cy="549.0" r="2.5"/><circle cx="531.9" cy="552.4" r="2.5"/><circle cx="532.1" cy="552.1" r="2.5"/><circle cx="533.7" cy="552.8" r="2.5"/><circle cx="532.1" cy="554.0" r="2.5"/><circle cx="529.3" cy="548.6" r="2.5"/><circle cx="530.6" cy="546.1" r="2.5"/><circle cx="532.4" cy="557.1" r="2.5"/><circle cx="532.2" cy="544.9" r="2.5"/><circle cx="531.1" cy="555.5" r="2.5"/><circle cx="532.9" cy="550.8" r="2.5"/><circle cx="530.4" cy="554.3" r="2.5"/><circle cx="534.1" cy="552.9" r="2.5"/><circle cx="531.0" cy="549.0" r="2.5"/><circle cx="529.7" cy="551.9" r="2.5"/><circle cx="531.0" cy="547.4" r="2.5"/><circle cx="533.1" cy="555.8" r="2.5"/><circle cx="532.1" cy="558.4" r="2.5"/><circle cx="530.8" cy="554.7" r="2.5"/><circle cx="530.1" cy="546.7" r="2.5"/><circle cx="531.5" cy="559.4" r="2.5"/><circle cx="533.7" cy="558.4" r="2.5"/><circle cx="535.2" cy="560.0" r="2.5"/><circle cx="532.8" cy="558.6" r="2.5"/><circle cx="530.2" cy="554.0" r="2.5"/><circle cx="530.6" cy="550.2" r="2.5"/><circle cx="528.8" cy="544.0" r="2.5"/><circle cx="531.4" cy="557.3" r="2.5"/><circle cx="531.4" cy="549.7" r="2.5"/><circle cx="531.0" cy="545.9" r="2.5"/><circle cx="531.1" cy="550.6" r="2.5"/><circle cx="540.3" cy="554.9" r="2.5"/><circle cx="538.3" cy="559.2" r="2.5"/><circle cx="534.1" cy="557.1" r="2.5"/><circle cx="535.6" cy="556.8" r="2.5"/><circle cx="536.6" cy="560.4" r="2.5"/><circle cx="534.8" cy="558.2" r="2.5"/><circle cx="545.8" cy="552.4" r="2.5"/><circle cx="541.6" cy="555.0" r="2.5"/><circle cx="539.7" cy="556.4" r="2.5"/><circle cx="539.9" cy="557.9" r="2.5"/><circle cx="543.2" cy="553.7" r="2.5"/><circle cx="534.6" cy="560.4" r="2.5"/><circle cx="542.1" cy="557.8" r="2.5"/><circle cx="539.4" cy="557.2" r="2.5"/><circle cx="539.0" cy="554.5" r="2.5"/><circle cx="537.0" cy="558.5" r="2.5"/><circle cx="540.0" cy="554.8" r="2.5"/><circle cx="538.1" cy="558.6" r="2.5"/><circle cx="544.3" cy="553.9" r="2.5"/><circle cx="540.0" cy="555.5" r="2.5"/><circle cx="545.0" cy="555.9" r="2.5"/><circle cx="543.4" cy="553.6" r="2.5"/><circle cx="536.7" cy="556.9" r="2.5"/><circle cx="542.2" cy="553.3" r="2.5"/><circle cx="533.7" cy="559.2" r="2.5"/><circle cx="543.6" cy="555.0" r="2.5"/><circle cx="542.8" cy="555.0" r="2.5"/><circle cx="544.1" cy="555.7" r="2.5"/><circle cx="536.2" cy="557.2" r="2.5"/><circle cx="537.3" cy="555.0" r="2.5"/><circle cx="535.1" cy="557.4" r="2.5"/><circle cx="544.6" cy="551.8" r="2.5"/><circle cx="543.4" cy="557.0" r="2.5"/><circle cx="533.0" cy="557.6" r="2.5"/><circle cx="496.0" cy="572.3" r="2.5"/><circle cx="501.3" cy="576.8" r="2.5"/><circle cx="504.3" cy="574.7" r="2.5"/><circle cx="504.5" cy="572.4" r="2.5"/><circle cx="504.4" cy="578.4" r="2.5"/><circle cx="504.3" cy="577.5" r="2.5"/><circle cx="500.7" cy="568.7" r="2.5"/><circle cx="498.4" cy="569.7" r="2.5"/><circle cx="505.2" cy="574.6" r="2.5"/><circle cx="500.3" cy="575.2" r="2.5"/><circle cx="494.5" cy="571.8" r="2.5"/><circle cx="499.9" cy="569.7" r="2.5"/><circle cx="503.7" cy="573.6" r="2.5"/><circle cx="505.0" cy="573.5" r="2.5"/><circle cx="500.6" cy="576.6" r="2.5"/><circle cx="497.6" cy="572.8" r="2.5"/><circle cx="502.3" cy="574.3" r="2.5"/><circle cx="499.8" cy="574.1" r="2.5"/><circle cx="500.3" cy="575.3" r="2.5"/><circle cx="503.4" cy="575.9" r="2.5"/><circle cx="502.6" cy="576.7" r="2.5"/><circle cx="503.7" cy="575.3" r="2.5"/><circle cx="496.0" cy="569.9" r="2.5"/><circle cx="504.2" cy="574.4" r="2.5"/><circle cx="501.9" cy="573.8" r="2.5"/><circle cx="503.5" cy="572.3" r="2.5"/><circle cx="505.2" cy="578.0" r="2.5"/><circle cx="502.7" cy="577.3" r="2.5"/><circle cx="499.3" cy="572.0" r="2.5"/><circle cx="495.2" cy="569.0" r="2.5"/><circle cx="503.6" cy="577.0" r="2.5"/><circle cx="497.1" cy="572.1" r="2.5"/><circle cx="495.5" cy="571.0" r="2.5"/><circle cx="502.7" cy="576.4" r="2.5"/><circle cx="496.8" cy="570.9" r="2.5"/><circle cx="507.2" cy="574.2" r="2.5"/><circle cx="501.7" cy="570.3" r="2.5"/><circle cx="504.9" cy="575.1" r="2.5"/><circle cx="505.5" cy="574.0" r="2.5"/><circle cx="511.5" cy="581.4" r="2.5"/><circle cx="508.1" cy="579.3" r="2.5"/><circle cx="507.7" cy="579.1" r="2.5"/><circle cx="513.2" cy="586.2" r="2.5"/><circle cx="512.9" cy="582.8" r="2.5"/><circle cx="510.0" cy="582.7" r="2.5"/><circle cx="506.0" cy="577.3" r="2.5"/><circle cx="506.0" cy="580.4" r="2.5"/><circle cx="505.8" cy="580.5" r="2.5"/><circle cx="512.4" cy="584.4" r="2.5"/><circle cx="509.6" cy="584.0" r="2.5"/><circle cx="511.3" cy="580.7" r="2.5"/><circle cx="507.8" cy="587.3" r="2.5"/><circle cx="510.4" cy="579.7" r="2.5"/><circle cx="508.4" cy="587.9" r="2.5"/><circle cx="515.4" cy="585.2" r="2.5"/><circle cx="506.2" cy="584.0" r="2.5"/><circle cx="508.9" cy="584.2" r="2.5"/><circle cx="504.8" cy="576.8" r="2.5"/><circle cx="509.7" cy="585.5" r="2.5"/><circle cx="505.1" cy="581.7" r="2.5"/><circle cx="512.2" cy="586.0" r="2.5"/><circle cx="502.9" cy="579.0" r="2.5"/><circle cx="507.5" cy="580.2" r="2.5"/><circle cx="504.3" cy="578.0" r="2.5"/><circle cx="506.8" cy="584.0" r="2.5"/><circle cx="508.7" cy="585.4" r="2.5"/><circle cx="511.3" cy="586.1" r="2.5"/><circle cx="504.8" cy="581.2" r="2.5"/><circle cx="514.6" cy="585.8" r="2.5"/><circle cx="506.2" cy="584.1" r="2.5"/><circle cx="512.8" cy="583.8" r="2.5"/><circle cx="508.0" cy="586.8" r="2.5"/><circle cx="512.3" cy="583.5" r="2.5"/><circle cx="508.1" cy="583.2" r="2.5"/><circle cx="510.6" cy="582.0" r="2.5"/><circle cx="506.4" cy="581.5" r="2.5"/><circle cx="505.9" cy="583.0" r="2.5"/><circle cx="504.2" cy="580.8" r="2.5"/><circle cx="513.5" cy="586.4" r="2.5"/><circle cx="514.7" cy="587.2" r="2.5"/><circle cx="510.3" cy="585.7" r="2.5"/><circle cx="514.5" cy="589.2" r="2.5"/><circle cx="510.3" cy="579.7" r="2.5"/><circle cx="527.4" cy="588.7" r="2.5"/><circle cx="521.1" cy="584.9" r="2.5"/><circle cx="522.5" cy="584.2" r="2.5"/><circle cx="519.1" cy="585.4" r="2.5"/><circle cx="522.0" cy="582.6" r="2.5"/><circle cx="520.1" cy="587.3" r="2.5"/><circle cx="520.4" cy="581.7" r="2.5"/><circle cx="525.2" cy="589.8" r="2.5"/><circle cx="522.7" cy="584.3" r="2.5"/><circle cx="522.0" cy="586.7" r="2.5"/><circle cx="521.5" cy="585.0" r="2.5"/><circle cx="526.0" cy="587.9" r="2.5"/><circle cx="529.0" cy="591.5" r="2.5"/><circle cx="524.0" cy="588.8" r="2.5"/><circle cx="524.2" cy="584.9" r="2.5"/><circle cx="523.4" cy="584.1" r="2.5"/><circle cx="523.5" cy="581.8" r="2.5"/><circle cx="518.2" cy="583.6" r="2.5"/><circle cx="522.3" cy="585.3" r="2.5"/><circle cx="518.8" cy="581.9" r="2.5"/><circle cx="525.4" cy="590.5" r="2.5"/><circle cx="524.6" cy="587.6" r="2.5"/><circle cx="526.7" cy="590.8" r="2.5"/><circle cx="527.7" cy="589.2" r="2.5"/><circle cx="526.1" cy="588.7" r="2.5"/><circle cx="525.9" cy="586.7" r="2.5"/><circle cx="522.6" cy="589.8" r="2.5"/><circle cx="525.4" cy="584.1" r="2.5"/><circle cx="523.3" cy="583.3" r="2.5"/><circle cx="526.8" cy="584.8" r="2.5"/><circle cx="525.4" cy="589.1" r="2.5"/><circle cx="526.4" cy="590.8" r="2.5"/><circle cx="522.0" cy="588.9" r="2.5"/><circle cx="517.7" cy="583.6" r="2.5"/><circle cx="519.4" cy="585.2" r="2.5"/><circle cx="521.9" cy="585.0" r="2.5"/><circle cx="526.2" cy="589.2" r="2.5"/><circle cx="521.8" cy="588.7" r="2.5"/><circle cx="524.4" cy="589.4" r="2.5"/><circle cx="522.2" cy="584.3" r="2.5"/><circle cx="526.8" cy="588.1" r="2.5"/><circle cx="525.9" cy="590.3" r="2.5"/><circle cx="521.3" cy="580.2" r="2.5"/><circle cx="530.9" cy="596.3" r="2.5"/><circle cx="528.7" cy="595.2" r="2.5"/><circle cx="529.8" cy="592.2" r="2.5"/><circle cx="538.8" cy="602.0" r="2.5"/><circle cx="530.5" cy="600.5" r="2.5"/><circle cx="533.2" cy="599.3" r="2.5"/><circle cx="534.8" cy="603.9" r="2.5"/><circle cx="536.3" cy="600.6" r="2.5"/><circle cx="531.9" cy="593.3" r="2.5"/><circle cx="529.4" cy="590.2" r="2.5"/><circle cx="531.7" cy="593.6" r="2.5"/><circle cx="533.5" cy="600.1" r="2.5"/><circle cx="533.1" cy="592.1" r="2.5"/><circle cx="532.2" cy="595.9" r="2.5"/><circle cx="531.1" cy="601.0" r="2.5"/><circle cx="531.8" cy="598.2" r="2.5"/><circle cx="537.3" cy="602.1" r="2.5"/><circle cx="527.4" cy="595.2" r="2.5"/><circle cx="533.6" cy="602.2" r="2.5"/><circle cx="538.1" cy="603.4" r="2.5"/><circle cx="531.9" cy="600.7" r="2.5"/><circle cx="535.1" cy="606.7" r="2.5"/><circle cx="534.6" cy="600.3" r="2.5"/><circle cx="533.5" cy="601.7" r="2.5"/><circle cx="536.0" cy="606.2" r="2.5"/><circle cx="532.5" cy="596.6" r="2.5"/><circle cx="531.7" cy="597.3" r="2.5"/><circle cx="529.2" cy="596.4" r="2.5"/><circle cx="532.8" cy="596.0" r="2.5"/><circle cx="535.1" cy="597.6" r="2.5"/><circle cx="535.9" cy="602.2" r="2.5"/><circle cx="533.1" cy="598.2" r="2.5"/><circle cx="533.0" cy="595.2" r="2.5"/><circle cx="534.2" cy="599.8" r="2.5"/><circle cx="527.6" cy="594.8" r="2.5"/><circle cx="532.0" cy="599.3" r="2.5"/><circle cx="533.8" cy="599.5" r="2.5"/><circle cx="531.1" cy="598.8" r="2.5"/><circle cx="532.1" cy="597.5" r="2.5"/><circle cx="533.2" cy="597.8" r="2.5"/><circle cx="536.0" cy="603.2" r="2.5"/><circle cx="536.5" cy="598.2" r="2.5"/><circle cx="533.4" cy="599.1" r="2.5"/><circle cx="530.3" cy="589.3" r="2.5"/><circle cx="534.2" cy="599.6" r="2.5"/><circle cx="534.0" cy="599.2" r="2.5"/><circle cx="536.0" cy="599.9" r="2.5"/><circle cx="532.8" cy="594.5" r="2.5"/><circle cx="529.5" cy="592.7" r="2.5"/><circle cx="540.0" cy="603.2" r="2.5"/><circle cx="534.4" cy="601.2" r="2.5"/><circle cx="531.9" cy="602.2" r="2.5"/><circle cx="527.2" cy="592.6" r="2.5"/><circle cx="531.5" cy="593.9" r="2.5"/><circle cx="535.8" cy="600.8" r="2.5"/><circle cx="529.8" cy="594.5" r="2.5"/><circle cx="536.7" cy="599.4" r="2.5"/><circle cx="485.5" cy="592.9" r="2.5"/><circle cx="484.8" cy="596.4" r="2.5"/><circle cx="482.1" cy="594.7" r="2.5"/><circle cx="487.0" cy="596.8" r="2.5"/><circle cx="483.8" cy="588.9" r="2.5"/><circle cx="487.4" cy="604.2" r="2.5"/><circle cx="482.8" cy="594.7" r="2.5"/><circle cx="481.6" cy="594.8" r="2.5"/><circle cx="481.7" cy="593.1" r="2.5"/><circle cx="482.5" cy="591.9" r="2.5"/><circle cx="483.0" cy="593.5" r="2.5"/><circle cx="487.6" cy="598.8" r="2.5"/><circle cx="483.6" cy="591.7" r="2.5"/><circle cx="482.5" cy="596.5" r="2.5"/><circle cx="483.8" cy="594.8" r="2.5"/><circle cx="486.9" cy="601.1" r="2.5"/><circle cx="482.3" cy="596.6" r="2.5"/><circle cx="484.9" cy="599.6" r="2.5"/><circle cx="484.3" cy="593.7" r="2.5"/><circle cx="487.1" cy="598.7" r="2.5"/><circle cx="484.5" cy="592.2" r="2.5"/><circle cx="484.6" cy="595.0" r="2.5"/><circle cx="484.7" cy="596.8" r="2.5"/><circle cx="488.7" cy="600.2" r="2.5"/><circle cx="483.8" cy="601.9" r="2.5"/><circle cx="486.9" cy="597.7" r="2.5"/><circle cx="486.6" cy="602.2" r="2.5"/><circle cx="486.0" cy="598.3" r="2.5"/><circle cx="481.8" cy="594.7" r="2.5"/><circle cx="485.8" cy="601.8" r="2.5"/><circle cx="484.8" cy="597.4" r="2.5"/><circle cx="482.2" cy="593.2" r="2.5"/><circle cx="484.1" cy="596.8" r="2.5"/><circle cx="487.2" cy="600.2" r="2.5"/><circle cx="484.3" cy="593.8" r="2.5"/><circle cx="483.8" cy="605.4" r="2.5"/><circle cx="483.4" cy="601.7" r="2.5"/><circle cx="481.7" cy="609.1" r="2.5"/><circle cx="482.2" cy="609.2" r="2.5"/><circle cx="484.4" cy="607.3" r="2.5"/><circle cx="482.9" cy="608.9" r="2.5"/><circle cx="487.7" cy="606.2" r="2.5"/><circle cx="481.6" cy="608.6" r="2.5"/><circle cx="482.9" cy="610.6" r="2.5"/><circle cx="484.5" cy="610.2" r="2.5"/><circle cx="486.8" cy="599.8" r="2.5"/><circle cx="486.0" cy="602.6" r="2.5"/><circle cx="484.4" cy="602.5" r="2.5"/><circle cx="483.0" cy="607.7" r="2.5"/><circle cx="484.7" cy="608.7" r="2.5"/><circle cx="486.3" cy="602.6" r="2.5"/><circle cx="484.3" cy="602.7" r="2.5"/><circle cx="483.0" cy="608.9" r="2.5"/><circle cx="484.6" cy="608.7" r="2.5"/><circle cx="484.3" cy="603.8" r="2.5"/><circle cx="482.1" cy="612.0" r="2.5"/><circle cx="485.9" cy="605.2" r="2.5"/><circle cx="485.6" cy="606.6" r="2.5"/><circle cx="486.5" cy="606.8" r="2.5"/><circle cx="486.7" cy="603.7" r="2.5"/><circle cx="485.4" cy="604.5" r="2.5"/><circle cx="486.1" cy="604.4" r="2.5"/><circle cx="483.3" cy="611.4" r="2.5"/><circle cx="486.6" cy="600.6" r="2.5"/><circle cx="482.3" cy="612.6" r="2.5"/><circle cx="485.7" cy="601.2" r="2.5"/><circle cx="485.4" cy="609.7" r="2.5"/><circle cx="487.7" cy="600.1" r="2.5"/><circle cx="481.5" cy="607.1" r="2.5"/><circle cx="488.1" cy="605.7" r="2.5"/><circle cx="497.5" cy="601.6" r="2.5"/><circle cx="498.7" cy="602.2" r="2.5"/><circle cx="499.6" cy="601.3" r="2.5"/><circle cx="503.7" cy="603.4" r="2.5"/><circle cx="496.5" cy="600.2" r="2.5"/><circle cx="499.8" cy="595.2" r="2.5"/><circle cx="503.2" cy="599.0" r="2.5"/><circle cx="501.7" cy="600.3" r="2.5"/><circle cx="500.1" cy="602.1" r="2.5"/><circle cx="501.2" cy="602.7" r="2.5"/><circle cx="497.2" cy="594.5" r="2.5"/><circle cx="497.0" cy="595.3" r="2.5"/><circle cx="501.9" cy="602.5" r="2.5"/><circle cx="499.5" cy="598.5" r="2.5"/><circle cx="500.3" cy="598.1" r="2.5"/><circle cx="499.6" cy="597.9" r="2.5"/><circle cx="502.6" cy="600.3" r="2.5"/><circle cx="495.8" cy="598.6" r="2.5"/><circle cx="501.4" cy="597.0" r="2.5"/><circle cx="502.4" cy="601.1" r="2.5"/><circle cx="499.4" cy="597.7" r="2.5"/><circle cx="500.1" cy="600.8" r="2.5"/><circle cx="506.0" cy="602.2" r="2.5"/><circle cx="504.1" cy="610.4" r="2.5"/><circle cx="503.5" cy="609.6" r="2.5"/><circle cx="505.2" cy="608.4" r="2.5"/><circle cx="504.5" cy="606.0" r="2.5"/><circle cx="505.2" cy="605.5" r="2.5"/><circle cx="505.5" cy="608.9" r="2.5"/><circle cx="500.5" cy="602.1" r="2.5"/><circle cx="506.7" cy="605.8" r="2.5"/><circle cx="507.2" cy="609.4" r="2.5"/><circle cx="504.4" cy="601.0" r="2.5"/><circle cx="502.0" cy="605.2" r="2.5"/><circle cx="503.3" cy="606.8" r="2.5"/><circle cx="501.7" cy="604.8" r="2.5"/><circle cx="499.8" cy="601.8" r="2.5"/><circle cx="501.5" cy="600.2" r="2.5"/><circle cx="504.5" cy="603.3" r="2.5"/><circle cx="506.6" cy="608.5" r="2.5"/><circle cx="503.7" cy="604.0" r="2.5"/><circle cx="505.5" cy="606.4" r="2.5"/><circle cx="502.9" cy="604.4" r="2.5"/><circle cx="504.5" cy="599.5" r="2.5"/><circle cx="505.7" cy="605.9" r="2.5"/><circle cx="503.6" cy="616.7" r="2.5"/><circle cx="501.5" cy="617.9" r="2.5"/><circle cx="508.0" cy="616.1" r="2.5"/><circle cx="510.4" cy="618.0" r="2.5"/><circle cx="509.8" cy="618.6" r="2.5"/><circle cx="500.1" cy="616.4" r="2.5"/><circle cx="502.0" cy="615.8" r="2.5"/><circle cx="509.0" cy="617.5" r="2.5"/><circle cx="507.5" cy="617.1" r="2.5"/><circle cx="500.8" cy="616.9" r="2.5"/><circle cx="501.4" cy="615.6" r="2.5"/><circle cx="503.9" cy="616.8" r="2.5"/><circle cx="509.5" cy="616.7" r="2.5"/><circle cx="507.8" cy="615.8" r="2.5"/><circle cx="508.7" cy="617.5" r="2.5"/><circle cx="503.3" cy="618.2" r="2.5"/><circle cx="512.1" cy="617.8" r="2.5"/><circle cx="505.0" cy="616.9" r="2.5"/><circle cx="513.1" cy="615.3" r="2.5"/><circle cx="512.2" cy="616.0" r="2.5"/><circle cx="509.3" cy="616.6" r="2.5"/><circle cx="502.0" cy="618.0" r="2.5"/><circle cx="498.8" cy="614.1" r="2.5"/><circle cx="499.1" cy="616.7" r="2.5"/><circle cx="507.9" cy="618.0" r="2.5"/><circle cx="508.2" cy="618.3" r="2.5"/><circle cx="499.7" cy="616.6" r="2.5"/><circle cx="499.7" cy="615.9" r="2.5"/><circle cx="506.6" cy="615.5" r="2.5"/><circle cx="500.1" cy="614.6" r="2.5"/><circle cx="501.6" cy="613.9" r="2.5"/><circle cx="504.8" cy="616.4" r="2.5"/><circle cx="498.8" cy="616.6" r="2.5"/><circle cx="507.0" cy="617.4" r="2.5"/><circle cx="504.6" cy="616.4" r="2.5"/><circle cx="503.0" cy="614.2" r="2.5"/><circle cx="507.5" cy="616.7" r="2.5"/><circle cx="506.4" cy="617.7" r="2.5"/><circle cx="511.9" cy="615.5" r="2.5"/><circle cx="509.5" cy="615.8" r="2.5"/><circle cx="508.2" cy="616.0" r="2.5"/><circle cx="502.4" cy="616.8" r="2.5"/><circle cx="525.2" cy="613.3" r="2.5"/><circle cx="520.7" cy="616.8" r="2.5"/><circle cx="522.4" cy="612.9" r="2.5"/><circle cx="518.6" cy="616.6" r="2.5"/><circle cx="512.6" cy="618.8" r="2.5"/><circle cx="525.4" cy="616.3" r="2.5"/><circle cx="516.1" cy="617.7" r="2.5"/><circle cx="518.6" cy="614.5" r="2.5"/><circle cx="516.4" cy="617.1" r="2.5"/><circle cx="516.5" cy="615.7" r="2.5"/><circle cx="520.6" cy="617.0" r="2.5"/><circle cx="512.3" cy="615.7" r="2.5"/><circle cx="524.7" cy="615.3" r="2.5"/><circle cx="519.7" cy="617.5" r="2.5"/><circle cx="522.8" cy="613.6" r="2.5"/><circle cx="522.3" cy="616.7" r="2.5"/><circle cx="514.7" cy="615.2" r="2.5"/><circle cx="523.7" cy="612.9" r="2.5"/><circle cx="516.2" cy="616.8" r="2.5"/><circle cx="515.3" cy="614.6" r="2.5"/><circle cx="517.2" cy="616.8" r="2.5"/><circle cx="513.6" cy="618.0" r="2.5"/><circle cx="516.2" cy="615.9" r="2.5"/><circle cx="519.2" cy="617.0" r="2.5"/><circle cx="514.2" cy="619.2" r="2.5"/><circle cx="519.6" cy="614.0" r="2.5"/><circle cx="521.2" cy="615.7" r="2.5"/><circle cx="520.5" cy="615.7" r="2.5"/><circle cx="522.9" cy="612.9" r="2.5"/><circle cx="517.4" cy="618.3" r="2.5"/><circle cx="514.6" cy="619.0" r="2.5"/><circle cx="522.4" cy="612.8" r="2.5"/><circle cx="515.0" cy="617.8" r="2.5"/><circle cx="526.0" cy="613.7" r="2.5"/><circle cx="521.6" cy="616.0" r="2.5"/><circle cx="522.9" cy="614.9" r="2.5"/><circle cx="515.5" cy="614.9" r="2.5"/><circle cx="513.1" cy="618.0" r="2.5"/><circle cx="519.9" cy="617.0" r="2.5"/><circle cx="516.7" cy="616.8" r="2.5"/><circle cx="512.9" cy="616.4" r="2.5"/><circle cx="521.6" cy="613.7" r="2.5"/><circle cx="518.7" cy="614.3" r="2.5"/><circle cx="565.0" cy="576.6" r="2.5"/><circle cx="566.9" cy="575.3" r="2.5"/><circle cx="560.7" cy="575.3" r="2.5"/><circle cx="561.9" cy="575.9" r="2.5"/><circle cx="563.5" cy="576.0" r="2.5"/><circle cx="558.5" cy="573.2" r="2.5"/><circle cx="565.7" cy="576.6" r="2.5"/><circle cx="562.0" cy="574.0" r="2.5"/><circle cx="567.0" cy="577.5" r="2.5"/><circle cx="564.5" cy="574.2" r="2.5"/><circle cx="560.9" cy="573.8" r="2.5"/><circle cx="566.6" cy="574.3" r="2.5"/><circle cx="567.1" cy="575.5" r="2.5"/><circle cx="567.6" cy="575.6" r="2.5"/><circle cx="565.2" cy="575.7" r="2.5"/><circle cx="560.9" cy="574.0" r="2.5"/><circle cx="559.8" cy="573.7" r="2.5"/><circle cx="563.9" cy="573.7" r="2.5"/><circle cx="559.7" cy="573.7" r="2.5"/><circle cx="562.4" cy="574.7" r="2.5"/><circle cx="562.4" cy="575.2" r="2.5"/><circle cx="564.7" cy="576.1" r="2.5"/><circle cx="565.4" cy="602.9" r="2.5"/><circle cx="569.5" cy="607.6" r="2.5"/><circle cx="565.1" cy="604.7" r="2.5"/><circle cx="565.9" cy="605.4" r="2.5"/><circle cx="565.4" cy="605.1" r="2.5"/><circle cx="566.2" cy="601.2" r="2.5"/><circle cx="565.6" cy="602.7" r="2.5"/><circle cx="566.7" cy="602.9" r="2.5"/><circle cx="566.9" cy="602.8" r="2.5"/><circle cx="568.3" cy="607.2" r="2.5"/><circle cx="567.2" cy="604.0" r="2.5"/><circle cx="566.2" cy="604.1" r="2.5"/><circle cx="569.7" cy="607.3" r="2.5"/><circle cx="567.0" cy="603.0" r="2.5"/><circle cx="565.5" cy="605.4" r="2.5"/><circle cx="474.2" cy="616.1" r="2.5"/><circle cx="477.0" cy="617.8" r="2.5"/><circle cx="476.2" cy="617.4" r="2.5"/><circle cx="475.5" cy="618.2" r="2.5"/><circle cx="472.2" cy="615.7" r="2.5"/><circle cx="474.0" cy="616.4" r="2.5"/><circle cx="476.6" cy="619.4" r="2.5"/><circle cx="476.2" cy="618.9" r="2.5"/><circle cx="471.9" cy="615.1" r="2.5"/><circle cx="518.4" cy="601.5" r="2.5"/><circle cx="513.9" cy="598.0" r="2.5"/><circle cx="514.5" cy="596.7" r="2.5"/><circle cx="517.1" cy="599.6" r="2.5"/><circle cx="517.0" cy="601.1" r="2.5"/><circle cx="513.7" cy="596.1" r="2.5"/><circle cx="514.9" cy="598.3" r="2.5"/><circle cx="514.6" cy="597.6" r="2.5"/><circle cx="515.3" cy="598.6" r="2.5"/><circle cx="514.4" cy="597.9" r="2.5"/><circle cx="549.9" cy="543.4" r="2.5"/><circle cx="550.6" cy="544.8" r="2.5"/><circle cx="549.3" cy="543.4" r="2.5"/><circle cx="547.5" cy="543.1" r="2.5"/><circle cx="547.5" cy="541.4" r="2.5"/><circle cx="542.0" cy="538.8" r="2.5"/><circle cx="542.7" cy="539.5" r="2.5"/><circle cx="551.0" cy="544.2" r="2.5"/><circle cx="549.4" cy="545.5" r="2.5"/><circle cx="549.5" cy="543.1" r="2.5"/><circle cx="543.6" cy="540.2" r="2.5"/><circle cx="549.2" cy="545.4" r="2.5"/><circle cx="547.5" cy="541.0" r="2.5"/><circle cx="552.9" cy="552.6" r="2.5"/><circle cx="513.0" cy="547.6" r="2.5"/><circle cx="488.4" cy="547.5" r="2.5"/><circle cx="491.4" cy="547.1" r="2.5"/><circle cx="541.4" cy="618.9" r="2.5"/><circle cx="541.2" cy="609.6" r="2.5"/><circle cx="532.1" cy="579.9" r="2.5"/><circle cx="512.3" cy="541.6" r="2.5"/><circle cx="544.6" cy="550.1" r="2.5"/><circle cx="559.0" cy="560.7" r="2.5"/><circle cx="514.8" cy="590.9" r="2.5"/><circle cx="512.8" cy="575.3" r="2.5"/><circle cx="570.3" cy="606.2" r="2.5"/><circle cx="482.6" cy="594.0" r="2.5"/><circle cx="543.2" cy="563.2" r="2.5"/><circle cx="477.5" cy="584.0" r="2.5"/><circle cx="506.2" cy="574.8" r="2.5"/><circle cx="534.7" cy="546.3" r="2.5"/><circle cx="526.9" cy="609.1" r="2.5"/><circle cx="549.5" cy="598.2" r="2.5"/><circle cx="484.0" cy="565.0" r="2.5"/><circle cx="500.1" cy="620.8" r="2.5"/><circle cx="555.1" cy="585.3" r="2.5"/><circle cx="489.8" cy="597.2" r="2.5"/><circle cx="562.9" cy="619.2" r="2.5"/><circle cx="560.7" cy="559.5" r="2.5"/><circle cx="568.7" cy="597.4" r="2.5"/><circle cx="549.6" cy="551.3" r="2.5"/><circle cx="563.7" cy="613.8" r="2.5"/><circle cx="537.0" cy="595.5" r="2.5"/><circle cx="525.1" cy="567.3" r="2.5"/><circle cx="550.9" cy="599.2" r="2.5"/><circle cx="539.3" cy="587.8" r="2.5"/><circle cx="551.0" cy="575.8" r="2.5"/><circle cx="546.6" cy="597.7" r="2.5"/><circle cx="561.8" cy="573.6" r="2.5"/><circle cx="565.5" cy="557.0" r="2.5"/><circle cx="520.0" cy="580.9" r="2.5"/><circle cx="565.2" cy="594.2" r="2.5"/><circle cx="499.4" cy="552.8" r="2.5"/></g>
<g fill="#4c5456" stroke="#e2e2e2" stroke-width="0.75"><circle cx="490.1" cy="540.8" r="1.55"/><circle cx="490.7" cy="541.1" r="1.55"/><circle cx="490.8" cy="539.5" r="1.55"/><circle cx="490.1" cy="542.6" r="1.55"/><circle cx="488.0" cy="541.4" r="1.55"/><circle cx="496.7" cy="545.9" r="1.55"/><circle cx="487.9" cy="539.1" r="1.55"/><circle cx="491.1" cy="542.1" r="1.55"/><circle cx="490.2" cy="539.6" r="1.55"/><circle cx="491.4" cy="540.5" r="1.55"/><circle cx="487.9" cy="541.3" r="1.55"/><circle cx="489.4" cy="541.1" r="1.55"/><circle cx="494.0" cy="544.3" r="1.55"/><circle cx="492.3" cy="545.6" r="1.55"/><circle cx="490.5" cy="543.6" r="1.55"/><circle cx="487.8" cy="537.7" r="1.55"/><circle cx="494.0" cy="544.0" r="1.55"/><circle cx="489.7" cy="540.0" r="1.55"/><circle cx="489.0" cy="542.5" r="1.55"/><circle cx="492.3" cy="541.1" r="1.55"/><circle cx="489.0" cy="538.8" r="1.55"/><circle cx="492.0" cy="544.8" r="1.55"/><circle cx="490.9" cy="541.4" r="1.55"/><circle cx="492.9" cy="545.2" r="1.55"/><circle cx="488.0" cy="542.1" r="1.55"/><circle cx="494.3" cy="544.2" r="1.55"/><circle cx="495.8" cy="548.9" r="1.55"/><circle cx="497.4" cy="552.6" r="1.55"/><circle cx="497.4" cy="545.9" r="1.55"/><circle cx="496.0" cy="544.2" r="1.55"/><circle cx="494.8" cy="548.0" r="1.55"/><circle cx="496.8" cy="548.2" r="1.55"/><circle cx="493.2" cy="543.9" r="1.55"/><circle cx="499.9" cy="552.5" r="1.55"/><circle cx="497.3" cy="545.3" r="1.55"/><circle cx="498.7" cy="552.0" r="1.55"/><circle cx="496.5" cy="547.8" r="1.55"/><circle cx="500.9" cy="551.4" r="1.55"/><circle cx="497.6" cy="546.5" r="1.55"/><circle cx="497.7" cy="551.9" r="1.55"/><circle cx="499.1" cy="551.9" r="1.55"/><circle cx="495.4" cy="545.2" r="1.55"/><circle cx="497.1" cy="545.2" r="1.55"/><circle cx="493.8" cy="548.3" r="1.55"/><circle cx="496.1" cy="547.5" r="1.55"/><circle cx="500.2" cy="550.4" r="1.55"/><circle cx="500.2" cy="548.2" r="1.55"/><circle cx="497.1" cy="551.0" r="1.55"/><circle cx="498.6" cy="550.5" r="1.55"/><circle cx="500.8" cy="549.1" r="1.55"/><circle cx="501.5" cy="550.7" r="1.55"/><circle cx="498.5" cy="551.6" r="1.55"/><circle cx="468.6" cy="550.7" r="1.55"/><circle cx="470.0" cy="549.2" r="1.55"/><circle cx="465.9" cy="547.3" r="1.55"/><circle cx="469.8" cy="550.2" r="1.55"/><circle cx="468.9" cy="547.5" r="1.55"/><circle cx="466.9" cy="549.5" r="1.55"/><circle cx="471.1" cy="547.9" r="1.55"/><circle cx="471.3" cy="548.9" r="1.55"/><circle cx="471.0" cy="550.6" r="1.55"/><circle cx="469.5" cy="549.9" r="1.55"/><circle cx="475.1" cy="550.6" r="1.55"/><circle cx="469.5" cy="549.8" r="1.55"/><circle cx="470.1" cy="547.2" r="1.55"/><circle cx="472.8" cy="551.1" r="1.55"/><circle cx="471.9" cy="548.4" r="1.55"/><circle cx="471.6" cy="547.1" r="1.55"/><circle cx="466.5" cy="547.6" r="1.55"/><circle cx="468.9" cy="546.9" r="1.55"/><circle cx="471.9" cy="550.0" r="1.55"/><circle cx="475.1" cy="550.6" r="1.55"/><circle cx="474.9" cy="553.6" r="1.55"/><circle cx="474.8" cy="553.0" r="1.55"/><circle cx="477.0" cy="552.3" r="1.55"/><circle cx="476.8" cy="551.0" r="1.55"/><circle cx="477.0" cy="550.5" r="1.55"/><circle cx="476.5" cy="553.3" r="1.55"/><circle cx="475.3" cy="552.4" r="1.55"/><circle cx="474.5" cy="551.4" r="1.55"/><circle cx="474.3" cy="553.2" r="1.55"/><circle cx="475.8" cy="551.2" r="1.55"/><circle cx="474.7" cy="553.9" r="1.55"/><circle cx="525.8" cy="553.3" r="1.55"/><circle cx="526.5" cy="552.3" r="1.55"/><circle cx="523.2" cy="555.4" r="1.55"/><circle cx="526.3" cy="552.9" r="1.55"/><circle cx="528.0" cy="555.4" r="1.55"/><circle cx="517.1" cy="549.1" r="1.55"/><circle cx="523.0" cy="555.6" r="1.55"/><circle cx="516.3" cy="553.1" r="1.55"/><circle cx="525.7" cy="555.0" r="1.55"/><circle cx="518.3" cy="553.1" r="1.55"/><circle cx="524.0" cy="549.7" r="1.55"/><circle cx="518.9" cy="553.6" r="1.55"/><circle cx="517.1" cy="552.5" r="1.55"/><circle cx="522.7" cy="558.2" r="1.55"/><circle cx="523.7" cy="548.4" r="1.55"/><circle cx="524.8" cy="552.7" r="1.55"/><circle cx="517.0" cy="548.2" r="1.55"/><circle cx="525.7" cy="555.5" r="1.55"/><circle cx="518.2" cy="548.8" r="1.55"/><circle cx="516.2" cy="549.0" r="1.55"/><circle cx="519.7" cy="550.1" r="1.55"/><circle cx="526.1" cy="550.9" r="1.55"/><circle cx="517.0" cy="552.2" r="1.55"/><circle cx="522.2" cy="555.5" r="1.55"/><circle cx="517.9" cy="550.2" r="1.55"/><circle cx="521.9" cy="551.4" r="1.55"/><circle cx="530.4" cy="555.3" r="1.55"/><circle cx="524.1" cy="557.5" r="1.55"/><circle cx="522.5" cy="553.0" r="1.55"/><circle cx="516.7" cy="550.7" r="1.55"/><circle cx="525.7" cy="549.9" r="1.55"/><circle cx="516.3" cy="553.3" r="1.55"/><circle cx="524.3" cy="556.1" r="1.55"/><circle cx="519.8" cy="552.1" r="1.55"/><circle cx="515.6" cy="551.8" r="1.55"/><circle cx="512.8" cy="547.2" r="1.55"/><circle cx="523.8" cy="557.0" r="1.55"/><circle cx="516.8" cy="544.3" r="1.55"/><circle cx="514.3" cy="547.7" r="1.55"/><circle cx="520.2" cy="554.2" r="1.55"/><circle cx="522.6" cy="550.3" r="1.55"/><circle cx="519.4" cy="552.2" r="1.55"/><circle cx="521.0" cy="553.4" r="1.55"/><circle cx="517.1" cy="554.3" r="1.55"/><circle cx="517.2" cy="553.3" r="1.55"/><circle cx="516.3" cy="550.4" r="1.55"/><circle cx="516.1" cy="546.5" r="1.55"/><circle cx="520.5" cy="544.9" r="1.55"/><circle cx="524.7" cy="556.0" r="1.55"/><circle cx="520.3" cy="547.7" r="1.55"/><circle cx="515.6" cy="546.0" r="1.55"/><circle cx="517.5" cy="553.1" r="1.55"/><circle cx="523.7" cy="550.1" r="1.55"/><circle cx="518.3" cy="554.5" r="1.55"/><circle cx="524.2" cy="557.4" r="1.55"/><circle cx="519.7" cy="553.6" r="1.55"/><circle cx="521.9" cy="549.8" r="1.55"/><circle cx="523.9" cy="550.7" r="1.55"/><circle cx="520.6" cy="557.3" r="1.55"/><circle cx="528.2" cy="558.8" r="1.55"/><circle cx="519.5" cy="553.2" r="1.55"/><circle cx="532.0" cy="559.3" r="1.55"/><circle cx="527.1" cy="558.7" r="1.55"/><circle cx="529.3" cy="554.2" r="1.55"/><circle cx="527.9" cy="556.6" r="1.55"/><circle cx="528.7" cy="561.6" r="1.55"/><circle cx="539.4" cy="560.9" r="1.55"/><circle cx="532.2" cy="562.9" r="1.55"/><circle cx="530.5" cy="560.0" r="1.55"/><circle cx="524.7" cy="556.9" r="1.55"/><circle cx="526.2" cy="555.4" r="1.55"/><circle cx="537.5" cy="558.6" r="1.55"/><circle cx="534.6" cy="559.5" r="1.55"/><circle cx="529.2" cy="559.3" r="1.55"/><circle cx="532.6" cy="562.0" r="1.55"/><circle cx="538.3" cy="559.7" r="1.55"/><circle cx="534.0" cy="557.4" r="1.55"/><circle cx="540.4" cy="563.0" r="1.55"/><circle cx="528.6" cy="556.3" r="1.55"/><circle cx="525.2" cy="560.0" r="1.55"/><circle cx="530.1" cy="560.6" r="1.55"/><circle cx="536.4" cy="557.9" r="1.55"/><circle cx="530.1" cy="559.9" r="1.55"/><circle cx="532.5" cy="558.2" r="1.55"/><circle cx="526.6" cy="555.9" r="1.55"/><circle cx="534.7" cy="562.4" r="1.55"/><circle cx="538.4" cy="558.1" r="1.55"/><circle cx="525.7" cy="559.9" r="1.55"/><circle cx="525.8" cy="556.3" r="1.55"/><circle cx="536.4" cy="557.5" r="1.55"/><circle cx="529.7" cy="554.8" r="1.55"/><circle cx="532.2" cy="557.7" r="1.55"/><circle cx="533.2" cy="560.4" r="1.55"/><circle cx="529.3" cy="562.2" r="1.55"/><circle cx="527.4" cy="558.9" r="1.55"/><circle cx="534.7" cy="566.7" r="1.55"/><circle cx="531.0" cy="557.8" r="1.55"/><circle cx="533.5" cy="556.6" r="1.55"/><circle cx="534.5" cy="562.6" r="1.55"/><circle cx="538.5" cy="563.6" r="1.55"/><circle cx="532.8" cy="555.4" r="1.55"/><circle cx="537.7" cy="559.8" r="1.55"/><circle cx="535.7" cy="563.4" r="1.55"/><circle cx="539.6" cy="560.0" r="1.55"/><circle cx="532.3" cy="561.6" r="1.55"/><circle cx="530.1" cy="558.4" r="1.55"/><circle cx="539.2" cy="560.9" r="1.55"/><circle cx="529.4" cy="561.6" r="1.55"/><circle cx="538.5" cy="560.5" r="1.55"/><circle cx="532.0" cy="559.7" r="1.55"/><circle cx="529.7" cy="560.0" r="1.55"/><circle cx="526.9" cy="558.5" r="1.55"/><circle cx="530.8" cy="564.7" r="1.55"/><circle cx="530.6" cy="560.5" r="1.55"/><circle cx="532.2" cy="563.3" r="1.55"/><circle cx="533.9" cy="559.2" r="1.55"/><circle cx="526.2" cy="556.5" r="1.55"/><circle cx="538.8" cy="563.1" r="1.55"/><circle cx="539.1" cy="560.5" r="1.55"/><circle cx="547.2" cy="567.4" r="1.55"/><circle cx="543.8" cy="563.7" r="1.55"/><circle cx="545.8" cy="568.9" r="1.55"/><circle cx="543.9" cy="563.8" r="1.55"/><circle cx="537.7" cy="563.3" r="1.55"/><circle cx="546.0" cy="567.4" r="1.55"/><circle cx="538.1" cy="568.3" r="1.55"/><circle cx="544.8" cy="563.3" r="1.55"/><circle cx="538.4" cy="561.7" r="1.55"/><circle cx="535.0" cy="565.5" r="1.55"/><circle cx="543.3" cy="565.5" r="1.55"/><circle cx="537.0" cy="561.2" r="1.55"/><circle cx="541.1" cy="567.2" r="1.55"/><circle cx="548.7" cy="563.2" r="1.55"/><circle cx="539.2" cy="565.7" r="1.55"/><circle cx="546.1" cy="565.4" r="1.55"/><circle cx="542.4" cy="563.7" r="1.55"/><circle cx="537.5" cy="567.9" r="1.55"/><circle cx="539.5" cy="562.3" r="1.55"/><circle cx="545.8" cy="568.6" r="1.55"/><circle cx="547.2" cy="563.4" r="1.55"/><circle cx="543.5" cy="569.1" r="1.55"/><circle cx="548.3" cy="566.2" r="1.55"/><circle cx="538.4" cy="559.6" r="1.55"/><circle cx="540.2" cy="560.6" r="1.55"/><circle cx="537.5" cy="563.3" r="1.55"/><circle cx="543.2" cy="562.2" r="1.55"/><circle cx="548.8" cy="564.5" r="1.55"/><circle cx="542.1" cy="562.1" r="1.55"/><circle cx="539.5" cy="562.1" r="1.55"/><circle cx="540.1" cy="560.7" r="1.55"/><circle cx="544.7" cy="568.4" r="1.55"/><circle cx="549.1" cy="566.9" r="1.55"/><circle cx="538.3" cy="565.9" r="1.55"/><circle cx="545.4" cy="567.1" r="1.55"/><circle cx="540.4" cy="566.1" r="1.55"/><circle cx="550.8" cy="566.6" r="1.55"/><circle cx="539.8" cy="567.0" r="1.55"/><circle cx="536.0" cy="564.6" r="1.55"/><circle cx="540.8" cy="566.8" r="1.55"/><circle cx="549.0" cy="565.1" r="1.55"/><circle cx="545.1" cy="567.2" r="1.55"/><circle cx="545.8" cy="562.7" r="1.55"/><circle cx="539.5" cy="560.1" r="1.55"/><circle cx="539.2" cy="568.0" r="1.55"/><circle cx="544.8" cy="566.0" r="1.55"/><circle cx="542.9" cy="568.4" r="1.55"/><circle cx="531.3" cy="549.0" r="1.55"/><circle cx="531.9" cy="552.4" r="1.55"/><circle cx="532.1" cy="552.1" r="1.55"/><circle cx="533.7" cy="552.8" r="1.55"/><circle cx="532.1" cy="554.0" r="1.55"/><circle cx="529.3" cy="548.6" r="1.55"/><circle cx="530.6" cy="546.1" r="1.55"/><circle cx="532.4" cy="557.1" r="1.55"/><circle cx="532.2" cy="544.9" r="1.55"/><circle cx="531.1" cy="555.5" r="1.55"/><circle cx="532.9" cy="550.8" r="1.55"/><circle cx="530.4" cy="554.3" r="1.55"/><circle cx="534.1" cy="552.9" r="1.55"/><circle cx="531.0" cy="549.0" r="1.55"/><circle cx="529.7" cy="551.9" r="1.55"/><circle cx="531.0" cy="547.4" r="1.55"/><circle cx="533.1" cy="555.8" r="1.55"/><circle cx="532.1" cy="558.4" r="1.55"/><circle cx="530.8" cy="554.7" r="1.55"/><circle cx="530.1" cy="546.7" r="1.55"/><circle cx="531.5" cy="559.4" r="1.55"/><circle cx="533.7" cy="558.4" r="1.55"/><circle cx="535.2" cy="560.0" r="1.55"/><circle cx="532.8" cy="558.6" r="1.55"/><circle cx="530.2" cy="554.0" r="1.55"/><circle cx="530.6" cy="550.2" r="1.55"/><circle cx="528.8" cy="544.0" r="1.55"/><circle cx="531.4" cy="557.3" r="1.55"/><circle cx="531.4" cy="549.7" r="1.55"/><circle cx="531.0" cy="545.9" r="1.55"/><circle cx="531.1" cy="550.6" r="1.55"/><circle cx="540.3" cy="554.9" r="1.55"/><circle cx="538.3" cy="559.2" r="1.55"/><circle cx="534.1" cy="557.1" r="1.55"/><circle cx="535.6" cy="556.8" r="1.55"/><circle cx="536.6" cy="560.4" r="1.55"/><circle cx="534.8" cy="558.2" r="1.55"/><circle cx="545.8" cy="552.4" r="1.55"/><circle cx="541.6" cy="555.0" r="1.55"/><circle cx="539.7" cy="556.4" r="1.55"/><circle cx="539.9" cy="557.9" r="1.55"/><circle cx="543.2" cy="553.7" r="1.55"/><circle cx="534.6" cy="560.4" r="1.55"/><circle cx="542.1" cy="557.8" r="1.55"/><circle cx="539.4" cy="557.2" r="1.55"/><circle cx="539.0" cy="554.5" r="1.55"/><circle cx="537.0" cy="558.5" r="1.55"/><circle cx="540.0" cy="554.8" r="1.55"/><circle cx="538.1" cy="558.6" r="1.55"/><circle cx="544.3" cy="553.9" r="1.55"/><circle cx="540.0" cy="555.5" r="1.55"/><circle cx="545.0" cy="555.9" r="1.55"/><circle cx="543.4" cy="553.6" r="1.55"/><circle cx="536.7" cy="556.9" r="1.55"/><circle cx="542.2" cy="553.3" r="1.55"/><circle cx="533.7" cy="559.2" r="1.55"/><circle cx="543.6" cy="555.0" r="1.55"/><circle cx="542.8" cy="555.0" r="1.55"/><circle cx="544.1" cy="555.7" r="1.55"/><circle cx="536.2" cy="557.2" r="1.55"/><circle cx="537.3" cy="555.0" r="1.55"/><circle cx="535.1" cy="557.4" r="1.55"/><circle cx="544.6" cy="551.8" r="1.55"/><circle cx="543.4" cy="557.0" r="1.55"/><circle cx="533.0" cy="557.6" r="1.55"/><circle cx="496.0" cy="572.3" r="1.55"/><circle cx="501.3" cy="576.8" r="1.55"/><circle cx="504.3" cy="574.7" r="1.55"/><circle cx="504.5" cy="572.4" r="1.55"/><circle cx="504.4" cy="578.4" r="1.55"/><circle cx="504.3" cy="577.5" r="1.55"/><circle cx="500.7" cy="568.7" r="1.55"/><circle cx="498.4" cy="569.7" r="1.55"/><circle cx="505.2" cy="574.6" r="1.55"/><circle cx="500.3" cy="575.2" r="1.55"/><circle cx="494.5" cy="571.8" r="1.55"/><circle cx="499.9" cy="569.7" r="1.55"/><circle cx="503.7" cy="573.6" r="1.55"/><circle cx="505.0" cy="573.5" r="1.55"/><circle cx="500.6" cy="576.6" r="1.55"/><circle cx="497.6" cy="572.8" r="1.55"/><circle cx="502.3" cy="574.3" r="1.55"/><circle cx="499.8" cy="574.1" r="1.55"/><circle cx="500.3" cy="575.3" r="1.55"/><circle cx="503.4" cy="575.9" r="1.55"/><circle cx="502.6" cy="576.7" r="1.55"/><circle cx="503.7" cy="575.3" r="1.55"/><circle cx="496.0" cy="569.9" r="1.55"/><circle cx="504.2" cy="574.4" r="1.55"/><circle cx="501.9" cy="573.8" r="1.55"/><circle cx="503.5" cy="572.3" r="1.55"/><circle cx="505.2" cy="578.0" r="1.55"/><circle cx="502.7" cy="577.3" r="1.55"/><circle cx="499.3" cy="572.0" r="1.55"/><circle cx="495.2" cy="569.0" r="1.55"/><circle cx="503.6" cy="577.0" r="1.55"/><circle cx="497.1" cy="572.1" r="1.55"/><circle cx="495.5" cy="571.0" r="1.55"/><circle cx="502.7" cy="576.4" r="1.55"/><circle cx="496.8" cy="570.9" r="1.55"/><circle cx="507.2" cy="574.2" r="1.55"/><circle cx="501.7" cy="570.3" r="1.55"/><circle cx="504.9" cy="575.1" r="1.55"/><circle cx="505.5" cy="574.0" r="1.55"/><circle cx="511.5" cy="581.4" r="1.55"/><circle cx="508.1" cy="579.3" r="1.55"/><circle cx="507.7" cy="579.1" r="1.55"/><circle cx="513.2" cy="586.2" r="1.55"/><circle cx="512.9" cy="582.8" r="1.55"/><circle cx="510.0" cy="582.7" r="1.55"/><circle cx="506.0" cy="577.3" r="1.55"/><circle cx="506.0" cy="580.4" r="1.55"/><circle cx="505.8" cy="580.5" r="1.55"/><circle cx="512.4" cy="584.4" r="1.55"/><circle cx="509.6" cy="584.0" r="1.55"/><circle cx="511.3" cy="580.7" r="1.55"/><circle cx="507.8" cy="587.3" r="1.55"/><circle cx="510.4" cy="579.7" r="1.55"/><circle cx="508.4" cy="587.9" r="1.55"/><circle cx="515.4" cy="585.2" r="1.55"/><circle cx="506.2" cy="584.0" r="1.55"/><circle cx="508.9" cy="584.2" r="1.55"/><circle cx="504.8" cy="576.8" r="1.55"/><circle cx="509.7" cy="585.5" r="1.55"/><circle cx="505.1" cy="581.7" r="1.55"/><circle cx="512.2" cy="586.0" r="1.55"/><circle cx="502.9" cy="579.0" r="1.55"/><circle cx="507.5" cy="580.2" r="1.55"/><circle cx="504.3" cy="578.0" r="1.55"/><circle cx="506.8" cy="584.0" r="1.55"/><circle cx="508.7" cy="585.4" r="1.55"/><circle cx="511.3" cy="586.1" r="1.55"/><circle cx="504.8" cy="581.2" r="1.55"/><circle cx="514.6" cy="585.8" r="1.55"/><circle cx="506.2" cy="584.1" r="1.55"/><circle cx="512.8" cy="583.8" r="1.55"/><circle cx="508.0" cy="586.8" r="1.55"/><circle cx="512.3" cy="583.5" r="1.55"/><circle cx="508.1" cy="583.2" r="1.55"/><circle cx="510.6" cy="582.0" r="1.55"/><circle cx="506.4" cy="581.5" r="1.55"/><circle cx="505.9" cy="583.0" r="1.55"/><circle cx="504.2" cy="580.8" r="1.55"/><circle cx="513.5" cy="586.4" r="1.55"/><circle cx="514.7" cy="587.2" r="1.55"/><circle cx="510.3" cy="585.7" r="1.55"/><circle cx="514.5" cy="589.2" r="1.55"/><circle cx="510.3" cy="579.7" r="1.55"/><circle cx="527.4" cy="588.7" r="1.55"/><circle cx="521.1" cy="584.9" r="1.55"/><circle cx="522.5" cy="584.2" r="1.55"/><circle cx="519.1" cy="585.4" r="1.55"/><circle cx="522.0" cy="582.6" r="1.55"/><circle cx="520.1" cy="587.3" r="1.55"/><circle cx="520.4" cy="581.7" r="1.55"/><circle cx="525.2" cy="589.8" r="1.55"/><circle cx="522.7" cy="584.3" r="1.55"/><circle cx="522.0" cy="586.7" r="1.55"/><circle cx="521.5" cy="585.0" r="1.55"/><circle cx="526.0" cy="587.9" r="1.55"/><circle cx="529.0" cy="591.5" r="1.55"/><circle cx="524.0" cy="588.8" r="1.55"/><circle cx="524.2" cy="584.9" r="1.55"/><circle cx="523.4" cy="584.1" r="1.55"/><circle cx="523.5" cy="581.8" r="1.55"/><circle cx="518.2" cy="583.6" r="1.55"/><circle cx="522.3" cy="585.3" r="1.55"/><circle cx="518.8" cy="581.9" r="1.55"/><circle cx="525.4" cy="590.5" r="1.55"/><circle cx="524.6" cy="587.6" r="1.55"/><circle cx="526.7" cy="590.8" r="1.55"/><circle cx="527.7" cy="589.2" r="1.55"/><circle cx="526.1" cy="588.7" r="1.55"/><circle cx="525.9" cy="586.7" r="1.55"/><circle cx="522.6" cy="589.8" r="1.55"/><circle cx="525.4" cy="584.1" r="1.55"/><circle cx="523.3" cy="583.3" r="1.55"/><circle cx="526.8" cy="584.8" r="1.55"/><circle cx="525.4" cy="589.1" r="1.55"/><circle cx="526.4" cy="590.8" r="1.55"/><circle cx="522.0" cy="588.9" r="1.55"/><circle cx="517.7" cy="583.6" r="1.55"/><circle cx="519.4" cy="585.2" r="1.55"/><circle cx="521.9" cy="585.0" r="1.55"/><circle cx="526.2" cy="589.2" r="1.55"/><circle cx="521.8" cy="588.7" r="1.55"/><circle cx="524.4" cy="589.4" r="1.55"/><circle cx="522.2" cy="584.3" r="1.55"/><circle cx="526.8" cy="588.1" r="1.55"/><circle cx="525.9" cy="590.3" r="1.55"/><circle cx="521.3" cy="580.2" r="1.55"/><circle cx="530.9" cy="596.3" r="1.55"/><circle cx="528.7" cy="595.2" r="1.55"/><circle cx="529.8" cy="592.2" r="1.55"/><circle cx="538.8" cy="602.0" r="1.55"/><circle cx="530.5" cy="600.5" r="1.55"/><circle cx="533.2" cy="599.3" r="1.55"/><circle cx="534.8" cy="603.9" r="1.55"/><circle cx="536.3" cy="600.6" r="1.55"/><circle cx="531.9" cy="593.3" r="1.55"/><circle cx="529.4" cy="590.2" r="1.55"/><circle cx="531.7" cy="593.6" r="1.55"/><circle cx="533.5" cy="600.1" r="1.55"/><circle cx="533.1" cy="592.1" r="1.55"/><circle cx="532.2" cy="595.9" r="1.55"/><circle cx="531.1" cy="601.0" r="1.55"/><circle cx="531.8" cy="598.2" r="1.55"/><circle cx="537.3" cy="602.1" r="1.55"/><circle cx="527.4" cy="595.2" r="1.55"/><circle cx="533.6" cy="602.2" r="1.55"/><circle cx="538.1" cy="603.4" r="1.55"/><circle cx="531.9" cy="600.7" r="1.55"/><circle cx="535.1" cy="606.7" r="1.55"/><circle cx="534.6" cy="600.3" r="1.55"/><circle cx="533.5" cy="601.7" r="1.55"/><circle cx="536.0" cy="606.2" r="1.55"/><circle cx="532.5" cy="596.6" r="1.55"/><circle cx="531.7" cy="597.3" r="1.55"/><circle cx="529.2" cy="596.4" r="1.55"/><circle cx="532.8" cy="596.0" r="1.55"/><circle cx="535.1" cy="597.6" r="1.55"/><circle cx="535.9" cy="602.2" r="1.55"/><circle cx="533.1" cy="598.2" r="1.55"/><circle cx="533.0" cy="595.2" r="1.55"/><circle cx="534.2" cy="599.8" r="1.55"/><circle cx="527.6" cy="594.8" r="1.55"/><circle cx="532.0" cy="599.3" r="1.55"/><circle cx="533.8" cy="599.5" r="1.55"/><circle cx="531.1" cy="598.8" r="1.55"/><circle cx="532.1" cy="597.5" r="1.55"/><circle cx="533.2" cy="597.8" r="1.55"/><circle cx="536.0" cy="603.2" r="1.55"/><circle cx="536.5" cy="598.2" r="1.55"/><circle cx="533.4" cy="599.1" r="1.55"/><circle cx="530.3" cy="589.3" r="1.55"/><circle cx="534.2" cy="599.6" r="1.55"/><circle cx="534.0" cy="599.2" r="1.55"/><circle cx="536.0" cy="599.9" r="1.55"/><circle cx="532.8" cy="594.5" r="1.55"/><circle cx="529.5" cy="592.7" r="1.55"/><circle cx="540.0" cy="603.2" r="1.55"/><circle cx="534.4" cy="601.2" r="1.55"/><circle cx="531.9" cy="602.2" r="1.55"/><circle cx="527.2" cy="592.6" r="1.55"/><circle cx="531.5" cy="593.9" r="1.55"/><circle cx="535.8" cy="600.8" r="1.55"/><circle cx="529.8" cy="594.5" r="1.55"/><circle cx="536.7" cy="599.4" r="1.55"/><circle cx="485.5" cy="592.9" r="1.55"/><circle cx="484.8" cy="596.4" r="1.55"/><circle cx="482.1" cy="594.7" r="1.55"/><circle cx="487.0" cy="596.8" r="1.55"/><circle cx="483.8" cy="588.9" r="1.55"/><circle cx="487.4" cy="604.2" r="1.55"/><circle cx="482.8" cy="594.7" r="1.55"/><circle cx="481.6" cy="594.8" r="1.55"/><circle cx="481.7" cy="593.1" r="1.55"/><circle cx="482.5" cy="591.9" r="1.55"/><circle cx="483.0" cy="593.5" r="1.55"/><circle cx="487.6" cy="598.8" r="1.55"/><circle cx="483.6" cy="591.7" r="1.55"/><circle cx="482.5" cy="596.5" r="1.55"/><circle cx="483.8" cy="594.8" r="1.55"/><circle cx="486.9" cy="601.1" r="1.55"/><circle cx="482.3" cy="596.6" r="1.55"/><circle cx="484.9" cy="599.6" r="1.55"/><circle cx="484.3" cy="593.7" r="1.55"/><circle cx="487.1" cy="598.7" r="1.55"/><circle cx="484.5" cy="592.2" r="1.55"/><circle cx="484.6" cy="595.0" r="1.55"/><circle cx="484.7" cy="596.8" r="1.55"/><circle cx="488.7" cy="600.2" r="1.55"/><circle cx="483.8" cy="601.9" r="1.55"/><circle cx="486.9" cy="597.7" r="1.55"/><circle cx="486.6" cy="602.2" r="1.55"/><circle cx="486.0" cy="598.3" r="1.55"/><circle cx="481.8" cy="594.7" r="1.55"/><circle cx="485.8" cy="601.8" r="1.55"/><circle cx="484.8" cy="597.4" r="1.55"/><circle cx="482.2" cy="593.2" r="1.55"/><circle cx="484.1" cy="596.8" r="1.55"/><circle cx="487.2" cy="600.2" r="1.55"/><circle cx="484.3" cy="593.8" r="1.55"/><circle cx="483.8" cy="605.4" r="1.55"/><circle cx="483.4" cy="601.7" r="1.55"/><circle cx="481.7" cy="609.1" r="1.55"/><circle cx="482.2" cy="609.2" r="1.55"/><circle cx="484.4" cy="607.3" r="1.55"/><circle cx="482.9" cy="608.9" r="1.55"/><circle cx="487.7" cy="606.2" r="1.55"/><circle cx="481.6" cy="608.6" r="1.55"/><circle cx="482.9" cy="610.6" r="1.55"/><circle cx="484.5" cy="610.2" r="1.55"/><circle cx="486.8" cy="599.8" r="1.55"/><circle cx="486.0" cy="602.6" r="1.55"/><circle cx="484.4" cy="602.5" r="1.55"/><circle cx="483.0" cy="607.7" r="1.55"/><circle cx="484.7" cy="608.7" r="1.55"/><circle cx="486.3" cy="602.6" r="1.55"/><circle cx="484.3" cy="602.7" r="1.55"/><circle cx="483.0" cy="608.9" r="1.55"/><circle cx="484.6" cy="608.7" r="1.55"/><circle cx="484.3" cy="603.8" r="1.55"/><circle cx="482.1" cy="612.0" r="1.55"/><circle cx="485.9" cy="605.2" r="1.55"/><circle cx="485.6" cy="606.6" r="1.55"/><circle cx="486.5" cy="606.8" r="1.55"/><circle cx="486.7" cy="603.7" r="1.55"/><circle cx="485.4" cy="604.5" r="1.55"/><circle cx="486.1" cy="604.4" r="1.55"/><circle cx="483.3" cy="611.4" r="1.55"/><circle cx="486.6" cy="600.6" r="1.55"/><circle cx="482.3" cy="612.6" r="1.55"/><circle cx="485.7" cy="601.2" r="1.55"/><circle cx="485.4" cy="609.7" r="1.55"/><circle cx="487.7" cy="600.1" r="1.55"/><circle cx="481.5" cy="607.1" r="1.55"/><circle cx="488.1" cy="605.7" r="1.55"/><circle cx="497.5" cy="601.6" r="1.55"/><circle cx="498.7" cy="602.2" r="1.55"/><circle cx="499.6" cy="601.3" r="1.55"/><circle cx="503.7" cy="603.4" r="1.55"/><circle cx="496.5" cy="600.2" r="1.55"/><circle cx="499.8" cy="595.2" r="1.55"/><circle cx="503.2" cy="599.0" r="1.55"/><circle cx="501.7" cy="600.3" r="1.55"/><circle cx="500.1" cy="602.1" r="1.55"/><circle cx="501.2" cy="602.7" r="1.55"/><circle cx="497.2" cy="594.5" r="1.55"/><circle cx="497.0" cy="595.3" r="1.55"/><circle cx="501.9" cy="602.5" r="1.55"/><circle cx="499.5" cy="598.5" r="1.55"/><circle cx="500.3" cy="598.1" r="1.55"/><circle cx="499.6" cy="597.9" r="1.55"/><circle cx="502.6" cy="600.3" r="1.55"/><circle cx="495.8" cy="598.6" r="1.55"/><circle cx="501.4" cy="597.0" r="1.55"/><circle cx="502.4" cy="601.1" r="1.55"/><circle cx="499.4" cy="597.7" r="1.55"/><circle cx="500.1" cy="600.8" r="1.55"/><circle cx="506.0" cy="602.2" r="1.55"/><circle cx="504.1" cy="610.4" r="1.55"/><circle cx="503.5" cy="609.6" r="1.55"/><circle cx="505.2" cy="608.4" r="1.55"/><circle cx="504.5" cy="606.0" r="1.55"/><circle cx="505.2" cy="605.5" r="1.55"/><circle cx="505.5" cy="608.9" r="1.55"/><circle cx="500.5" cy="602.1" r="1.55"/><circle cx="506.7" cy="605.8" r="1.55"/><circle cx="507.2" cy="609.4" r="1.55"/><circle cx="504.4" cy="601.0" r="1.55"/><circle cx="502.0" cy="605.2" r="1.55"/><circle cx="503.3" cy="606.8" r="1.55"/><circle cx="501.7" cy="604.8" r="1.55"/><circle cx="499.8" cy="601.8" r="1.55"/><circle cx="501.5" cy="600.2" r="1.55"/><circle cx="504.5" cy="603.3" r="1.55"/><circle cx="506.6" cy="608.5" r="1.55"/><circle cx="503.7" cy="604.0" r="1.55"/><circle cx="505.5" cy="606.4" r="1.55"/><circle cx="502.9" cy="604.4" r="1.55"/><circle cx="504.5" cy="599.5" r="1.55"/><circle cx="505.7" cy="605.9" r="1.55"/><circle cx="503.6" cy="616.7" r="1.55"/><circle cx="501.5" cy="617.9" r="1.55"/><circle cx="508.0" cy="616.1" r="1.55"/><circle cx="510.4" cy="618.0" r="1.55"/><circle cx="509.8" cy="618.6" r="1.55"/><circle cx="500.1" cy="616.4" r="1.55"/><circle cx="502.0" cy="615.8" r="1.55"/><circle cx="509.0" cy="617.5" r="1.55"/><circle cx="507.5" cy="617.1" r="1.55"/><circle cx="500.8" cy="616.9" r="1.55"/><circle cx="501.4" cy="615.6" r="1.55"/><circle cx="503.9" cy="616.8" r="1.55"/><circle cx="509.5" cy="616.7" r="1.55"/><circle cx="507.8" cy="615.8" r="1.55"/><circle cx="508.7" cy="617.5" r="1.55"/><circle cx="503.3" cy="618.2" r="1.55"/><circle cx="512.1" cy="617.8" r="1.55"/><circle cx="505.0" cy="616.9" r="1.55"/><circle cx="513.1" cy="615.3" r="1.55"/><circle cx="512.2" cy="616.0" r="1.55"/><circle cx="509.3" cy="616.6" r="1.55"/><circle cx="502.0" cy="618.0" r="1.55"/><circle cx="498.8" cy="614.1" r="1.55"/><circle cx="499.1" cy="616.7" r="1.55"/><circle cx="507.9" cy="618.0" r="1.55"/><circle cx="508.2" cy="618.3" r="1.55"/><circle cx="499.7" cy="616.6" r="1.55"/><circle cx="499.7" cy="615.9" r="1.55"/><circle cx="506.6" cy="615.5" r="1.55"/><circle cx="500.1" cy="614.6" r="1.55"/><circle cx="501.6" cy="613.9" r="1.55"/><circle cx="504.8" cy="616.4" r="1.55"/><circle cx="498.8" cy="616.6" r="1.55"/><circle cx="507.0" cy="617.4" r="1.55"/><circle cx="504.6" cy="616.4" r="1.55"/><circle cx="503.0" cy="614.2" r="1.55"/><circle cx="507.5" cy="616.7" r="1.55"/><circle cx="506.4" cy="617.7" r="1.55"/><circle cx="511.9" cy="615.5" r="1.55"/><circle cx="509.5" cy="615.8" r="1.55"/><circle cx="508.2" cy="616.0" r="1.55"/><circle cx="502.4" cy="616.8" r="1.55"/><circle cx="525.2" cy="613.3" r="1.55"/><circle cx="520.7" cy="616.8" r="1.55"/><circle cx="522.4" cy="612.9" r="1.55"/><circle cx="518.6" cy="616.6" r="1.55"/><circle cx="512.6" cy="618.8" r="1.55"/><circle cx="525.4" cy="616.3" r="1.55"/><circle cx="516.1" cy="617.7" r="1.55"/><circle cx="518.6" cy="614.5" r="1.55"/><circle cx="516.4" cy="617.1" r="1.55"/><circle cx="516.5" cy="615.7" r="1.55"/><circle cx="520.6" cy="617.0" r="1.55"/><circle cx="512.3" cy="615.7" r="1.55"/><circle cx="524.7" cy="615.3" r="1.55"/><circle cx="519.7" cy="617.5" r="1.55"/><circle cx="522.8" cy="613.6" r="1.55"/><circle cx="522.3" cy="616.7" r="1.55"/><circle cx="514.7" cy="615.2" r="1.55"/><circle cx="523.7" cy="612.9" r="1.55"/><circle cx="516.2" cy="616.8" r="1.55"/><circle cx="515.3" cy="614.6" r="1.55"/><circle cx="517.2" cy="616.8" r="1.55"/><circle cx="513.6" cy="618.0" r="1.55"/><circle cx="516.2" cy="615.9" r="1.55"/><circle cx="519.2" cy="617.0" r="1.55"/><circle cx="514.2" cy="619.2" r="1.55"/><circle cx="519.6" cy="614.0" r="1.55"/><circle cx="521.2" cy="615.7" r="1.55"/><circle cx="520.5" cy="615.7" r="1.55"/><circle cx="522.9" cy="612.9" r="1.55"/><circle cx="517.4" cy="618.3" r="1.55"/><circle cx="514.6" cy="619.0" r="1.55"/><circle cx="522.4" cy="612.8" r="1.55"/><circle cx="515.0" cy="617.8" r="1.55"/><circle cx="526.0" cy="613.7" r="1.55"/><circle cx="521.6" cy="616.0" r="1.55"/><circle cx="522.9" cy="614.9" r="1.55"/><circle cx="515.5" cy="614.9" r="1.55"/><circle cx="513.1" cy="618.0" r="1.55"/><circle cx="519.9" cy="617.0" r="1.55"/><circle cx="516.7" cy="616.8" r="1.55"/><circle cx="512.9" cy="616.4" r="1.55"/><circle cx="521.6" cy="613.7" r="1.55"/><circle cx="518.7" cy="614.3" r="1.55"/><circle cx="565.0" cy="576.6" r="1.55"/><circle cx="566.9" cy="575.3" r="1.55"/><circle cx="560.7" cy="575.3" r="1.55"/><circle cx="561.9" cy="575.9" r="1.55"/><circle cx="563.5" cy="576.0" r="1.55"/><circle cx="558.5" cy="573.2" r="1.55"/><circle cx="565.7" cy="576.6" r="1.55"/><circle cx="562.0" cy="574.0" r="1.55"/><circle cx="567.0" cy="577.5" r="1.55"/><circle cx="564.5" cy="574.2" r="1.55"/><circle cx="560.9" cy="573.8" r="1.55"/><circle cx="566.6" cy="574.3" r="1.55"/><circle cx="567.1" cy="575.5" r="1.55"/><circle cx="567.6" cy="575.6" r="1.55"/><circle cx="565.2" cy="575.7" r="1.55"/><circle cx="560.9" cy="574.0" r="1.55"/><circle cx="559.8" cy="573.7" r="1.55"/><circle cx="563.9" cy="573.7" r="1.55"/><circle cx="559.7" cy="573.7" r="1.55"/><circle cx="562.4" cy="574.7" r="1.55"/><circle cx="562.4" cy="575.2" r="1.55"/><circle cx="564.7" cy="576.1" r="1.55"/><circle cx="565.4" cy="602.9" r="1.55"/><circle cx="569.5" cy="607.6" r="1.55"/><circle cx="565.1" cy="604.7" r="1.55"/><circle cx="565.9" cy="605.4" r="1.55"/><circle cx="565.4" cy="605.1" r="1.55"/><circle cx="566.2" cy="601.2" r="1.55"/><circle cx="565.6" cy="602.7" r="1.55"/><circle cx="566.7" cy="602.9" r="1.55"/><circle cx="566.9" cy="602.8" r="1.55"/><circle cx="568.3" cy="607.2" r="1.55"/><circle cx="567.2" cy="604.0" r="1.55"/><circle cx="566.2" cy="604.1" r="1.55"/><circle cx="569.7" cy="607.3" r="1.55"/><circle cx="567.0" cy="603.0" r="1.55"/><circle cx="565.5" cy="605.4" r="1.55"/><circle cx="474.2" cy="616.1" r="1.55"/><circle cx="477.0" cy="617.8" r="1.55"/><circle cx="476.2" cy="617.4" r="1.55"/><circle cx="475.5" cy="618.2" r="1.55"/><circle cx="472.2" cy="615.7" r="1.55"/><circle cx="474.0" cy="616.4" r="1.55"/><circle cx="476.6" cy="619.4" r="1.55"/><circle cx="476.2" cy="618.9" r="1.55"/><circle cx="471.9" cy="615.1" r="1.55"/><circle cx="518.4" cy="601.5" r="1.55"/><circle cx="513.9" cy="598.0" r="1.55"/><circle cx="514.5" cy="596.7" r="1.55"/><circle cx="517.1" cy="599.6" r="1.55"/><circle cx="517.0" cy="601.1" r="1.55"/><circle cx="513.7" cy="596.1" r="1.55"/><circle cx="514.9" cy="598.3" r="1.55"/><circle cx="514.6" cy="597.6" r="1.55"/><circle cx="515.3" cy="598.6" r="1.55"/><circle cx="514.4" cy="597.9" r="1.55"/><circle cx="549.9" cy="543.4" r="1.55"/><circle cx="550.6" cy="544.8" r="1.55"/><circle cx="549.3" cy="543.4" r="1.55"/><circle cx="547.5" cy="543.1" r="1.55"/><circle cx="547.5" cy="541.4" r="1.55"/><circle cx="542.0" cy="538.8" r="1.55"/><circle cx="542.7" cy="539.5" r="1.55"/><circle cx="551.0" cy="544.2" r="1.55"/><circle cx="549.4" cy="545.5" r="1.55"/><circle cx="549.5" cy="543.1" r="1.55"/><circle cx="543.6" cy="540.2" r="1.55"/><circle cx="549.2" cy="545.4" r="1.55"/><circle cx="547.5" cy="541.0" r="1.55"/><circle cx="552.9" cy="552.6" r="1.55"/><circle cx="513.0" cy="547.6" r="1.55"/><circle cx="488.4" cy="547.5" r="1.55"/><circle cx="491.4" cy="547.1" r="1.55"/><circle cx="541.4" cy="618.9" r="1.55"/><circle cx="541.2" cy="609.6" r="1.55"/><circle cx="532.1" cy="579.9" r="1.55"/><circle cx="512.3" cy="541.6" r="1.55"/><circle cx="544.6" cy="550.1" r="1.55"/><circle cx="559.0" cy="560.7" r="1.55"/><circle cx="514.8" cy="590.9" r="1.55"/><circle cx="512.8" cy="575.3" r="1.55"/><circle cx="570.3" cy="606.2" r="1.55"/><circle cx="482.6" cy="594.0" r="1.55"/><circle cx="543.2" cy="563.2" r="1.55"/><circle cx="477.5" cy="584.0" r="1.55"/><circle cx="506.2" cy="574.8" r="1.55"/><circle cx="534.7" cy="546.3" r="1.55"/><circle cx="526.9" cy="609.1" r="1.55"/><circle cx="549.5" cy="598.2" r="1.55"/><circle cx="484.0" cy="565.0" r="1.55"/><circle cx="500.1" cy="620.8" r="1.55"/><circle cx="555.1" cy="585.3" r="1.55"/><circle cx="489.8" cy="597.2" r="1.55"/><circle cx="562.9" cy="619.2" r="1.55"/><circle cx="560.7" cy="559.5" r="1.55"/><circle cx="568.7" cy="597.4" r="1.55"/><circle cx="549.6" cy="551.3" r="1.55"/><circle cx="563.7" cy="613.8" r="1.55"/><circle cx="537.0" cy="595.5" r="1.55"/><circle cx="525.1" cy="567.3" r="1.55"/><circle cx="550.9" cy="599.2" r="1.55"/><circle cx="539.3" cy="587.8" r="1.55"/><circle cx="551.0" cy="575.8" r="1.55"/><circle cx="546.6" cy="597.7" r="1.55"/><circle cx="561.8" cy="573.6" r="1.55"/><circle cx="565.5" cy="557.0" r="1.55"/><circle cx="520.0" cy="580.9" r="1.55"/><circle cx="565.2" cy="594.2" r="1.55"/><circle cx="499.4" cy="552.8" r="1.55"/></g>
<rect x="557.60" y="614.90" width="8.50" height="2.60" fill="#fff" stroke="#222" stroke-width="0.4"/>
</g></g>
<rect x="574.20" y="452.60" width="104.90" height="83.90" fill="#020402" />
<circle cx="592.8" cy="509.7" r="0.81" fill="#2c9a1a" />
<circle cx="598.0" cy="517.9" r="0.83" fill="#2c9a1a" />
<circle cx="627.2" cy="473.5" r="0.73" fill="#1d5e10" />
<circle cx="635.3" cy="460.1" r="0.62" fill="#2c9a1a" />
<circle cx="599.7" cy="458.0" r="1.00" fill="#4ade2e" />
<circle cx="664.5" cy="503.8" r="0.70" fill="#1d5e10" />
<circle cx="626.4" cy="463.9" r="0.73" fill="#4ade2e" />
<circle cx="591.8" cy="519.9" r="1.15" fill="#1d5e10" />
<circle cx="621.9" cy="498.7" r="0.81" fill="#1d5e10" />
<circle cx="595.1" cy="457.6" r="0.63" fill="#2c9a1a" />
<circle cx="654.9" cy="471.3" r="1.12" fill="#4ade2e" />
<circle cx="652.4" cy="515.5" r="1.00" fill="#2c9a1a" />
<circle cx="588.6" cy="492.7" r="0.60" fill="#2c9a1a" />
<circle cx="669.3" cy="525.5" r="0.72" fill="#1d5e10" />
<circle cx="621.7" cy="485.4" r="0.74" fill="#4ade2e" />
<circle cx="578.9" cy="462.1" r="1.19" fill="#2c9a1a" />
<circle cx="626.2" cy="493.9" r="1.01" fill="#2c9a1a" />
<circle cx="598.6" cy="503.3" r="0.92" fill="#2c9a1a" />
<circle cx="594.4" cy="468.2" r="1.15" fill="#1d5e10" />
<circle cx="611.2" cy="502.3" r="0.53" fill="#1d5e10" />
<circle cx="582.8" cy="519.6" r="0.73" fill="#2c9a1a" />
<circle cx="645.2" cy="508.6" r="1.17" fill="#4ade2e" />
<circle cx="617.3" cy="533.6" r="0.89" fill="#4ade2e" />
<circle cx="665.3" cy="493.8" r="0.64" fill="#1d5e10" />
<circle cx="664.6" cy="467.6" r="1.05" fill="#1d5e10" />
<circle cx="654.3" cy="493.2" r="0.49" fill="#2c9a1a" />
<circle cx="602.2" cy="477.8" r="0.58" fill="#1d5e10" />
<circle cx="583.2" cy="481.6" r="1.19" fill="#4ade2e" />
<circle cx="651.5" cy="492.9" r="1.17" fill="#1d5e10" />
<circle cx="629.2" cy="512.8" r="0.61" fill="#1d5e10" />
<circle cx="660.8" cy="518.1" r="0.90" fill="#4ade2e" />
<circle cx="619.2" cy="501.0" r="0.68" fill="#2c9a1a" />
<circle cx="630.1" cy="476.7" r="0.46" fill="#2c9a1a" />
<circle cx="645.3" cy="530.8" r="0.90" fill="#1d5e10" />
<circle cx="641.2" cy="522.6" r="0.64" fill="#2c9a1a" />
<circle cx="617.1" cy="531.2" r="0.55" fill="#4ade2e" />
<circle cx="585.8" cy="462.1" r="0.79" fill="#1d5e10" />
<circle cx="590.4" cy="523.9" r="0.54" fill="#2c9a1a" />
<circle cx="630.6" cy="480.5" r="0.61" fill="#1d5e10" />
<circle cx="593.0" cy="469.3" r="0.98" fill="#1d5e10" />
<circle cx="631.7" cy="458.3" r="1.11" fill="#2c9a1a" />
<circle cx="654.3" cy="517.8" r="0.80" fill="#1d5e10" />
<circle cx="582.6" cy="515.6" r="0.98" fill="#1d5e10" />
<circle cx="601.7" cy="510.3" r="0.48" fill="#1d5e10" />
<circle cx="615.4" cy="479.3" r="0.67" fill="#4ade2e" />
<circle cx="627.0" cy="498.5" r="0.52" fill="#4ade2e" />
<circle cx="636.9" cy="495.2" r="1.18" fill="#2c9a1a" />
<circle cx="607.5" cy="510.5" r="0.87" fill="#1d5e10" />
<circle cx="582.6" cy="519.7" r="0.72" fill="#4ade2e" />
<circle cx="608.3" cy="534.0" r="0.51" fill="#1d5e10" />
<circle cx="583.6" cy="519.7" r="0.79" fill="#2c9a1a" />
<circle cx="638.9" cy="456.2" r="0.78" fill="#2c9a1a" />
<circle cx="628.4" cy="485.7" r="0.62" fill="#1d5e10" />
<circle cx="581.1" cy="489.3" r="0.98" fill="#1d5e10" />
<circle cx="658.7" cy="512.4" r="0.63" fill="#1d5e10" />
<circle cx="615.1" cy="493.5" r="0.45" fill="#184a10" />
<circle cx="640.0" cy="531.6" r="0.45" fill="#184a10" />
<circle cx="584.8" cy="492.9" r="0.45" fill="#184a10" />
<circle cx="625.8" cy="511.9" r="0.45" fill="#184a10" />
<circle cx="666.1" cy="516.9" r="0.45" fill="#184a10" />
<circle cx="639.4" cy="515.2" r="0.45" fill="#184a10" />
<circle cx="643.6" cy="523.2" r="0.45" fill="#184a10" />
<circle cx="646.7" cy="509.2" r="0.45" fill="#184a10" />
<circle cx="601.0" cy="527.8" r="0.45" fill="#184a10" />
<circle cx="615.1" cy="503.7" r="0.45" fill="#184a10" />
<circle cx="659.4" cy="531.6" r="0.45" fill="#184a10" />
<circle cx="676.0" cy="455.1" r="0.45" fill="#184a10" />
<circle cx="607.7" cy="479.5" r="0.45" fill="#184a10" />
<circle cx="615.7" cy="466.2" r="0.45" fill="#184a10" />
<circle cx="632.0" cy="461.0" r="0.45" fill="#184a10" />
<circle cx="606.7" cy="530.0" r="0.45" fill="#184a10" />
<circle cx="651.1" cy="491.5" r="0.45" fill="#184a10" />
<circle cx="587.1" cy="531.0" r="0.45" fill="#184a10" />
<circle cx="647.2" cy="471.0" r="0.45" fill="#184a10" />
<circle cx="610.0" cy="505.9" r="0.45" fill="#184a10" />
<circle cx="645.0" cy="475.4" r="0.45" fill="#184a10" />
<circle cx="672.2" cy="480.3" r="0.45" fill="#184a10" />
<circle cx="601.9" cy="522.1" r="0.45" fill="#184a10" />
<circle cx="591.7" cy="509.0" r="0.45" fill="#184a10" />
<circle cx="596.4" cy="502.4" r="0.45" fill="#184a10" />
<circle cx="604.2" cy="484.9" r="0.45" fill="#184a10" />
<circle cx="671.1" cy="491.9" r="0.45" fill="#184a10" />
<circle cx="620.3" cy="503.9" r="0.45" fill="#184a10" />
<circle cx="604.5" cy="468.5" r="0.45" fill="#184a10" />
<circle cx="615.0" cy="476.4" r="0.45" fill="#184a10" />
<circle cx="595.2" cy="531.4" r="0.45" fill="#184a10" />
<circle cx="579.7" cy="519.4" r="0.45" fill="#184a10" />
<circle cx="670.5" cy="510.9" r="0.45" fill="#184a10" />
<circle cx="578.1" cy="494.6" r="0.45" fill="#184a10" />
<circle cx="580.2" cy="503.2" r="0.45" fill="#184a10" />
<circle cx="646.9" cy="473.8" r="0.45" fill="#184a10" />
<circle cx="577.0" cy="498.1" r="0.45" fill="#184a10" />
<circle cx="585.7" cy="479.3" r="0.45" fill="#184a10" />
<circle cx="622.0" cy="526.1" r="0.45" fill="#184a10" />
<circle cx="613.5" cy="465.4" r="0.45" fill="#184a10" />
<circle cx="656.1" cy="520.3" r="0.45" fill="#184a10" />
<circle cx="629.6" cy="458.5" r="0.45" fill="#184a10" />
<circle cx="595.1" cy="486.8" r="0.45" fill="#184a10" />
<circle cx="631.9" cy="472.6" r="0.45" fill="#184a10" />
<circle cx="657.2" cy="522.0" r="0.45" fill="#184a10" />
<circle cx="669.5" cy="525.2" r="0.45" fill="#184a10" />
<circle cx="578.0" cy="501.1" r="0.45" fill="#184a10" />
<circle cx="584.3" cy="526.5" r="0.45" fill="#184a10" />
<circle cx="651.6" cy="515.3" r="0.45" fill="#184a10" />
<circle cx="595.2" cy="459.4" r="0.45" fill="#184a10" />
<circle cx="658.5" cy="503.1" r="0.45" fill="#184a10" />
<circle cx="638.8" cy="492.2" r="0.45" fill="#184a10" />
<circle cx="656.9" cy="481.6" r="0.45" fill="#184a10" />
<circle cx="603.4" cy="482.8" r="0.45" fill="#184a10" />
<circle cx="606.3" cy="504.7" r="0.45" fill="#184a10" />
<circle cx="666.0" cy="460.3" r="0.45" fill="#184a10" />
<circle cx="583.0" cy="495.5" r="0.45" fill="#184a10" />
<circle cx="644.6" cy="469.8" r="0.45" fill="#184a10" />
<circle cx="603.4" cy="459.3" r="0.45" fill="#184a10" />
<circle cx="579.9" cy="494.2" r="0.45" fill="#184a10" />
<circle cx="644.9" cy="506.8" r="0.45" fill="#184a10" />
<circle cx="592.2" cy="462.9" r="0.45" fill="#184a10" />
<circle cx="670.1" cy="497.6" r="0.45" fill="#184a10" />
<circle cx="617.4" cy="509.8" r="0.45" fill="#184a10" />
<circle cx="649.6" cy="496.5" r="0.45" fill="#184a10" />
<circle cx="584.1" cy="520.7" r="0.45" fill="#184a10" />
<circle cx="597.8" cy="457.8" r="0.45" fill="#184a10" />
<circle cx="611.7" cy="497.2" r="0.45" fill="#184a10" />
<circle cx="639.6" cy="468.5" r="0.45" fill="#184a10" />
<circle cx="647.8" cy="494.1" r="0.45" fill="#184a10" />
<circle cx="592.5" cy="522.6" r="0.45" fill="#184a10" />
<circle cx="657.6" cy="527.0" r="0.45" fill="#184a10" />
<circle cx="644.8" cy="472.0" r="0.45" fill="#184a10" />
<circle cx="654.7" cy="526.7" r="0.45" fill="#184a10" />
<circle cx="630.0" cy="527.2" r="0.45" fill="#184a10" />
<circle cx="674.1" cy="485.8" r="0.45" fill="#184a10" />
<circle cx="671.2" cy="529.4" r="0.45" fill="#184a10" />
<circle cx="656.3" cy="455.5" r="0.45" fill="#184a10" />
<circle cx="611.7" cy="503.6" r="0.45" fill="#184a10" />
<circle cx="637.5" cy="515.0" r="0.45" fill="#184a10" />
<circle cx="641.5" cy="467.5" r="0.45" fill="#184a10" />
<circle cx="670.1" cy="497.4" r="0.45" fill="#184a10" />
<circle cx="665.2" cy="471.1" r="0.45" fill="#184a10" />
<circle cx="676.9" cy="498.9" r="0.45" fill="#184a10" />
<circle cx="654.5" cy="513.7" r="0.45" fill="#184a10" />
<circle cx="665.3" cy="483.6" r="0.45" fill="#184a10" />
<circle cx="584.6" cy="487.0" r="0.45" fill="#184a10" />
<circle cx="594.2" cy="497.7" r="0.45" fill="#184a10" />
<circle cx="658.4" cy="483.5" r="0.45" fill="#184a10" />
<circle cx="589.4" cy="456.8" r="0.45" fill="#184a10" />
<circle cx="618.9" cy="501.0" r="0.45" fill="#184a10" />
<circle cx="578.9" cy="507.8" r="0.45" fill="#184a10" />
<circle cx="597.5" cy="463.2" r="0.45" fill="#184a10" />
<circle cx="669.8" cy="496.4" r="0.45" fill="#184a10" />
<circle cx="666.5" cy="495.7" r="0.45" fill="#184a10" />
<circle cx="588.6" cy="473.8" r="0.45" fill="#184a10" />
<circle cx="619.0" cy="505.8" r="0.45" fill="#184a10" />
<circle cx="654.0" cy="514.6" r="0.45" fill="#184a10" />
<circle cx="641.9" cy="474.8" r="0.45" fill="#184a10" />
<circle cx="619.6" cy="484.8" r="0.45" fill="#184a10" />
<circle cx="625.6" cy="475.8" r="0.45" fill="#184a10" />
<circle cx="630.5" cy="491.3" r="0.45" fill="#184a10" />
<circle cx="579.8" cy="520.3" r="0.45" fill="#184a10" />
<circle cx="635.4" cy="518.7" r="0.45" fill="#184a10" />
<circle cx="650.5" cy="513.0" r="0.45" fill="#184a10" />
<circle cx="676.4" cy="484.7" r="0.45" fill="#184a10" />
<circle cx="615.9" cy="454.9" r="0.45" fill="#184a10" />
<circle cx="643.2" cy="501.1" r="0.45" fill="#184a10" />
<circle cx="634.4" cy="534.3" r="0.45" fill="#184a10" />
<circle cx="596.1" cy="472.8" r="0.45" fill="#184a10" />
<circle cx="650.3" cy="519.5" r="0.45" fill="#184a10" />
<circle cx="624.9" cy="459.0" r="0.45" fill="#184a10" />
<circle cx="613.6" cy="520.6" r="0.45" fill="#184a10" />
<circle cx="626.6" cy="491.5" r="0.45" fill="#184a10" />
<circle cx="615.5" cy="504.8" r="0.45" fill="#184a10" />
<circle cx="636.6" cy="510.0" r="0.45" fill="#184a10" />
<circle cx="663.5" cy="514.6" r="0.45" fill="#184a10" />
<circle cx="614.0" cy="474.6" r="0.45" fill="#184a10" />
<circle cx="655.1" cy="518.0" r="0.45" fill="#184a10" />
<circle cx="669.9" cy="470.5" r="0.45" fill="#184a10" />
<circle cx="661.7" cy="525.8" r="0.45" fill="#184a10" />
<circle cx="584.0" cy="479.2" r="0.45" fill="#184a10" />
<circle cx="640.1" cy="466.3" r="0.45" fill="#184a10" />
<circle cx="660.1" cy="475.8" r="0.45" fill="#184a10" />
<circle cx="645.0" cy="478.2" r="0.45" fill="#184a10" />
<circle cx="598.2" cy="471.1" r="0.45" fill="#184a10" />
<circle cx="626.4" cy="511.6" r="0.45" fill="#184a10" />
<circle cx="598.2" cy="509.4" r="0.45" fill="#184a10" />
<circle cx="610.0" cy="506.5" r="0.45" fill="#184a10" />
<circle cx="613.4" cy="470.0" r="0.45" fill="#184a10" />
<circle cx="590.4" cy="459.2" r="0.45" fill="#184a10" />
<circle cx="646.5" cy="487.7" r="0.45" fill="#184a10" />
<circle cx="588.6" cy="525.0" r="0.45" fill="#184a10" />
<circle cx="642.3" cy="456.3" r="0.45" fill="#184a10" />
<circle cx="649.3" cy="502.1" r="0.45" fill="#184a10" />
<circle cx="621.0" cy="494.6" r="0.45" fill="#184a10" />
<circle cx="673.3" cy="484.5" r="0.45" fill="#184a10" />
<circle cx="640.4" cy="505.4" r="0.45" fill="#184a10" />
<circle cx="613.1" cy="482.3" r="0.45" fill="#184a10" />
<circle cx="652.4" cy="505.4" r="0.45" fill="#184a10" />
<circle cx="595.0" cy="463.0" r="1.80" fill="#1d6a12" />
<circle cx="595.0" cy="463.0" r="1.00" fill="#62ff40" />
<circle cx="635.0" cy="500.0" r="2.70" fill="#1d6a12" />
<circle cx="635.0" cy="500.0" r="1.50" fill="#62ff40" />
<circle cx="668.0" cy="485.0" r="1.80" fill="#1d6a12" />
<circle cx="668.0" cy="485.0" r="1.00" fill="#62ff40" />
<circle cx="610.0" cy="513.0" r="1.62" fill="#1d6a12" />
<circle cx="610.0" cy="513.0" r="0.90" fill="#62ff40" />
<circle cx="640.0" cy="470.0" r="1.44" fill="#1d6a12" />
<circle cx="640.0" cy="470.0" r="0.80" fill="#62ff40" />
<rect x="663.60" y="529.20" width="10.40" height="3.00" fill="#fff" stroke="#444" stroke-width="0.5"/>
<rect x="574.20" y="538.90" width="104.90" height="83.20" fill="#020402" />
<circle cx="672.9" cy="552.0" r="1.20" fill="#1d5e10" />
<circle cx="594.8" cy="550.5" r="0.71" fill="#2c9a1a" />
<circle cx="666.0" cy="559.3" r="0.69" fill="#4ade2e" />
<circle cx="636.9" cy="614.7" r="1.14" fill="#2c9a1a" />
<circle cx="647.6" cy="544.7" r="0.89" fill="#4ade2e" />
<circle cx="607.5" cy="556.0" r="0.89" fill="#2c9a1a" />
<circle cx="670.8" cy="602.2" r="0.87" fill="#4ade2e" />
<circle cx="646.7" cy="589.4" r="1.17" fill="#1d5e10" />
<circle cx="607.7" cy="602.8" r="0.94" fill="#4ade2e" />
<circle cx="590.6" cy="606.3" r="0.59" fill="#2c9a1a" />
<circle cx="581.2" cy="583.0" r="1.14" fill="#1d5e10" />
<circle cx="627.3" cy="581.9" r="0.95" fill="#1d5e10" />
<circle cx="668.7" cy="565.2" r="0.89" fill="#1d5e10" />
<circle cx="606.2" cy="588.1" r="0.78" fill="#1d5e10" />
<circle cx="644.1" cy="582.7" r="1.20" fill="#1d5e10" />
<circle cx="612.1" cy="575.1" r="1.15" fill="#1d5e10" />
<circle cx="672.3" cy="581.4" r="0.52" fill="#1d5e10" />
<circle cx="666.6" cy="554.5" r="0.71" fill="#1d5e10" />
<circle cx="609.3" cy="569.2" r="0.48" fill="#1d5e10" />
<circle cx="630.2" cy="603.9" r="0.60" fill="#2c9a1a" />
<circle cx="646.2" cy="545.0" r="1.07" fill="#1d5e10" />
<circle cx="669.1" cy="577.4" r="0.82" fill="#2c9a1a" />
<circle cx="629.1" cy="587.2" r="1.01" fill="#4ade2e" />
<circle cx="623.9" cy="598.5" r="0.72" fill="#2c9a1a" />
<circle cx="655.3" cy="605.8" r="1.16" fill="#2c9a1a" />
<circle cx="578.0" cy="580.5" r="0.71" fill="#2c9a1a" />
<circle cx="593.5" cy="595.7" r="0.65" fill="#1d5e10" />
<circle cx="580.4" cy="617.5" r="0.54" fill="#1d5e10" />
<circle cx="598.0" cy="561.1" r="0.59" fill="#2c9a1a" />
<circle cx="604.1" cy="548.6" r="0.61" fill="#1d5e10" />
<circle cx="610.9" cy="599.1" r="1.08" fill="#4ade2e" />
<circle cx="580.1" cy="570.8" r="0.47" fill="#2c9a1a" />
<circle cx="596.7" cy="579.7" r="1.01" fill="#1d5e10" />
<circle cx="648.7" cy="577.7" r="0.62" fill="#1d5e10" />
<circle cx="603.1" cy="546.1" r="0.57" fill="#2c9a1a" />
<circle cx="665.9" cy="592.1" r="0.82" fill="#1d5e10" />
<circle cx="637.1" cy="544.2" r="0.47" fill="#1d5e10" />
<circle cx="653.5" cy="541.2" r="1.19" fill="#2c9a1a" />
<circle cx="661.6" cy="559.4" r="0.55" fill="#1d5e10" />
<circle cx="610.7" cy="609.3" r="0.46" fill="#2c9a1a" />
<circle cx="614.5" cy="591.6" r="1.05" fill="#1d5e10" />
<circle cx="666.3" cy="584.6" r="1.09" fill="#1d5e10" />
<circle cx="627.9" cy="555.8" r="0.57" fill="#1d5e10" />
<circle cx="660.8" cy="581.3" r="1.06" fill="#2c9a1a" />
<circle cx="674.5" cy="556.0" r="1.11" fill="#1d5e10" />
<circle cx="653.1" cy="571.5" r="0.60" fill="#2c9a1a" />
<circle cx="592.5" cy="544.9" r="0.63" fill="#1d5e10" />
<circle cx="628.4" cy="617.7" r="0.87" fill="#1d5e10" />
<circle cx="663.4" cy="588.3" r="1.03" fill="#1d5e10" />
<circle cx="578.4" cy="616.0" r="1.05" fill="#2c9a1a" />
<circle cx="659.5" cy="548.7" r="0.58" fill="#1d5e10" />
<circle cx="627.1" cy="615.2" r="0.76" fill="#4ade2e" />
<circle cx="639.0" cy="599.5" r="1.18" fill="#1d5e10" />
<circle cx="671.2" cy="598.5" r="1.05" fill="#4ade2e" />
<circle cx="642.0" cy="566.3" r="0.63" fill="#1d5e10" />
<circle cx="582.0" cy="614.2" r="0.47" fill="#1d5e10" />
<circle cx="608.1" cy="549.1" r="0.70" fill="#1d5e10" />
<circle cx="593.9" cy="578.7" r="0.72" fill="#1d5e10" />
<circle cx="658.3" cy="565.2" r="1.11" fill="#1d5e10" />
<circle cx="673.0" cy="570.6" r="1.16" fill="#1d5e10" />
<circle cx="628.1" cy="558.1" r="0.63" fill="#1d5e10" />
<circle cx="607.5" cy="551.9" r="1.20" fill="#1d5e10" />
<circle cx="659.0" cy="549.9" r="1.05" fill="#1d5e10" />
<circle cx="627.1" cy="546.4" r="0.74" fill="#1d5e10" />
<circle cx="668.5" cy="587.1" r="0.92" fill="#1d5e10" />
<circle cx="581.1" cy="595.2" r="0.45" fill="#184a10" />
<circle cx="657.7" cy="594.0" r="0.45" fill="#184a10" />
<circle cx="612.6" cy="563.5" r="0.45" fill="#184a10" />
<circle cx="577.2" cy="547.4" r="0.45" fill="#184a10" />
<circle cx="591.8" cy="576.8" r="0.45" fill="#184a10" />
<circle cx="654.7" cy="558.1" r="0.45" fill="#184a10" />
<circle cx="623.9" cy="591.3" r="0.45" fill="#184a10" />
<circle cx="639.7" cy="542.5" r="0.45" fill="#184a10" />
<circle cx="669.1" cy="587.3" r="0.45" fill="#184a10" />
<circle cx="606.8" cy="559.9" r="0.45" fill="#184a10" />
<circle cx="645.7" cy="614.8" r="0.45" fill="#184a10" />
<circle cx="610.2" cy="572.4" r="0.45" fill="#184a10" />
<circle cx="632.4" cy="554.8" r="0.45" fill="#184a10" />
<circle cx="617.2" cy="613.6" r="0.45" fill="#184a10" />
<circle cx="632.3" cy="606.1" r="0.45" fill="#184a10" />
<circle cx="602.6" cy="609.7" r="0.45" fill="#184a10" />
<circle cx="655.2" cy="558.8" r="0.45" fill="#184a10" />
<circle cx="629.7" cy="594.9" r="0.45" fill="#184a10" />
<circle cx="634.0" cy="588.6" r="0.45" fill="#184a10" />
<circle cx="600.4" cy="584.8" r="0.45" fill="#184a10" />
<circle cx="612.0" cy="604.1" r="0.45" fill="#184a10" />
<circle cx="613.8" cy="618.5" r="0.45" fill="#184a10" />
<circle cx="634.8" cy="558.9" r="0.45" fill="#184a10" />
<circle cx="618.1" cy="551.0" r="0.45" fill="#184a10" />
<circle cx="650.5" cy="544.5" r="0.45" fill="#184a10" />
<circle cx="637.2" cy="565.3" r="0.45" fill="#184a10" />
<circle cx="654.6" cy="550.9" r="0.45" fill="#184a10" />
<circle cx="644.9" cy="597.4" r="0.45" fill="#184a10" />
<circle cx="599.7" cy="551.2" r="0.45" fill="#184a10" />
<circle cx="613.8" cy="592.3" r="0.45" fill="#184a10" />
<circle cx="602.5" cy="541.6" r="0.45" fill="#184a10" />
<circle cx="620.7" cy="604.9" r="0.45" fill="#184a10" />
<circle cx="592.1" cy="615.4" r="0.45" fill="#184a10" />
<circle cx="627.5" cy="553.6" r="0.45" fill="#184a10" />
<circle cx="586.3" cy="570.3" r="0.45" fill="#184a10" />
<circle cx="624.3" cy="554.8" r="0.45" fill="#184a10" />
<circle cx="584.7" cy="580.6" r="0.45" fill="#184a10" />
<circle cx="601.8" cy="576.1" r="0.45" fill="#184a10" />
<circle cx="621.7" cy="596.1" r="0.45" fill="#184a10" />
<circle cx="634.5" cy="559.0" r="0.45" fill="#184a10" />
<circle cx="594.3" cy="608.9" r="0.45" fill="#184a10" />
<circle cx="581.3" cy="550.7" r="0.45" fill="#184a10" />
<circle cx="583.3" cy="606.3" r="0.45" fill="#184a10" />
<circle cx="630.8" cy="614.1" r="0.45" fill="#184a10" />
<circle cx="639.4" cy="567.5" r="0.45" fill="#184a10" />
<circle cx="619.6" cy="598.9" r="0.45" fill="#184a10" />
<circle cx="599.5" cy="604.5" r="0.45" fill="#184a10" />
<circle cx="617.3" cy="544.2" r="0.45" fill="#184a10" />
<circle cx="610.9" cy="585.3" r="0.45" fill="#184a10" />
<circle cx="591.0" cy="612.6" r="0.45" fill="#184a10" />
<circle cx="669.6" cy="581.4" r="0.45" fill="#184a10" />
<circle cx="667.5" cy="595.5" r="0.45" fill="#184a10" />
<circle cx="630.5" cy="553.4" r="0.45" fill="#184a10" />
<circle cx="672.3" cy="613.7" r="0.45" fill="#184a10" />
<circle cx="621.8" cy="571.4" r="0.45" fill="#184a10" />
<circle cx="583.6" cy="589.9" r="0.45" fill="#184a10" />
<circle cx="662.5" cy="571.7" r="0.45" fill="#184a10" />
<circle cx="605.3" cy="589.4" r="0.45" fill="#184a10" />
<circle cx="656.2" cy="554.3" r="0.45" fill="#184a10" />
<circle cx="604.7" cy="591.8" r="0.45" fill="#184a10" />
<circle cx="580.4" cy="605.6" r="0.45" fill="#184a10" />
<circle cx="608.0" cy="606.8" r="0.45" fill="#184a10" />
<circle cx="622.1" cy="554.0" r="0.45" fill="#184a10" />
<circle cx="578.2" cy="549.9" r="0.45" fill="#184a10" />
<circle cx="602.5" cy="600.9" r="0.45" fill="#184a10" />
<circle cx="656.3" cy="590.9" r="0.45" fill="#184a10" />
<circle cx="607.2" cy="593.5" r="0.45" fill="#184a10" />
<circle cx="650.1" cy="570.0" r="0.45" fill="#184a10" />
<circle cx="584.4" cy="578.0" r="0.45" fill="#184a10" />
<circle cx="598.6" cy="555.8" r="0.45" fill="#184a10" />
<circle cx="615.6" cy="546.8" r="0.45" fill="#184a10" />
<circle cx="666.8" cy="563.1" r="0.45" fill="#184a10" />
<circle cx="666.9" cy="599.3" r="0.45" fill="#184a10" />
<circle cx="577.3" cy="612.1" r="0.45" fill="#184a10" />
<circle cx="657.9" cy="582.5" r="0.45" fill="#184a10" />
<circle cx="665.4" cy="578.8" r="0.45" fill="#184a10" />
<circle cx="578.7" cy="552.8" r="0.45" fill="#184a10" />
<circle cx="607.5" cy="608.9" r="0.45" fill="#184a10" />
<circle cx="659.9" cy="550.2" r="0.45" fill="#184a10" />
<circle cx="611.5" cy="549.7" r="0.45" fill="#184a10" />
<circle cx="599.2" cy="568.8" r="0.45" fill="#184a10" />
<circle cx="618.0" cy="552.8" r="0.45" fill="#184a10" />
<circle cx="642.6" cy="560.1" r="0.45" fill="#184a10" />
<circle cx="666.0" cy="579.0" r="0.45" fill="#184a10" />
<circle cx="619.5" cy="601.6" r="0.45" fill="#184a10" />
<circle cx="611.0" cy="561.2" r="0.45" fill="#184a10" />
<circle cx="588.6" cy="564.2" r="0.45" fill="#184a10" />
<circle cx="599.9" cy="599.1" r="0.45" fill="#184a10" />
<circle cx="612.0" cy="596.9" r="0.45" fill="#184a10" />
<circle cx="604.0" cy="546.4" r="0.45" fill="#184a10" />
<circle cx="607.0" cy="572.0" r="0.45" fill="#184a10" />
<circle cx="668.0" cy="556.7" r="0.45" fill="#184a10" />
<circle cx="597.6" cy="553.3" r="0.45" fill="#184a10" />
<circle cx="601.8" cy="617.0" r="0.45" fill="#184a10" />
<circle cx="670.2" cy="558.9" r="0.45" fill="#184a10" />
<circle cx="581.2" cy="579.4" r="0.45" fill="#184a10" />
<circle cx="635.2" cy="549.7" r="0.45" fill="#184a10" />
<circle cx="618.4" cy="601.8" r="0.45" fill="#184a10" />
<circle cx="576.3" cy="597.8" r="0.45" fill="#184a10" />
<circle cx="645.3" cy="603.2" r="0.45" fill="#184a10" />
<circle cx="625.3" cy="577.6" r="0.45" fill="#184a10" />
<circle cx="628.5" cy="551.7" r="0.45" fill="#184a10" />
<circle cx="628.1" cy="559.9" r="0.45" fill="#184a10" />
<circle cx="608.6" cy="544.4" r="0.45" fill="#184a10" />
<circle cx="592.2" cy="545.3" r="0.45" fill="#184a10" />
<circle cx="630.8" cy="559.6" r="0.45" fill="#184a10" />
<circle cx="632.3" cy="580.8" r="0.45" fill="#184a10" />
<circle cx="599.7" cy="551.0" r="0.45" fill="#184a10" />
<circle cx="636.3" cy="594.5" r="0.45" fill="#184a10" />
<circle cx="645.9" cy="581.1" r="0.45" fill="#184a10" />
<circle cx="634.7" cy="542.8" r="0.45" fill="#184a10" />
<circle cx="607.1" cy="604.3" r="0.45" fill="#184a10" />
<circle cx="614.3" cy="549.1" r="0.45" fill="#184a10" />
<circle cx="618.7" cy="607.0" r="0.45" fill="#184a10" />
<circle cx="586.1" cy="549.8" r="0.45" fill="#184a10" />
<circle cx="626.5" cy="610.0" r="0.45" fill="#184a10" />
<circle cx="615.6" cy="560.5" r="0.45" fill="#184a10" />
<circle cx="653.7" cy="548.4" r="0.45" fill="#184a10" />
<circle cx="606.0" cy="588.3" r="0.45" fill="#184a10" />
<circle cx="661.9" cy="609.1" r="0.45" fill="#184a10" />
<circle cx="609.1" cy="562.0" r="0.45" fill="#184a10" />
<circle cx="612.9" cy="550.5" r="0.45" fill="#184a10" />
<circle cx="603.7" cy="601.6" r="0.45" fill="#184a10" />
<circle cx="675.0" cy="562.3" r="0.45" fill="#184a10" />
<circle cx="583.5" cy="599.5" r="0.45" fill="#184a10" />
<circle cx="673.7" cy="603.8" r="0.45" fill="#184a10" />
<circle cx="617.8" cy="599.8" r="0.45" fill="#184a10" />
<circle cx="652.9" cy="599.8" r="0.45" fill="#184a10" />
<circle cx="625.9" cy="620.0" r="0.45" fill="#184a10" />
<circle cx="655.0" cy="559.5" r="0.45" fill="#184a10" />
<circle cx="619.7" cy="548.0" r="0.45" fill="#184a10" />
<circle cx="614.0" cy="605.6" r="0.45" fill="#184a10" />
<circle cx="625.3" cy="582.4" r="0.45" fill="#184a10" />
<circle cx="654.8" cy="547.8" r="0.45" fill="#184a10" />
<circle cx="611.9" cy="579.2" r="0.45" fill="#184a10" />
<circle cx="626.0" cy="595.1" r="0.45" fill="#184a10" />
<circle cx="670.7" cy="604.4" r="0.45" fill="#184a10" />
<circle cx="631.2" cy="595.1" r="0.45" fill="#184a10" />
<circle cx="630.5" cy="619.0" r="0.45" fill="#184a10" />
<circle cx="636.4" cy="587.9" r="0.45" fill="#184a10" />
<circle cx="620.0" cy="560.0" r="1.80" fill="#1d6a12" />
<circle cx="620.0" cy="560.0" r="1.00" fill="#62ff40" />
<circle cx="640.0" cy="595.0" r="1.98" fill="#1d6a12" />
<circle cx="640.0" cy="595.0" r="1.10" fill="#62ff40" />
<circle cx="596.0" cy="575.0" r="1.62" fill="#1d6a12" />
<circle cx="596.0" cy="575.0" r="0.90" fill="#62ff40" />
<circle cx="662.0" cy="610.0" r="1.62" fill="#1d6a12" />
<circle cx="662.0" cy="610.0" r="0.90" fill="#62ff40" />
<circle cx="618.0" cy="613.0" r="1.62" fill="#1d6a12" />
<circle cx="618.0" cy="613.0" r="0.90" fill="#62ff40" />
<circle cx="579.0" cy="553.0" r="1.62" fill="#1d6a12" />
<circle cx="579.0" cy="553.0" r="0.90" fill="#62ff40" />
<circle cx="660.0" cy="565.0" r="1.62" fill="#1d6a12" />
<circle cx="660.0" cy="565.0" r="0.90" fill="#62ff40" />
<rect x="663.60" y="614.80" width="10.40" height="3.00" fill="#fff" stroke="#444" stroke-width="0.5"/>
<text x="420.70" y="645.50" font-size="11.5" text-anchor="start" font-weight="bold" fill="#111" >G</text>
<line x1="446.30" y1="676.50" x2="446.30" y2="804.90" stroke="#1a1a1a" stroke-width="1.3"/>
<line x1="442.30" y1="792.50" x2="446.30" y2="792.50" stroke="#1a1a1a" stroke-width="1.3"/>
<text x="441.20" y="795.90" font-size="9.6" text-anchor="end" font-weight="bold" fill="#111" >0.5</text>
<line x1="442.30" y1="734.50" x2="446.30" y2="734.50" stroke="#1a1a1a" stroke-width="1.3"/>
<text x="441.20" y="737.90" font-size="9.6" text-anchor="end" font-weight="bold" fill="#111" >1.0</text>
<line x1="442.30" y1="676.50" x2="446.30" y2="676.50" stroke="#1a1a1a" stroke-width="1.3"/>
<text x="441.20" y="679.90" font-size="9.6" text-anchor="end" font-weight="bold" fill="#111" >1.5</text>
<line x1="446.30" y1="804.30" x2="638.80" y2="804.30" stroke="#1a1a1a" stroke-width="1.3"/>
<text x="423.30" y="740.30" font-size="10.4" text-anchor="middle" font-weight="bold" fill="#111" transform="rotate(-90 423.30 740.30)" >Relative luciferace activity</text>
<rect x="464.20" y="734.50" width="24.00" height="69.80" fill="#8c8cfc" />
<line x1="476.20" y1="734.50" x2="476.20" y2="727.54" stroke="#222" stroke-width="1.2"/>
<line x1="470.40" y1="727.54" x2="482.00" y2="727.54" stroke="#222" stroke-width="1.2"/>
<rect x="499.80" y="787.86" width="24.40" height="16.44" fill="#f07c80" />
<line x1="512.00" y1="787.86" x2="512.00" y2="778.58" stroke="#222" stroke-width="1.2"/>
<line x1="506.20" y1="778.58" x2="517.80" y2="778.58" stroke="#222" stroke-width="1.2"/>
<rect x="560.50" y="732.18" width="23.80" height="72.12" fill="#8c8cfc" />
<line x1="572.40" y1="732.18" x2="572.40" y2="726.38" stroke="#222" stroke-width="1.2"/>
<line x1="566.60" y1="726.38" x2="578.20" y2="726.38" stroke="#222" stroke-width="1.2"/>
<rect x="596.00" y="734.50" width="24.20" height="69.80" fill="#f07c80" />
<line x1="608.10" y1="734.50" x2="608.10" y2="726.38" stroke="#222" stroke-width="1.2"/>
<line x1="602.30" y1="726.38" x2="613.90" y2="726.38" stroke="#222" stroke-width="1.2"/>
<line x1="494.20" y1="804.30" x2="494.20" y2="807.80" stroke="#1a1a1a" stroke-width="1.3"/>
<line x1="590.30" y1="804.30" x2="590.30" y2="807.80" stroke="#1a1a1a" stroke-width="1.3"/>
<text x="494.30" y="820.00" font-size="10.5" text-anchor="middle" font-weight="bold" fill="#111" >wt</text>
<text x="590.60" y="820.00" font-size="10.5" text-anchor="middle" font-weight="bold" fill="#111" >mut</text>
<text x="512.00" y="778.50" font-size="14" text-anchor="middle" font-weight="normal" fill="#333" >*</text>
<rect x="464.20" y="674.20" width="16.10" height="8.00" fill="#8c8cfc" />
<text x="486.30" y="682.00" font-size="10.6" text-anchor="start" font-weight="bold" fill="#111" >N.C</text>
<rect x="464.20" y="688.50" width="16.10" height="8.00" fill="#f07c80" />
<text x="486.30" y="696.30" font-size="10.6" text-anchor="start" font-weight="bold" fill="#111" >miR-539-5p mimics</text>
<text x="6.30" y="838.30" font-size="11.5" text-anchor="start" font-weight="bold" fill="#111" >H</text>
<line x1="41.30" y1="852.55" x2="41.30" y2="959.90" stroke="#1a1a1a" stroke-width="1.1"/>
<line x1="38.30" y1="959.30" x2="41.30" y2="959.30" stroke="#1a1a1a" stroke-width="1.0"/>
<text x="37.50" y="961.90" font-size="7.2" text-anchor="end" font-weight="bold" fill="#111" >0.0</text>
<line x1="38.30" y1="937.95" x2="41.30" y2="937.95" stroke="#1a1a1a" stroke-width="1.0"/>
<text x="37.50" y="940.55" font-size="7.2" text-anchor="end" font-weight="bold" fill="#111" >0.5</text>
<line x1="38.30" y1="916.60" x2="41.30" y2="916.60" stroke="#1a1a1a" stroke-width="1.0"/>
<text x="37.50" y="919.20" font-size="7.2" text-anchor="end" font-weight="bold" fill="#111" >1.0</text>
<line x1="38.30" y1="895.25" x2="41.30" y2="895.25" stroke="#1a1a1a" stroke-width="1.0"/>
<text x="37.50" y="897.85" font-size="7.2" text-anchor="end" font-weight="bold" fill="#111" >1.5</text>
<line x1="38.30" y1="873.90" x2="41.30" y2="873.90" stroke="#1a1a1a" stroke-width="1.0"/>
<text x="37.50" y="876.50" font-size="7.2" text-anchor="end" font-weight="bold" fill="#111" >2.0</text>
<line x1="38.30" y1="852.55" x2="41.30" y2="852.55" stroke="#1a1a1a" stroke-width="1.0"/>
<text x="37.50" y="855.15" font-size="7.2" text-anchor="end" font-weight="bold" fill="#111" >2.5</text>
<line x1="41.30" y1="959.30" x2="224.20" y2="959.30" stroke="#1a1a1a" stroke-width="1.1"/>
<text x="26.50" y="906.50" font-size="8.8" text-anchor="middle" font-weight="bold" fill="#111" transform="rotate(-90 26.50 906.50)" >Relative mRNA expression</text>
<rect x="52.60" y="916.60" width="8.90" height="42.70" fill="#5a55f5" />
<line x1="57.05" y1="916.60" x2="57.05" y2="915.75" stroke="#333" stroke-width="1.0"/>
<line x1="54.55" y1="915.75" x2="59.55" y2="915.75" stroke="#333" stroke-width="1.0"/>
<rect x="65.20" y="945.64" width="8.90" height="13.66" fill="#f07a7e" />
<line x1="69.65" y1="945.64" x2="69.65" y2="944.35" stroke="#333" stroke-width="1.0"/>
<line x1="67.15" y1="944.35" x2="72.15" y2="944.35" stroke="#333" stroke-width="1.0"/>
<rect x="77.80" y="916.60" width="8.90" height="42.70" fill="#babaf8" />
<line x1="82.25" y1="916.60" x2="82.25" y2="914.46" stroke="#333" stroke-width="1.0"/>
<line x1="79.75" y1="914.46" x2="84.75" y2="914.46" stroke="#333" stroke-width="1.0"/>
<rect x="90.40" y="883.72" width="8.90" height="75.58" fill="#f5dcdc" />
<line x1="94.85" y1="883.72" x2="94.85" y2="881.59" stroke="#333" stroke-width="1.0"/>
<line x1="92.35" y1="881.59" x2="97.35" y2="881.59" stroke="#333" stroke-width="1.0"/>
<text x="69.65" y="940.10" font-size="9.6" text-anchor="middle" font-weight="normal" fill="#333" >***</text>
<text x="94.85" y="877.10" font-size="10" text-anchor="middle" font-weight="normal" fill="#444" >##</text>
<rect x="112.10" y="916.60" width="8.90" height="42.70" fill="#5a55f5" />
<line x1="116.55" y1="916.60" x2="116.55" y2="915.32" stroke="#333" stroke-width="1.0"/>
<line x1="114.05" y1="915.32" x2="119.05" y2="915.32" stroke="#333" stroke-width="1.0"/>
<rect x="124.70" y="935.81" width="8.90" height="23.49" fill="#f07a7e" />
<line x1="129.15" y1="935.81" x2="129.15" y2="933.68" stroke="#333" stroke-width="1.0"/>
<line x1="126.65" y1="933.68" x2="131.65" y2="933.68" stroke="#333" stroke-width="1.0"/>
<rect x="137.30" y="916.60" width="8.90" height="42.70" fill="#babaf8" />
<line x1="141.75" y1="916.60" x2="141.75" y2="915.75" stroke="#333" stroke-width="1.0"/>
<line x1="139.25" y1="915.75" x2="144.25" y2="915.75" stroke="#333" stroke-width="1.0"/>
<rect x="149.90" y="887.56" width="8.90" height="71.74" fill="#f5dcdc" />
<line x1="154.35" y1="887.56" x2="154.35" y2="885.00" stroke="#333" stroke-width="1.0"/>
<line x1="151.85" y1="885.00" x2="156.85" y2="885.00" stroke="#333" stroke-width="1.0"/>
<text x="129.15" y="930.10" font-size="9.6" text-anchor="middle" font-weight="normal" fill="#333" >**</text>
<text x="154.35" y="883.10" font-size="10" text-anchor="middle" font-weight="normal" fill="#444" >##</text>
<rect x="172.70" y="916.60" width="8.90" height="42.70" fill="#5a55f5" />
<line x1="177.15" y1="916.60" x2="177.15" y2="914.89" stroke="#333" stroke-width="1.0"/>
<line x1="174.65" y1="914.89" x2="179.65" y2="914.89" stroke="#333" stroke-width="1.0"/>
<rect x="185.30" y="948.62" width="8.90" height="10.67" fill="#f07a7e" />
<line x1="189.75" y1="948.62" x2="189.75" y2="945.64" stroke="#333" stroke-width="1.0"/>
<line x1="187.25" y1="945.64" x2="192.25" y2="945.64" stroke="#333" stroke-width="1.0"/>
<rect x="197.90" y="916.60" width="8.90" height="42.70" fill="#babaf8" />
<line x1="202.35" y1="916.60" x2="202.35" y2="914.04" stroke="#333" stroke-width="1.0"/>
<line x1="199.85" y1="914.04" x2="204.85" y2="914.04" stroke="#333" stroke-width="1.0"/>
<rect x="210.50" y="879.02" width="8.90" height="80.28" fill="#f5dcdc" />
<line x1="214.95" y1="879.02" x2="214.95" y2="876.03" stroke="#333" stroke-width="1.0"/>
<line x1="212.45" y1="876.03" x2="217.45" y2="876.03" stroke="#333" stroke-width="1.0"/>
<text x="189.75" y="940.60" font-size="9.6" text-anchor="middle" font-weight="normal" fill="#333" >***</text>
<text x="214.95" y="871.60" font-size="10" text-anchor="middle" font-weight="normal" fill="#444" >##</text>
<text x="70.00" y="850.80" font-size="9.5" text-anchor="middle" font-weight="bold" fill="#111" >OGN</text>
<text x="138.00" y="850.80" font-size="9.5" text-anchor="middle" font-weight="bold" fill="#111" >Runx2</text>
<text x="194.00" y="850.80" font-size="9.5" text-anchor="middle" font-weight="bold" fill="#111" >ALP</text>
<defs><filter id="blur1" x="-30%" y="-60%" width="160%" height="220%"><feGaussianBlur stdDeviation="0.9"/></filter><filter id="blur2" x="-30%" y="-30%" width="160%" height="160%"><feGaussianBlur stdDeviation="2.2"/></filter></defs>
<text x="242.60" y="840.30" font-size="12.5" text-anchor="start" font-weight="bold" fill="#111" >I</text>
<text x="272.20" y="866.00" font-size="9.5" text-anchor="start" font-weight="bold" fill="#111" transform="rotate(-45 272.20 866.00)" >NC</text>
<text x="310.00" y="868.00" font-size="9.5" text-anchor="start" font-weight="bold" fill="#111" transform="rotate(-45 310.00 868.00)" >Mimics</text>
<text x="340.50" y="868.60" font-size="9.5" text-anchor="start" font-weight="bold" fill="#111" transform="rotate(-45 340.50 868.60)" >Inhibitor.NC</text>
<text x="373.40" y="869.40" font-size="9.5" text-anchor="start" font-weight="bold" fill="#111" transform="rotate(-45 373.40 869.40)" >Inhibitor</text>
<rect x="264.90" y="871.90" width="121.80" height="21.70" fill="#a9a9a9" />
<clipPath id="bl871"><rect x="264.9" y="871.9" width="121.8" height="21.7"/></clipPath><g clip-path="url(#bl871)">
<rect x="268.4" y="868.9" width="23.5" height="27.7" fill="#000" opacity="0.1" filter="url(#blur2)"/>
<ellipse cx="280.2" cy="877.6" rx="12.8" ry="6.1" fill="#000" opacity="0.12" filter="url(#blur2)"/>
<rect x="298.1" y="868.9" width="23.5" height="27.7" fill="#000" opacity="0.1" filter="url(#blur2)"/>
<ellipse cx="309.8" cy="880.4" rx="12.8" ry="6.3" fill="#000" opacity="0.12" filter="url(#blur2)"/>
<rect x="326.5" y="868.9" width="26.0" height="27.7" fill="#000" opacity="0.1" filter="url(#blur2)"/>
<ellipse cx="339.5" cy="884.2" rx="14.0" ry="6.6" fill="#000" opacity="0.12" filter="url(#blur2)"/>
<rect x="357.3" y="868.9" width="28.0" height="27.7" fill="#000" opacity="0.1" filter="url(#blur2)"/>
<ellipse cx="371.3" cy="887.8" rx="15.0" ry="7.5" fill="#000" opacity="0.12" filter="url(#blur2)"/>
</g>
<rect x="270.45" y="874.50" width="19.50" height="6.20" rx="3.10" fill="#0d0d0d" filter="url(#blur1)"/>
<rect x="300.05" y="877.10" width="19.50" height="6.60" rx="3.30" fill="#131313" filter="url(#blur1)"/>
<rect x="328.50" y="880.60" width="22.00" height="7.20" rx="3.60" fill="#0a0a0a" filter="url(#blur1)"/>
<rect x="359.30" y="883.30" width="24.00" height="9.00" rx="4.00" fill="#050505" filter="url(#blur1)"/>
<rect x="264.90" y="898.10" width="121.80" height="16.20" fill="#b2b2b2" />
<clipPath id="bl898"><rect x="264.9" y="898.1" width="121.8" height="16.2"/></clipPath><g clip-path="url(#bl898)">
<rect x="266.8" y="895.1" width="25.0" height="22.2" fill="#000" opacity="0.1" filter="url(#blur2)"/>
<ellipse cx="279.3" cy="907.2" rx="13.5" ry="5.8" fill="#000" opacity="0.12" filter="url(#blur2)"/>
<rect x="298.1" y="895.1" width="23.5" height="22.2" fill="#000" opacity="0.1" filter="url(#blur2)"/>
<ellipse cx="309.8" cy="907.0" rx="12.8" ry="5.6" fill="#000" opacity="0.12" filter="url(#blur2)"/>
<rect x="328.4" y="895.1" width="22.5" height="22.2" fill="#000" opacity="0.1" filter="url(#blur2)"/>
<ellipse cx="339.6" cy="906.6" rx="12.2" ry="5.3" fill="#000" opacity="0.12" filter="url(#blur2)"/>
<rect x="358.4" y="895.1" width="24.5" height="22.2" fill="#000" opacity="0.1" filter="url(#blur2)"/>
<ellipse cx="370.6" cy="906.8" rx="13.2" ry="5.5" fill="#000" opacity="0.12" filter="url(#blur2)"/>
</g>
<rect x="268.80" y="904.40" width="21.00" height="5.60" rx="2.80" fill="#121212" filter="url(#blur1)"/>
<rect x="300.05" y="904.40" width="19.50" height="5.20" rx="2.60" fill="#161616" filter="url(#blur1)"/>
<rect x="330.35" y="904.30" width="18.50" height="4.60" rx="2.30" fill="#181818" filter="url(#blur1)"/>
<rect x="360.35" y="904.30" width="20.50" height="5.00" rx="2.50" fill="#141414" filter="url(#blur1)"/>
<rect x="264.90" y="921.80" width="121.80" height="18.10" fill="#9a9a9a" />
<clipPath id="bl921"><rect x="264.9" y="921.8" width="121.8" height="18.1"/></clipPath><g clip-path="url(#bl921)">
<rect x="267.3" y="918.8" width="24.0" height="24.1" fill="#000" opacity="0.1" filter="url(#blur2)"/>
<ellipse cx="279.3" cy="931.0" rx="13.0" ry="6.0" fill="#000" opacity="0.12" filter="url(#blur2)"/>
<rect x="298.3" y="918.8" width="23.0" height="24.1" fill="#000" opacity="0.1" filter="url(#blur2)"/>
<ellipse cx="309.8" cy="934.0" rx="12.5" ry="5.1" fill="#000" opacity="0.12" filter="url(#blur2)"/>
<rect x="328.1" y="918.8" width="23.0" height="24.1" fill="#000" opacity="0.1" filter="url(#blur2)"/>
<ellipse cx="339.6" cy="933.2" rx="12.5" ry="5.5" fill="#000" opacity="0.12" filter="url(#blur2)"/>
<rect x="357.9" y="918.8" width="25.5" height="24.1" fill="#000" opacity="0.1" filter="url(#blur2)"/>
<ellipse cx="370.6" cy="934.0" rx="13.8" ry="6.0" fill="#000" opacity="0.12" filter="url(#blur2)"/>
</g>
<rect x="269.30" y="928.00" width="20.00" height="6.00" rx="3.00" fill="#262626" filter="url(#blur1)"/>
<rect x="300.30" y="931.90" width="19.00" height="4.20" rx="2.10" fill="#555555" filter="url(#blur1)"/>
<rect x="330.10" y="930.70" width="19.00" height="5.00" rx="2.50" fill="#353535" filter="url(#blur1)"/>
<rect x="359.85" y="931.00" width="21.50" height="6.00" rx="3.00" fill="#262626" filter="url(#blur1)"/>
<rect x="264.90" y="942.80" width="121.80" height="22.70" fill="#b4b4b4" />
<clipPath id="bl942"><rect x="264.9" y="942.8" width="121.8" height="22.7"/></clipPath><g clip-path="url(#bl942)">
<rect x="267.2" y="939.8" width="26.5" height="28.7" fill="#000" opacity="0.1" filter="url(#blur2)"/>
<ellipse cx="280.5" cy="953.7" rx="14.2" ry="7.5" fill="#000" opacity="0.12" filter="url(#blur2)"/>
<rect x="296.1" y="939.8" width="26.5" height="28.7" fill="#000" opacity="0.1" filter="url(#blur2)"/>
<ellipse cx="309.3" cy="953.7" rx="14.2" ry="7.7" fill="#000" opacity="0.12" filter="url(#blur2)"/>
<rect x="326.2" y="939.8" width="24.5" height="28.7" fill="#000" opacity="0.1" filter="url(#blur2)"/>
<ellipse cx="338.5" cy="953.7" rx="13.2" ry="7.5" fill="#000" opacity="0.12" filter="url(#blur2)"/>
<rect x="354.6" y="939.8" width="26.0" height="28.7" fill="#000" opacity="0.1" filter="url(#blur2)"/>
<ellipse cx="367.6" cy="953.7" rx="14.0" ry="7.5" fill="#000" opacity="0.12" filter="url(#blur2)"/>
</g>
<rect x="269.25" y="949.20" width="22.50" height="9.00" rx="4.00" fill="#080808" filter="url(#blur1)"/>
<rect x="298.05" y="949.00" width="22.50" height="9.40" rx="4.00" fill="#040404" filter="url(#blur1)"/>
<rect x="328.25" y="949.20" width="20.50" height="9.00" rx="4.00" fill="#080808" filter="url(#blur1)"/>
<rect x="356.60" y="949.20" width="22.00" height="9.00" rx="4.00" fill="#080808" filter="url(#blur1)"/>
<text x="263.60" y="887.90" font-size="8.7" text-anchor="end" font-weight="bold" fill="#111" >ALP</text>
<text x="263.30" y="910.20" font-size="8.7" text-anchor="end" font-weight="bold" fill="#111" >Runx2</text>
<text x="263.30" y="933.90" font-size="8.7" text-anchor="end" font-weight="bold" fill="#111" >OGN</text>
<text x="263.30" y="957.40" font-size="8.7" text-anchor="end" font-weight="bold" fill="#111" >GAPDH</text>
<text x="410.40" y="835.90" font-size="11.5" text-anchor="start" font-weight="bold" fill="#111" >J</text>
<line x1="436.60" y1="851.20" x2="436.60" y2="962.00" stroke="#1a1a1a" stroke-width="1.1"/>
<line x1="433.60" y1="961.40" x2="436.60" y2="961.40" stroke="#1a1a1a" stroke-width="1.0"/>
<text x="432.80" y="964.00" font-size="7.2" text-anchor="end" font-weight="bold" fill="#111" >0.0</text>
<line x1="433.60" y1="939.36" x2="436.60" y2="939.36" stroke="#1a1a1a" stroke-width="1.0"/>
<text x="432.80" y="941.96" font-size="7.2" text-anchor="end" font-weight="bold" fill="#111" >0.5</text>
<line x1="433.60" y1="917.32" x2="436.60" y2="917.32" stroke="#1a1a1a" stroke-width="1.0"/>
<text x="432.80" y="919.92" font-size="7.2" text-anchor="end" font-weight="bold" fill="#111" >1.0</text>
<line x1="433.60" y1="895.28" x2="436.60" y2="895.28" stroke="#1a1a1a" stroke-width="1.0"/>
<text x="432.80" y="897.88" font-size="7.2" text-anchor="end" font-weight="bold" fill="#111" >1.5</text>
<line x1="433.60" y1="873.24" x2="436.60" y2="873.24" stroke="#1a1a1a" stroke-width="1.0"/>
<text x="432.80" y="875.84" font-size="7.2" text-anchor="end" font-weight="bold" fill="#111" >2.0</text>
<line x1="433.60" y1="851.20" x2="436.60" y2="851.20" stroke="#1a1a1a" stroke-width="1.0"/>
<text x="432.80" y="853.80" font-size="7.2" text-anchor="end" font-weight="bold" fill="#111" >2.5</text>
<line x1="436.60" y1="961.40" x2="623.00" y2="961.40" stroke="#1a1a1a" stroke-width="1.1"/>
<text x="417.80" y="906.30" font-size="9.2" text-anchor="middle" font-weight="bold" fill="#111" transform="rotate(-90 417.80 906.30)" >Relative protein expression</text>
<rect x="442.80" y="917.32" width="9.00" height="44.08" fill="#5a55f5" />
<line x1="444.80" y1="917.32" x2="449.80" y2="917.32" stroke="#333" stroke-width="1.0"/>
<rect x="455.30" y="942.45" width="9.00" height="18.95" fill="#f07a7e" />
<line x1="459.80" y1="942.45" x2="459.80" y2="938.04" stroke="#333" stroke-width="1.0"/>
<line x1="457.30" y1="938.04" x2="462.30" y2="938.04" stroke="#333" stroke-width="1.0"/>
<rect x="468.60" y="917.32" width="9.00" height="44.08" fill="#babaf8" />
<line x1="470.60" y1="917.32" x2="475.60" y2="917.32" stroke="#333" stroke-width="1.0"/>
<rect x="482.40" y="894.40" width="9.00" height="67.00" fill="#f5dcdc" />
<line x1="486.90" y1="894.40" x2="486.90" y2="888.67" stroke="#333" stroke-width="1.0"/>
<line x1="484.40" y1="888.67" x2="489.40" y2="888.67" stroke="#333" stroke-width="1.0"/>
<text x="459.80" y="934.80" font-size="9.4" text-anchor="middle" font-weight="normal" fill="#333" >***</text>
<text x="486.90" y="883.80" font-size="9.4" text-anchor="middle" font-weight="normal" fill="#444" >##</text>
<rect x="505.20" y="917.32" width="9.00" height="44.08" fill="#5a55f5" />
<line x1="507.20" y1="917.32" x2="512.20" y2="917.32" stroke="#333" stroke-width="1.0"/>
<rect x="518.60" y="931.87" width="9.00" height="29.53" fill="#f07a7e" />
<line x1="523.10" y1="931.87" x2="523.10" y2="924.81" stroke="#333" stroke-width="1.0"/>
<line x1="520.60" y1="924.81" x2="525.60" y2="924.81" stroke="#333" stroke-width="1.0"/>
<rect x="532.30" y="917.32" width="9.00" height="44.08" fill="#babaf8" />
<line x1="534.30" y1="917.32" x2="539.30" y2="917.32" stroke="#333" stroke-width="1.0"/>
<rect x="545.60" y="900.57" width="9.00" height="60.83" fill="#f5dcdc" />
<line x1="550.10" y1="900.57" x2="550.10" y2="890.87" stroke="#333" stroke-width="1.0"/>
<line x1="547.60" y1="890.87" x2="552.60" y2="890.87" stroke="#333" stroke-width="1.0"/>
<text x="523.10" y="921.10" font-size="9.4" text-anchor="middle" font-weight="normal" fill="#333" >**</text>
<text x="550.10" y="884.20" font-size="9.4" text-anchor="middle" font-weight="normal" fill="#444" >#</text>
<rect x="567.60" y="917.32" width="9.00" height="44.08" fill="#5a55f5" />
<line x1="569.60" y1="917.32" x2="574.60" y2="917.32" stroke="#333" stroke-width="1.0"/>
<rect x="581.80" y="936.27" width="9.00" height="25.13" fill="#f07a7e" />
<line x1="586.30" y1="936.27" x2="586.30" y2="929.22" stroke="#333" stroke-width="1.0"/>
<line x1="583.80" y1="929.22" x2="588.80" y2="929.22" stroke="#333" stroke-width="1.0"/>
<rect x="595.10" y="917.32" width="9.00" height="44.08" fill="#babaf8" />
<line x1="597.10" y1="917.32" x2="602.10" y2="917.32" stroke="#333" stroke-width="1.0"/>
<rect x="608.80" y="880.73" width="9.00" height="80.67" fill="#f5dcdc" />
<line x1="613.30" y1="880.73" x2="613.30" y2="876.33" stroke="#333" stroke-width="1.0"/>
<line x1="610.80" y1="876.33" x2="615.80" y2="876.33" stroke="#333" stroke-width="1.0"/>
<text x="586.30" y="927.80" font-size="9.4" text-anchor="middle" font-weight="normal" fill="#333" >**</text>
<text x="613.30" y="874.20" font-size="9.4" text-anchor="middle" font-weight="normal" fill="#444" >##</text>
<text x="463.40" y="844.20" font-size="9.5" text-anchor="middle" font-weight="bold" fill="#111" >OGN</text>
<text x="523.80" y="844.20" font-size="9.5" text-anchor="middle" font-weight="bold" fill="#111" >Runx2</text>
<text x="592.40" y="844.20" font-size="9.5" text-anchor="middle" font-weight="bold" fill="#111" >ALP</text>
<rect x="630.00" y="837.50" width="13.30" height="5.60" fill="#5a55f5" />
<text x="648.90" y="843.50" font-size="9.0" text-anchor="start" font-weight="bold" fill="#111" >NC</text>
<rect x="630.00" y="852.40" width="13.30" height="5.60" fill="#f07a7e" />
<text x="648.90" y="858.40" font-size="9.0" text-anchor="start" font-weight="bold" fill="#111" >Mimics</text>
<rect x="630.00" y="867.00" width="13.30" height="5.60" fill="#babaf8" />
<text x="648.90" y="873.00" font-size="9.0" text-anchor="start" font-weight="bold" fill="#111" >IN.NC</text>
<rect x="630.00" y="882.40" width="13.30" height="5.60" fill="#f5dcdc" />
<text x="648.90" y="888.40" font-size="9.0" text-anchor="start" font-weight="bold" fill="#111" >Inhibitor</text>
<text x="6.10" y="982.90" font-size="12.5" text-anchor="start" font-weight="bold" fill="#111" >K</text>
<text x="65.00" y="983.00" font-size="8.6" text-anchor="middle" font-weight="bold" fill="#111" >NC</text>
<text x="146.50" y="983.00" font-size="8.6" text-anchor="middle" font-weight="bold" fill="#111" >Mimics</text>
<text x="240.60" y="983.00" font-size="8.6" text-anchor="middle" font-weight="bold" fill="#111" >Inhibitor NC</text>
<text x="326.40" y="983.00" font-size="8.6" text-anchor="middle" font-weight="bold" fill="#111" >Inhibitor</text>
<defs><radialGradient id="k1" cx="0.5" cy="0.5" r="0.5"><stop offset="0" stop-color="#8676aa"/><stop offset="0.7" stop-color="#7a68a0"/><stop offset="1" stop-color="#6a5690"/></radialGradient><clipPath id="k1c"><circle cx="63.0" cy="1026.2" r="39.099999999999994"/></clipPath></defs>
<circle cx="63.0" cy="1026.2" r="40.30" fill="#3a3440" />
<circle cx="63.0" cy="1026.2" r="39.30" fill="url(#k1)" />
<g clip-path="url(#k1c)">
<ellipse cx="38.0" cy="1046.0" rx="5" ry="6" fill="#c8bce0" opacity="0.6" filter="url(#blur2)"/>
<ellipse cx="100.0" cy="1030.0" rx="3" ry="8" fill="#c8bcdc" opacity="0.5" filter="url(#blur2)"/>
<ellipse cx="63.0" cy="1000.0" rx="20" ry="10" fill="#6a4e98" opacity="0.5" filter="url(#blur2)"/>
<ellipse cx="50.0" cy="1058.0" rx="10" ry="6" fill="#5c4088" opacity="0.5" filter="url(#blur2)"/>
<ellipse cx="80.0" cy="1030.0" rx="14" ry="20" fill="#9a88c0" opacity="0.35" filter="url(#blur2)"/>
<defs><filter id="k1s" x="0" y="0" width="100%" height="100%" color-interpolation-filters="sRGB"><feTurbulence type="fractalNoise" baseFrequency="0.5" numOctaves="1" seed="31"/><feColorMatrix type="matrix" values="0 0 0 0 0.353  0 0 0 0 0.235  0 0 0 0 0.549  1.5 0 0 0 -0.900"/></filter></defs>
<rect x="22.7" y="985.9" width="80.6" height="80.6" filter="url(#k1s)"/>
</g>
<circle cx="63.0" cy="1026.2" r="37.70" fill="none" stroke="#d0c8dc" stroke-width="1.0" opacity="0.7"/>
<defs><radialGradient id="k2" cx="0.5" cy="0.5" r="0.5"><stop offset="0" stop-color="#ae9fcc"/><stop offset="0.75" stop-color="#a898c8"/><stop offset="0.92" stop-color="#b6aad2"/><stop offset="1" stop-color="#9c8abe"/></radialGradient><clipPath id="k2c"><circle cx="147.5" cy="1026.2" r="39.0"/></clipPath></defs>
<circle cx="147.5" cy="1026.2" r="40.20" fill="#3a3440" />
<circle cx="147.5" cy="1026.2" r="39.20" fill="url(#k2)" />
<g clip-path="url(#k2c)">
<ellipse cx="162.5" cy="1054.3" rx="7" ry="5" fill="#f4f0f6" opacity="0.95" filter="url(#blur2)"/>
<ellipse cx="140.0" cy="1001.0" rx="4" ry="3" fill="#7a5aa8" opacity="0.7" filter="url(#blur2)"/>
<ellipse cx="180.0" cy="1022.0" rx="4" ry="14" fill="#d4cce4" opacity="0.7" filter="url(#blur2)"/>
<defs><filter id="k2s" x="0" y="0" width="100%" height="100%" color-interpolation-filters="sRGB"><feTurbulence type="fractalNoise" baseFrequency="0.5" numOctaves="1" seed="32"/><feColorMatrix type="matrix" values="0 0 0 0 0.478  0 0 0 0 0.376  0 0 0 0 0.667  1.5 0 0 0 -0.900"/></filter></defs>
<rect x="107.3" y="986.0" width="80.4" height="80.4" filter="url(#k2s)"/>
</g>
<circle cx="147.5" cy="1026.2" r="37.60" fill="none" stroke="#e0dae8" stroke-width="1.0" opacity="0.7"/>
<defs><radialGradient id="k3" cx="0.5" cy="0.5" r="0.5"><stop offset="0" stop-color="#a898c6"/><stop offset="0.7" stop-color="#9c8abe"/><stop offset="1" stop-color="#8a76ae"/></radialGradient><clipPath id="k3c"><circle cx="239.4" cy="1026.2" r="39.099999999999994"/></clipPath></defs>
<circle cx="239.4" cy="1026.2" r="40.30" fill="#3a3440" />
<circle cx="239.4" cy="1026.2" r="39.30" fill="url(#k3)" />
<g clip-path="url(#k3c)">
<ellipse cx="214.0" cy="1048.0" rx="10" ry="8" fill="#d0c6e2" opacity="0.7" filter="url(#blur2)"/>
<ellipse cx="258.0" cy="1040.0" rx="3" ry="10" fill="#c0b0d8" opacity="0.6" filter="url(#blur2)"/>
<ellipse cx="232.0" cy="1006.0" rx="14" ry="8" fill="#8a6cb4" opacity="0.4" filter="url(#blur2)"/>
<ellipse cx="245.0" cy="1030.0" rx="14" ry="14" fill="#b4a4d0" opacity="0.4" filter="url(#blur2)"/>
<defs><filter id="k3s" x="0" y="0" width="100%" height="100%" color-interpolation-filters="sRGB"><feTurbulence type="fractalNoise" baseFrequency="0.5" numOctaves="1" seed="33"/><feColorMatrix type="matrix" values="0 0 0 0 0.431  0 0 0 0 0.314  0 0 0 0 0.620  1.5 0 0 0 -0.900"/></filter></defs>
<rect x="199.1" y="985.9" width="80.6" height="80.6" filter="url(#k3s)"/>
</g>
<circle cx="239.4" cy="1026.2" r="37.70" fill="none" stroke="#d8d0e0" stroke-width="1.0" opacity="0.7"/>
<defs><radialGradient id="k4" cx="0.5" cy="0.5" r="0.5"><stop offset="0" stop-color="#c4b6dc"/><stop offset="0.6" stop-color="#b8a6d6"/><stop offset="1" stop-color="#a890cc"/></radialGradient><clipPath id="k4c"><circle cx="330.4" cy="1026.2" r="39.199999999999996"/></clipPath></defs>
<circle cx="330.4" cy="1026.2" r="40.40" fill="#3a3440" />
<circle cx="330.4" cy="1026.2" r="39.40" fill="url(#k4)" />
<g clip-path="url(#k4c)">
<ellipse cx="318.0" cy="1004.0" rx="16" ry="4" fill="#8050b8" opacity="0.6" filter="url(#blur2)"/>
<ellipse cx="350.0" cy="1015.0" rx="4" ry="12" fill="#9060c0" opacity="0.5" filter="url(#blur2)"/>
<ellipse cx="310.0" cy="1040.0" rx="10" ry="4" fill="#9a78c8" opacity="0.5" filter="url(#blur2)"/>
<ellipse cx="330.0" cy="1062.0" rx="10" ry="4" fill="#dcd0ea" opacity="0.7" filter="url(#blur2)"/>
<ellipse cx="360.0" cy="1031.0" rx="2" ry="2" fill="#502080" opacity="0.9" filter="url(#blur2)"/>
<defs><filter id="k4s" x="0" y="0" width="100%" height="100%" color-interpolation-filters="sRGB"><feTurbulence type="fractalNoise" baseFrequency="0.5" numOctaves="1" seed="34"/><feColorMatrix type="matrix" values="0 0 0 0 0.478  0 0 0 0 0.314  0 0 0 0 0.690  1.5 0 0 0 -0.900"/></filter></defs>
<rect x="290.0" y="985.8" width="80.8" height="80.8" filter="url(#k4s)"/>
</g>
<circle cx="330.4" cy="1026.2" r="37.80" fill="none" stroke="#e0d8ea" stroke-width="1.0" opacity="0.7"/>
<defs><filter id="fk41" x="0" y="0" width="100%" height="100%" color-interpolation-filters="sRGB"><feTurbulence type="fractalNoise" baseFrequency="0.12 0.6" numOctaves="2" seed="41"/><feColorMatrix type="matrix" values="0.6 0 0 0 0.24  0.58 0 0 0 0.24  0.45 0 0 0 0.39  0 0 0 0 1"/></filter></defs>
<defs><filter id="fk41n" x="0" y="0" width="100%" height="100%" color-interpolation-filters="sRGB"><feTurbulence type="fractalNoise" baseFrequency="0.3 0.7" numOctaves="1" seed="46"/><feColorMatrix type="matrix" values="0 0 0 0 0.314  0 0 0 0 0.282  0 0 0 0 0.627  5 0 0 0 -2.750"/></filter></defs>
<clipPath id="mk41"><rect x="19.6" y="1067.2" width="83.4" height="67.4"/></clipPath>
<rect x="19.60" y="1067.20" width="83.40" height="67.40" fill="#80809a" />
<g clip-path="url(#mk41)">
<g transform="rotate(-11.9 61.3 1100.9)"><rect x="-8.699999999999996" y="1030.9" width="140" height="140" filter="url(#fk41)"/></g>
<g transform="rotate(-22.7 61.3 1100.9)"><rect x="-8.699999999999996" y="1030.9" width="140" height="140" filter="url(#fk41n)"/></g>
</g>
<rect x="92.00" y="1130.10" width="8.00" height="2.20" fill="#fff" stroke="#333" stroke-width="0.3"/>
<defs><filter id="fk42" x="0" y="0" width="100%" height="100%" color-interpolation-filters="sRGB"><feTurbulence type="fractalNoise" baseFrequency="0.12 0.6" numOctaves="2" seed="42"/><feColorMatrix type="matrix" values="0.6 0 0 0 0.24  0.58 0 0 0 0.24  0.45 0 0 0 0.39  0 0 0 0 1"/></filter></defs>
<defs><filter id="fk42n" x="0" y="0" width="100%" height="100%" color-interpolation-filters="sRGB"><feTurbulence type="fractalNoise" baseFrequency="0.3 0.7" numOctaves="1" seed="47"/><feColorMatrix type="matrix" values="0 0 0 0 0.314  0 0 0 0 0.282  0 0 0 0 0.627  5 0 0 0 -2.750"/></filter></defs>
<clipPath id="mk42"><rect x="108.5" y="1067.2" width="84.0" height="67.4"/></clipPath>
<rect x="108.50" y="1067.20" width="84.00" height="67.40" fill="#80809a" />
<g clip-path="url(#mk42)">
<g transform="rotate(13.9 150.5 1100.9)"><rect x="80.5" y="1030.9" width="140" height="140" filter="url(#fk42)"/></g>
<g transform="rotate(-5.1 150.5 1100.9)"><rect x="80.5" y="1030.9" width="140" height="140" filter="url(#fk42n)"/></g>
</g>
<rect x="181.50" y="1130.10" width="8.00" height="2.20" fill="#fff" stroke="#333" stroke-width="0.3"/>
<defs><filter id="fk43" x="0" y="0" width="100%" height="100%" color-interpolation-filters="sRGB"><feTurbulence type="fractalNoise" baseFrequency="0.12 0.6" numOctaves="2" seed="43"/><feColorMatrix type="matrix" values="0.6 0 0 0 0.24  0.58 0 0 0 0.24  0.45 0 0 0 0.39  0 0 0 0 1"/></filter></defs>
<defs><filter id="fk43n" x="0" y="0" width="100%" height="100%" color-interpolation-filters="sRGB"><feTurbulence type="fractalNoise" baseFrequency="0.3 0.7" numOctaves="1" seed="48"/><feColorMatrix type="matrix" values="0 0 0 0 0.314  0 0 0 0 0.282  0 0 0 0 0.627  5 0 0 0 -2.750"/></filter></defs>
<clipPath id="mk43"><rect x="198.0" y="1067.2" width="84.0" height="67.4"/></clipPath>
<rect x="198.00" y="1067.20" width="84.00" height="67.40" fill="#80809a" />
<g clip-path="url(#mk43)">
<g transform="rotate(-46.1 240.0 1100.9)"><rect x="170.0" y="1030.9" width="140" height="140" filter="url(#fk43)"/></g>
<g transform="rotate(-38.3 240.0 1100.9)"><rect x="170.0" y="1030.9" width="140" height="140" filter="url(#fk43n)"/></g>
</g>
<rect x="271.00" y="1130.10" width="8.00" height="2.20" fill="#fff" stroke="#333" stroke-width="0.3"/>
<defs><filter id="fk44" x="0" y="0" width="100%" height="100%" color-interpolation-filters="sRGB"><feTurbulence type="fractalNoise" baseFrequency="0.12 0.6" numOctaves="2" seed="44"/><feColorMatrix type="matrix" values="0.6 0 0 0 0.24  0.58 0 0 0 0.24  0.45 0 0 0 0.39  0 0 0 0 1"/></filter></defs>
<defs><filter id="fk44n" x="0" y="0" width="100%" height="100%" color-interpolation-filters="sRGB"><feTurbulence type="fractalNoise" baseFrequency="0.3 0.7" numOctaves="1" seed="49"/><feColorMatrix type="matrix" values="0 0 0 0 0.314  0 0 0 0 0.282  0 0 0 0 0.627  5 0 0 0 -2.750"/></filter></defs>
<clipPath id="mk44"><rect x="288.2" y="1067.2" width="85.8" height="67.4"/></clipPath>
<rect x="288.20" y="1067.20" width="85.80" height="67.40" fill="#80809a" />
<g clip-path="url(#mk44)">
<g transform="rotate(-9.1 331.1 1100.9)"><rect x="261.09999999999997" y="1030.9" width="140" height="140" filter="url(#fk44)"/></g>
<g transform="rotate(-7.5 331.1 1100.9)"><rect x="261.09999999999997" y="1030.9" width="140" height="140" filter="url(#fk44n)"/></g>
</g>
<rect x="363.00" y="1130.10" width="8.00" height="2.20" fill="#fff" stroke="#333" stroke-width="0.3"/>
<text x="391.70" y="988.70" font-size="11.5" text-anchor="start" font-weight="bold" fill="#111" >L</text>
<line x1="434.00" y1="985.80" x2="434.00" y2="1119.50" stroke="#333" stroke-width="1.2"/>
<line x1="430.00" y1="1118.90" x2="434.00" y2="1118.90" stroke="#333" stroke-width="1.2"/>
<text x="428.00" y="1122.30" font-size="9.3" text-anchor="end" font-weight="bold" fill="#111" >0</text>
<line x1="430.00" y1="1085.62" x2="434.00" y2="1085.62" stroke="#333" stroke-width="1.2"/>
<text x="428.00" y="1089.03" font-size="9.3" text-anchor="end" font-weight="bold" fill="#111" >50</text>
<line x1="430.00" y1="1052.35" x2="434.00" y2="1052.35" stroke="#333" stroke-width="1.2"/>
<text x="428.00" y="1055.75" font-size="9.3" text-anchor="end" font-weight="bold" fill="#111" >100</text>
<line x1="430.00" y1="1019.08" x2="434.00" y2="1019.08" stroke="#333" stroke-width="1.2"/>
<text x="428.00" y="1022.48" font-size="9.3" text-anchor="end" font-weight="bold" fill="#111" >150</text>
<line x1="430.00" y1="985.80" x2="434.00" y2="985.80" stroke="#333" stroke-width="1.2"/>
<text x="428.00" y="989.20" font-size="9.3" text-anchor="end" font-weight="bold" fill="#111" >200</text>
<line x1="434.00" y1="1118.90" x2="568.50" y2="1118.90" stroke="#333" stroke-width="1.2"/>
<text x="406.20" y="1052.00" font-size="11.1" text-anchor="middle" font-weight="bold" fill="#111" transform="rotate(-90 406.20 1052.00)" >ALP activity (%)</text>
<rect x="444.50" y="1052.35" width="20.80" height="66.55" fill="#5a55f5" />
<line x1="454.90" y1="1118.90" x2="454.90" y2="1122.40" stroke="#333" stroke-width="1.2"/>
<rect x="475.30" y="1087.62" width="20.80" height="31.28" fill="#f07a7e" />
<line x1="485.70" y1="1118.90" x2="485.70" y2="1122.40" stroke="#333" stroke-width="1.2"/>
<rect x="506.50" y="1052.35" width="20.80" height="66.55" fill="#babaf8" />
<line x1="516.90" y1="1118.90" x2="516.90" y2="1122.40" stroke="#333" stroke-width="1.2"/>
<rect x="537.30" y="1009.09" width="20.80" height="109.81" fill="#f5dcdc" />
<line x1="547.70" y1="1118.90" x2="547.70" y2="1122.40" stroke="#333" stroke-width="1.2"/>
<circle cx="446.6" cy="1052.4" r="2.60" fill="#ffffff" stroke="#111" stroke-width="1.5"/>
<circle cx="452.0" cy="1052.4" r="2.60" fill="#ffffff" stroke="#111" stroke-width="1.5"/>
<circle cx="457.4" cy="1052.4" r="2.60" fill="#ffffff" stroke="#111" stroke-width="1.5"/>
<circle cx="462.8" cy="1052.4" r="2.60" fill="#ffffff" stroke="#111" stroke-width="1.5"/>
<circle cx="508.6" cy="1052.4" r="2.60" fill="#ffffff" stroke="#111" stroke-width="1.5"/>
<circle cx="514.0" cy="1052.4" r="2.60" fill="#ffffff" stroke="#111" stroke-width="1.5"/>
<circle cx="519.4" cy="1052.4" r="2.60" fill="#ffffff" stroke="#111" stroke-width="1.5"/>
<circle cx="524.8" cy="1052.4" r="2.60" fill="#ffffff" stroke="#111" stroke-width="1.5"/>
<circle cx="477.8" cy="1080.6" r="2.60" fill="#ffffff" stroke="#111" stroke-width="1.5"/>
<circle cx="478.2" cy="1095.2" r="2.60" fill="#ffffff" stroke="#111" stroke-width="1.5"/>
<circle cx="493.2" cy="1081.5" r="2.60" fill="#ffffff" stroke="#111" stroke-width="1.5"/>
<circle cx="493.2" cy="1092.3" r="2.60" fill="#ffffff" stroke="#111" stroke-width="1.5"/>
<circle cx="540.2" cy="1001.6" r="2.60" fill="#ffffff" stroke="#111" stroke-width="1.5"/>
<circle cx="547.3" cy="1008.3" r="2.60" fill="#ffffff" stroke="#111" stroke-width="1.5"/>
<circle cx="547.3" cy="1016.6" r="2.60" fill="#ffffff" stroke="#111" stroke-width="1.5"/>
<circle cx="554.7" cy="1007.0" r="2.60" fill="#ffffff" stroke="#111" stroke-width="1.5"/>
<text x="485.30" y="1077.50" font-size="13" text-anchor="middle" font-weight="normal" fill="#333" >**</text>
<text x="548.90" y="994.20" font-size="10.5" text-anchor="middle" font-weight="normal" fill="#444" >##</text>
<text x="459.00" y="1131.50" font-size="10.4" text-anchor="end" font-weight="bold" fill="#111" transform="rotate(-45 459.00 1131.50)" >NC</text>
<text x="489.50" y="1131.50" font-size="10.4" text-anchor="end" font-weight="bold" fill="#111" transform="rotate(-45 489.50 1131.50)" >Mimics</text>
<text x="520.50" y="1131.50" font-size="10.4" text-anchor="end" font-weight="bold" fill="#111" transform="rotate(-45 520.50 1131.50)" >Inhibitor NC</text>
<text x="551.50" y="1131.50" font-size="10.4" text-anchor="end" font-weight="bold" fill="#111" transform="rotate(-45 551.50 1131.50)" >Inhibitor</text>
<defs><filter id="blur3" x="-30%" y="-30%" width="160%" height="160%"><feGaussianBlur stdDeviation="14"/></filter><filter id="blur4" x="-50%" y="-50%" width="200%" height="200%"><feGaussianBlur stdDeviation="16"/></filter><filter id="blur5" x="-50%" y="-50%" width="200%" height="200%"><feGaussianBlur stdDeviation="6"/></filter></defs>
<text x="6.10" y="1147.20" font-size="12.5" text-anchor="start" font-weight="bold" fill="#111" >M</text>
<text x="55.20" y="1154.30" font-size="9.5" text-anchor="middle" font-weight="bold" fill="#111" >N.C</text>
<text x="149.60" y="1154.30" font-size="9.5" text-anchor="middle" font-weight="bold" fill="#111" >Mimics</text>
<text x="245.20" y="1154.30" font-size="9.5" text-anchor="middle" font-weight="bold" fill="#111" >Inhibitor N.C</text>
<text x="333.50" y="1154.30" font-size="9.5" text-anchor="middle" font-weight="bold" fill="#111" >Inhibitor</text>
<defs><radialGradient id="m1" cx="0.5" cy="0.5" r="0.5"><stop offset="0" stop-color="#e47a92"/><stop offset="0.4" stop-color="#dc5070"/><stop offset="0.8" stop-color="#d43052"/><stop offset="1" stop-color="#c41e40"/></radialGradient><clipPath id="m1c"><circle cx="59.8" cy="1197.4" r="38.8"/></clipPath></defs>
<circle cx="59.8" cy="1197.4" r="40.00" fill="#b01834" />
<circle cx="59.8" cy="1197.4" r="39.00" fill="url(#m1)" />
<g clip-path="url(#m1c)">
<ellipse cx="62.0" cy="1200.0" rx="16" ry="12" fill="#eca2b8" opacity="0.6" filter="url(#blur2)"/>
<defs><filter id="m1s" x="0" y="0" width="100%" height="100%" color-interpolation-filters="sRGB"><feTurbulence type="fractalNoise" baseFrequency="0.8" numOctaves="1" seed="51"/><feColorMatrix type="matrix" values="0 0 0 0 0.753  0 0 0 0 0.094  0 0 0 0 0.235  4 0 0 0 -2.400"/></filter></defs>
<rect x="19.8" y="1157.4" width="80.0" height="80.0" filter="url(#m1s)"/>
<defs><filter id="m1b" x="0" y="0" width="100%" height="100%" color-interpolation-filters="sRGB"><feTurbulence type="fractalNoise" baseFrequency="0.15" numOctaves="1" seed="151"/><feColorMatrix type="matrix" values="0 0 0 0 0.784  0 0 0 0 0.125  0 0 0 0 0.251  2.5 0 0 0 -1.500"/></filter></defs>
<rect x="19.8" y="1157.4" width="80.0" height="80.0" filter="url(#m1b)"/>
</g>
<circle cx="59.8" cy="1197.4" r="37.40" fill="none" stroke="#f0a0b0" stroke-width="0.8" opacity="0.6"/>
<defs><radialGradient id="m2" cx="0.5" cy="0.5" r="0.5"><stop offset="0" stop-color="#f2dce0"/><stop offset="0.55" stop-color="#f0ccd4"/><stop offset="0.85" stop-color="#e8a0b0"/><stop offset="1" stop-color="#d84a68"/></radialGradient><clipPath id="m2c"><circle cx="150.5" cy="1197.4" r="38.9"/></clipPath></defs>
<circle cx="150.5" cy="1197.4" r="40.10" fill="#c82848" />
<circle cx="150.5" cy="1197.4" r="39.10" fill="url(#m2)" />
<g clip-path="url(#m2c)">
<ellipse cx="135.0" cy="1182.0" rx="6" ry="4" fill="#d84860" opacity="0.6" filter="url(#blur2)"/>
<ellipse cx="172.0" cy="1218.0" rx="5" ry="7" fill="#dc5870" opacity="0.5" filter="url(#blur2)"/>
<ellipse cx="128.0" cy="1215.0" rx="6" ry="4" fill="#e06070" opacity="0.5" filter="url(#blur2)"/>
<defs><filter id="m2s" x="0" y="0" width="100%" height="100%" color-interpolation-filters="sRGB"><feTurbulence type="fractalNoise" baseFrequency="0.45" numOctaves="1" seed="52"/><feColorMatrix type="matrix" values="0 0 0 0 0.800  0 0 0 0 0.125  0 0 0 0 0.251  4 0 0 0 -2.520"/></filter></defs>
<rect x="110.4" y="1157.3" width="80.2" height="80.2" filter="url(#m2s)"/>
<defs><filter id="m2b" x="0" y="0" width="100%" height="100%" color-interpolation-filters="sRGB"><feTurbulence type="fractalNoise" baseFrequency="0.2" numOctaves="1" seed="152"/><feColorMatrix type="matrix" values="0 0 0 0 0.831  0 0 0 0 0.173  0 0 0 0 0.298  4 0 0 0 -2.560"/></filter></defs>
<rect x="110.4" y="1157.3" width="80.2" height="80.2" filter="url(#m2b)"/>
</g>
<circle cx="150.5" cy="1197.4" r="37.50" fill="none" stroke="#f4d0d8" stroke-width="0.8" opacity="0.7"/>
<defs><radialGradient id="m3" cx="0.5" cy="0.5" r="0.5"><stop offset="0" stop-color="#f2dce0"/><stop offset="0.5" stop-color="#eec8d0"/><stop offset="0.85" stop-color="#e498ac"/><stop offset="1" stop-color="#d84a68"/></radialGradient><clipPath id="m3c"><circle cx="241.0" cy="1197.7" r="39.099999999999994"/></clipPath></defs>
<circle cx="241.0" cy="1197.7" r="40.30" fill="#c82848" />
<circle cx="241.0" cy="1197.7" r="39.30" fill="url(#m3)" />
<g clip-path="url(#m3c)">
<ellipse cx="232.0" cy="1212.0" rx="16" ry="6" fill="#e46e88" opacity="0.5" filter="url(#blur2)"/>
<ellipse cx="238.0" cy="1182.0" rx="12" ry="8" fill="#f6e4e8" opacity="0.7" filter="url(#blur2)"/>
<defs><filter id="m3s" x="0" y="0" width="100%" height="100%" color-interpolation-filters="sRGB"><feTurbulence type="fractalNoise" baseFrequency="0.45" numOctaves="1" seed="53"/><feColorMatrix type="matrix" values="0 0 0 0 0.800  0 0 0 0 0.125  0 0 0 0 0.251  4 0 0 0 -2.520"/></filter></defs>
<rect x="200.7" y="1157.4" width="80.6" height="80.6" filter="url(#m3s)"/>
<defs><filter id="m3b" x="0" y="0" width="100%" height="100%" color-interpolation-filters="sRGB"><feTurbulence type="fractalNoise" baseFrequency="0.2" numOctaves="1" seed="153"/><feColorMatrix type="matrix" values="0 0 0 0 0.831  0 0 0 0 0.173  0 0 0 0 0.298  4 0 0 0 -2.560"/></filter></defs>
<rect x="200.7" y="1157.4" width="80.6" height="80.6" filter="url(#m3b)"/>
</g>
<circle cx="241.0" cy="1197.7" r="37.70" fill="none" stroke="#f4d0d8" stroke-width="0.8" opacity="0.7"/>
<defs><radialGradient id="m4" cx="0.5" cy="0.5" r="0.5"><stop offset="0" stop-color="#f0d4d4"/><stop offset="0.55" stop-color="#ecc0c4"/><stop offset="0.85" stop-color="#e890a4"/><stop offset="1" stop-color="#d43a58"/></radialGradient><clipPath id="m4c"><circle cx="330.3" cy="1197.7" r="39.4"/></clipPath></defs>
<circle cx="330.3" cy="1197.7" r="40.60" fill="#c82848" />
<circle cx="330.3" cy="1197.7" r="39.60" fill="url(#m4)" />
<g clip-path="url(#m4c)">
<defs><filter id="m4s" x="0" y="0" width="100%" height="100%" color-interpolation-filters="sRGB"><feTurbulence type="fractalNoise" baseFrequency="0.8" numOctaves="1" seed="54"/><feColorMatrix type="matrix" values="0 0 0 0 0.784  0 0 0 0 0.125  0 0 0 0 0.251  4 0 0 0 -2.400"/></filter></defs>
<rect x="289.7" y="1157.1" width="81.2" height="81.2" filter="url(#m4s)"/>
</g>
<circle cx="330.3" cy="1197.7" r="38.00" fill="none" stroke="#e86080" stroke-width="1.2" opacity="0.7"/>
<defs><filter id="fm61" x="0" y="0" width="100%" height="100%" color-interpolation-filters="sRGB"><feTurbulence type="fractalNoise" baseFrequency="0.7" numOctaves="1" seed="61"/><feColorMatrix type="matrix" values="0.3 0 0 0 0.697  0.3 0 0 0 0.650  0.3 0 0 0 0.674  0 0 0 0 1"/></filter></defs>
<defs><filter id="fm61s" x="0" y="0" width="100%" height="100%" color-interpolation-filters="sRGB"><feTurbulence type="fractalNoise" baseFrequency="0.9" numOctaves="1" seed="68"/><feColorMatrix type="matrix" values="0 0 0 0 0.627  0 0 0 0 0.251  0 0 0 0 0.376  2.5 0 0 0 -1.500"/></filter></defs>
<clipPath id="mm61"><rect x="20.3" y="1241.9" width="83.5" height="66.8"/></clipPath>
<g clip-path="url(#mm61)">
<rect x="20.3" y="1241.9" width="83.5" height="66.8" filter="url(#fm61)"/>
<g transform="translate(15 1238) scale(0.13870)">
<path d="M300,160 L250,70 L200,60 L260,200 L170,280 L60,270 L140,300 Z" fill="#b85070" opacity="0.7" filter="url(#blur4)"/>
<path d="M115,385 L200,330 L260,300 L320,235 L360,170 L360,40 L500,30 L590,50 L560,95 L480,150 L420,205 L440,240 L430,290 L380,300 L340,360 L335,420 L395,470 L410,510 L140,510 L125,450 Z" fill="#962848" filter="url(#blur5)"/>
<path d="M360,40 L500,30 L590,50 L540,90 L470,120 L400,150 L365,110 Z" fill="#a03050" filter="url(#blur5)"/>
<ellipse cx="320" cy="275" rx="65" ry="55" fill="#401018" filter="url(#blur4)"/>
<path d="M420,205 L445,240 L432,292 L400,270 Z" fill="#801838" filter="url(#blur5)"/>
</g>
<rect x="20.3" y="1241.9" width="83.5" height="66.8" filter="url(#fm61s)"/>
</g>
<rect x="90.80" y="1305.10" width="10.00" height="1.80" fill="#fff" stroke="#444" stroke-width="0.3"/>
<defs><filter id="fm62" x="0" y="0" width="100%" height="100%" color-interpolation-filters="sRGB"><feTurbulence type="fractalNoise" baseFrequency="0.7" numOctaves="1" seed="62"/><feColorMatrix type="matrix" values="0.3 0 0 0 0.681  0.3 0 0 0 0.626  0.3 0 0 0 0.642  0 0 0 0 1"/></filter></defs>
<defs><filter id="fm62s" x="0" y="0" width="100%" height="100%" color-interpolation-filters="sRGB"><feTurbulence type="fractalNoise" baseFrequency="0.9" numOctaves="1" seed="69"/><feColorMatrix type="matrix" values="0 0 0 0 0.627  0 0 0 0 0.314  0 0 0 0 0.376  2.5 0 0 0 -1.500"/></filter></defs>
<clipPath id="mm62"><rect x="110.5" y="1241.9" width="80.5" height="64.1"/></clipPath>
<g clip-path="url(#mm62)">
<rect x="110.5" y="1241.9" width="80.5" height="64.1" filter="url(#fm62)"/>
<g transform="translate(105 1238) scale(0.13870)">
<path d="M60,140 L180,200 L170,60 L230,180 L330,140 L290,250 L370,360 L300,380 L260,460 L200,420 L120,470 L160,340 L60,280 Z" fill="#c85c78" opacity="0.55" filter="url(#blur4)"/>
<ellipse cx="250" cy="280" rx="60" ry="50" fill="#b85070" opacity="0.5" filter="url(#blur4)"/>
<ellipse cx="245" cy="400" rx="40" ry="40" fill="#ead8de" opacity="0.9" filter="url(#blur4)"/>
</g>
<rect x="110.5" y="1241.9" width="80.5" height="64.1" filter="url(#fm62s)"/>
</g>
<rect x="178.00" y="1302.40" width="10.00" height="1.80" fill="#fff" stroke="#444" stroke-width="0.3"/>
<defs><filter id="fm63" x="0" y="0" width="100%" height="100%" color-interpolation-filters="sRGB"><feTurbulence type="fractalNoise" baseFrequency="0.7" numOctaves="1" seed="63"/><feColorMatrix type="matrix" values="0.3 0 0 0 0.654  0.3 0 0 0 0.587  0.3 0 0 0 0.611  0 0 0 0 1"/></filter></defs>
<defs><filter id="fm63s" x="0" y="0" width="100%" height="100%" color-interpolation-filters="sRGB"><feTurbulence type="fractalNoise" baseFrequency="0.9" numOctaves="1" seed="70"/><feColorMatrix type="matrix" values="0 0 0 0 0.627  0 0 0 0 0.251  0 0 0 0 0.345  3 0 0 0 -1.710"/></filter></defs>
<clipPath id="mm63"><rect x="201.2" y="1241.9" width="80.1" height="64.1"/></clipPath>
<g clip-path="url(#mm63)">
<rect x="201.2" y="1241.9" width="80.1" height="64.1" filter="url(#fm63)"/>
<g transform="translate(195 1238) scale(0.13870)">
<path d="M225,80 L245,120 L285,220 L330,320 L420,360 L520,390 L500,410 L400,390 L320,360 L270,270 L235,170 Z" fill="#b03860" filter="url(#blur5)"/>
<ellipse cx="420" cy="130" rx="90" ry="60" fill="#c07090" opacity="0.35" filter="url(#blur4)"/>
</g>
<rect x="201.2" y="1241.9" width="80.1" height="64.1" filter="url(#fm63s)"/>
</g>
<rect x="268.30" y="1302.40" width="10.00" height="1.80" fill="#fff" stroke="#444" stroke-width="0.3"/>
<defs><filter id="fm64" x="0" y="0" width="100%" height="100%" color-interpolation-filters="sRGB"><feTurbulence type="fractalNoise" baseFrequency="0.7" numOctaves="1" seed="64"/><feColorMatrix type="matrix" values="0.3 0 0 0 0.650  0.3 0 0 0 0.540  0.3 0 0 0 0.572  0 0 0 0 1"/></filter></defs>
<defs><filter id="fm64s" x="0" y="0" width="100%" height="100%" color-interpolation-filters="sRGB"><feTurbulence type="fractalNoise" baseFrequency="0.9" numOctaves="1" seed="71"/><feColorMatrix type="matrix" values="0 0 0 0 0.627  0 0 0 0 0.251  0 0 0 0 0.376  2.5 0 0 0 -1.550"/></filter></defs>
<clipPath id="mm64"><rect x="292.2" y="1241.9" width="80.5" height="64.1"/></clipPath>
<g clip-path="url(#mm64)">
<rect x="292.2" y="1241.9" width="80.5" height="64.1" filter="url(#fm64)"/>
<g transform="translate(285 1238) scale(0.13870)">
<path d="M300,80 L420,60 L520,120 L600,200 L620,420 L450,470 L300,440 L200,470 Z" fill="#c88098" opacity="0.55" filter="url(#blur4)"/>
<path d="M70,70 L240,60 L275,120 L270,200 L230,260 L190,300 L170,360 L100,420 L60,380 Z" fill="#f0ecec" filter="url(#blur4)"/>
<path d="M290,90 L350,100 L370,180 L340,280 L260,340 L190,380 L120,460 L80,470 L160,360 L200,290 L260,230 L280,160 Z" fill="#902030" filter="url(#blur5)"/>
<ellipse cx="310" cy="220" rx="40" ry="70" fill="#5a1018" filter="url(#blur4)"/>
<path d="M380,160 L480,110 L520,140 L420,200 Z" fill="#eedde0" opacity="0.8" filter="url(#blur4)"/>
<ellipse cx="260" cy="420" rx="90" ry="50" fill="#ecdde2" opacity="0.7" filter="url(#blur4)"/>
</g>
<rect x="292.2" y="1241.9" width="80.5" height="64.1" filter="url(#fm64s)"/>
</g>
<rect x="359.70" y="1302.40" width="10.00" height="1.80" fill="#fff" stroke="#444" stroke-width="0.3"/>
<text x="383.90" y="1144.60" font-size="11.5" text-anchor="start" font-weight="bold" fill="#111" >N</text>
<line x1="431.40" y1="1156.30" x2="431.40" y2="1288.60" stroke="#333" stroke-width="1.2"/>
<line x1="427.40" y1="1288.00" x2="431.40" y2="1288.00" stroke="#333" stroke-width="1.2"/>
<text x="426.00" y="1291.20" font-size="9.0" text-anchor="end" font-weight="bold" fill="#111" >0.0</text>
<line x1="427.40" y1="1255.08" x2="431.40" y2="1255.08" stroke="#333" stroke-width="1.2"/>
<text x="426.00" y="1258.28" font-size="9.0" text-anchor="end" font-weight="bold" fill="#111" >0.5</text>
<line x1="427.40" y1="1222.15" x2="431.40" y2="1222.15" stroke="#333" stroke-width="1.2"/>
<text x="426.00" y="1225.35" font-size="9.0" text-anchor="end" font-weight="bold" fill="#111" >1.0</text>
<line x1="427.40" y1="1189.22" x2="431.40" y2="1189.22" stroke="#333" stroke-width="1.2"/>
<text x="426.00" y="1192.42" font-size="9.0" text-anchor="end" font-weight="bold" fill="#111" >1.5</text>
<line x1="427.40" y1="1156.30" x2="431.40" y2="1156.30" stroke="#333" stroke-width="1.2"/>
<text x="426.00" y="1159.50" font-size="9.0" text-anchor="end" font-weight="bold" fill="#111" >2.0</text>
<line x1="431.40" y1="1288.00" x2="563.70" y2="1288.00" stroke="#333" stroke-width="1.2"/>
<text x="393.60" y="1222.20" font-size="10.9" text-anchor="middle" font-weight="bold" fill="#111" transform="rotate(-90 393.60 1222.20)" >Osteocalcin concentration</text>
<text x="406.40" y="1222.00" font-size="10.9" text-anchor="middle" font-weight="bold" fill="#111" transform="rotate(-90 406.40 1222.00)" >(ng/mL)</text>
<rect x="442.00" y="1191.86" width="20.80" height="96.14" fill="#5a55f5" />
<line x1="452.40" y1="1288.00" x2="452.40" y2="1291.50" stroke="#333" stroke-width="1.2"/>
<rect x="472.50" y="1251.12" width="20.80" height="36.88" fill="#f07a7e" />
<line x1="482.90" y1="1288.00" x2="482.90" y2="1291.50" stroke="#333" stroke-width="1.2"/>
<rect x="502.70" y="1263.64" width="20.80" height="24.36" fill="#babaf8" />
<line x1="513.10" y1="1288.00" x2="513.10" y2="1291.50" stroke="#333" stroke-width="1.2"/>
<rect x="533.20" y="1214.25" width="20.80" height="73.75" fill="#f5dcdc" />
<line x1="543.60" y1="1288.00" x2="543.60" y2="1291.50" stroke="#333" stroke-width="1.2"/>
<circle cx="445.2" cy="1187.2" r="2.60" fill="#ffffff" stroke="#111" stroke-width="1.5"/>
<circle cx="452.6" cy="1193.6" r="2.60" fill="#ffffff" stroke="#111" stroke-width="1.5"/>
<circle cx="452.6" cy="1199.0" r="2.60" fill="#ffffff" stroke="#111" stroke-width="1.5"/>
<circle cx="459.6" cy="1189.7" r="2.60" fill="#ffffff" stroke="#111" stroke-width="1.5"/>
<circle cx="475.4" cy="1257.2" r="2.60" fill="#ffffff" stroke="#111" stroke-width="1.5"/>
<circle cx="482.8" cy="1243.0" r="2.60" fill="#ffffff" stroke="#111" stroke-width="1.5"/>
<circle cx="482.8" cy="1252.0" r="2.60" fill="#ffffff" stroke="#111" stroke-width="1.5"/>
<circle cx="490.1" cy="1252.3" r="2.60" fill="#ffffff" stroke="#111" stroke-width="1.5"/>
<circle cx="505.9" cy="1260.7" r="2.60" fill="#ffffff" stroke="#111" stroke-width="1.5"/>
<circle cx="505.9" cy="1268.7" r="2.60" fill="#ffffff" stroke="#111" stroke-width="1.5"/>
<circle cx="513.0" cy="1262.3" r="2.60" fill="#ffffff" stroke="#111" stroke-width="1.5"/>
<circle cx="520.3" cy="1265.2" r="2.60" fill="#ffffff" stroke="#111" stroke-width="1.5"/>
<circle cx="536.1" cy="1219.9" r="2.60" fill="#ffffff" stroke="#111" stroke-width="1.5"/>
<circle cx="543.8" cy="1205.8" r="2.60" fill="#ffffff" stroke="#111" stroke-width="1.5"/>
<circle cx="543.8" cy="1215.4" r="2.60" fill="#ffffff" stroke="#111" stroke-width="1.5"/>
<circle cx="551.2" cy="1216.7" r="2.60" fill="#ffffff" stroke="#111" stroke-width="1.5"/>
<text x="483.40" y="1239.50" font-size="13" text-anchor="middle" font-weight="normal" fill="#333" >**</text>
<text x="544.40" y="1201.20" font-size="10.5" text-anchor="middle" font-weight="normal" fill="#444" >##</text>
<text x="455.90" y="1303.00" font-size="10.4" text-anchor="end" font-weight="bold" fill="#111" transform="rotate(-45 455.90 1303.00)" >NC</text>
<text x="486.40" y="1303.00" font-size="10.4" text-anchor="end" font-weight="bold" fill="#111" transform="rotate(-45 486.40 1303.00)" >Mimics</text>
<text x="516.60" y="1303.00" font-size="10.4" text-anchor="end" font-weight="bold" fill="#111" transform="rotate(-45 516.60 1303.00)" >Inhibitor NC</text>
<text x="547.10" y="1303.00" font-size="10.4" text-anchor="end" font-weight="bold" fill="#111" transform="rotate(-45 547.10 1303.00)" >Inhibitor</text>
</svg>
</body></html>
